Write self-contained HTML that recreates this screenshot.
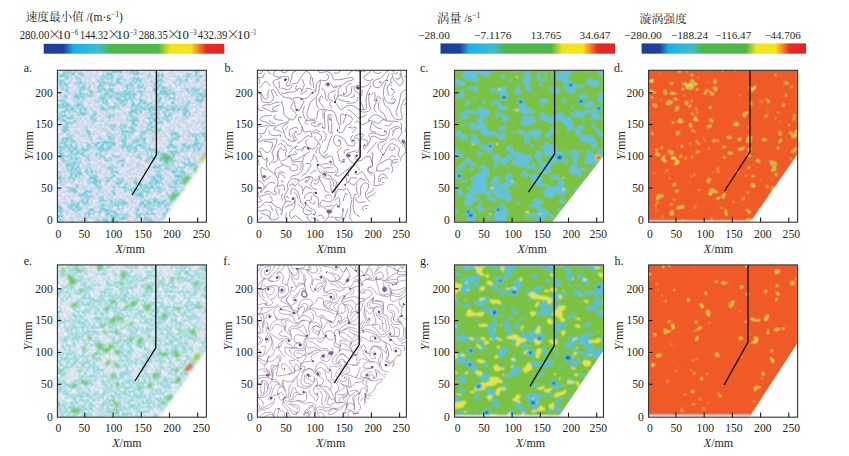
<!DOCTYPE html><html><head><meta charset="utf-8"><style>html,body{margin:0;padding:0;background:#fff;width:849px;height:456px;overflow:hidden}svg{display:block}</style></head><body>
<svg width="849" height="456" viewBox="0 0 849 456" font-family="&apos;Liberation Serif&apos;,&apos;Noto Serif CJK SC&apos;,serif">
<defs>
<linearGradient id="cb" x1="0" x2="1" y1="0" y2="0"><stop offset="0" stop-color="#1e3c98"/><stop offset="0.11" stop-color="#22409f"/><stop offset="0.165" stop-color="#16b2e8"/><stop offset="0.30" stop-color="#3cbcd4"/><stop offset="0.375" stop-color="#4cb848"/><stop offset="0.635" stop-color="#4fb947"/><stop offset="0.70" stop-color="#f2e41c"/><stop offset="0.815" stop-color="#f6e21a"/><stop offset="0.90" stop-color="#ea2a26"/><stop offset="1" stop-color="#e42126"/></linearGradient>
<pattern id="mesh" width="6" height="6" patternUnits="userSpaceOnUse"><rect x="0" y="1" width="2.2" height="0.8" fill="#8a9cc8" fill-opacity="0.5"/><rect x="3" y="4" width="2.2" height="0.8" fill="#8a9cc8" fill-opacity="0.5"/><rect x="4" y="0" width="0.8" height="2.2" fill="#8a9cc8" fill-opacity="0.45"/><rect x="1" y="3" width="0.8" height="2.2" fill="#8a9cc8" fill-opacity="0.45"/></pattern>
<filter id="spk" x="0" y="0" width="1" height="1" color-interpolation-filters="sRGB"><feTurbulence type="fractalNoise" baseFrequency="0.45" numOctaves="1" seed="7" result="n"/><feColorMatrix in="n" type="matrix" values="0 0 0 0 1  0 0 0 0 1  0 0 0 0 1  3 0 0 0 -1.25"/></filter>
<filter id="soft" x="-0.5" y="-0.5" width="2" height="2"><feGaussianBlur stdDeviation="0.9"/></filter>
<filter id="mb" x="-0.2" y="-0.2" width="1.4" height="1.4"><feGaussianBlur stdDeviation="1.4"/></filter>
<filter id="bl" x="0" y="0" width="1" height="1"><feConvolveMatrix order="3" kernelMatrix="1 2 1 2 4 2 1 2 1" divisor="16" edgeMode="duplicate"/></filter>
</defs>
<g fill="#231f20">
<text x="25.7" y="21.3" font-size="11.6">速度最小值 <tspan font-size="11.5">/(m·s</tspan><tspan dy="-4.2" font-size="7.6">−1</tspan><tspan dy="4.2" font-size="11.5">)</tspan></text>
<text x="19.7" y="39.3" font-size="11.6" textLength="29.6" lengthAdjust="spacingAndGlyphs">280.00</text>
<text x="48.1" y="39" font-size="13.2" font-family="Noto Sans CJK SC,sans-serif" font-weight="300">×</text>
<text x="57.5" y="39.3" font-size="11.6" textLength="12.8" lengthAdjust="spacingAndGlyphs">10</text>
<text x="70.8" y="34.6" font-size="7.6" textLength="7.5" lengthAdjust="spacingAndGlyphs">−6</text>
<text x="80.1" y="39.3" font-size="11.6" textLength="28.0" lengthAdjust="spacingAndGlyphs">144.32</text>
<text x="107.3" y="39" font-size="13.2" font-family="Noto Sans CJK SC,sans-serif" font-weight="300">×</text>
<text x="116.5" y="39.3" font-size="11.6" textLength="12.8" lengthAdjust="spacingAndGlyphs">10</text>
<text x="129.8" y="34.6" font-size="7.6" textLength="6.9" lengthAdjust="spacingAndGlyphs">−3</text>
<text x="138.8" y="39.3" font-size="11.6" textLength="28.9" lengthAdjust="spacingAndGlyphs">288.35</text>
<text x="166.9" y="39" font-size="13.2" font-family="Noto Sans CJK SC,sans-serif" font-weight="300">×</text>
<text x="176.2" y="39.3" font-size="11.6" textLength="12.8" lengthAdjust="spacingAndGlyphs">10</text>
<text x="189.5" y="34.6" font-size="7.6" textLength="7.2" lengthAdjust="spacingAndGlyphs">−3</text>
<text x="197.8" y="39.3" font-size="11.6" textLength="29.6" lengthAdjust="spacingAndGlyphs">432.39</text>
<text x="226.6" y="39" font-size="13.2" font-family="Noto Sans CJK SC,sans-serif" font-weight="300">×</text>
<text x="237.0" y="39.3" font-size="11.6" textLength="12.8" lengthAdjust="spacingAndGlyphs">10</text>
<text x="250.3" y="34.6" font-size="7.6" textLength="5.4" lengthAdjust="spacingAndGlyphs">−3</text>
<text x="437.0" y="23.0" font-size="12.2">涡量 <tspan font-size="11.5" dy="-1">/s</tspan><tspan dy="-4.2" font-size="7.6">−1</tspan></text>
<text x="418.1" y="38.5" font-size="11" textLength="31.8" lengthAdjust="spacingAndGlyphs">−28.00</text>
<text x="474.1" y="38.5" font-size="11" textLength="37.4" lengthAdjust="spacingAndGlyphs">−7.1176</text>
<text x="530.8" y="38.5" font-size="11" textLength="30.4" lengthAdjust="spacingAndGlyphs">13.765</text>
<text x="579.5" y="38.5" font-size="11" textLength="31.0" lengthAdjust="spacingAndGlyphs">34.647</text>
<text x="624.1" y="38.5" font-size="11" textLength="37.7" lengthAdjust="spacingAndGlyphs">−280.00</text>
<text x="670.9" y="38.5" font-size="11" textLength="37.2" lengthAdjust="spacingAndGlyphs">−188.24</text>
<text x="714.9" y="38.5" font-size="11" textLength="36.3" lengthAdjust="spacingAndGlyphs">−116.47</text>
<text x="764.4" y="38.5" font-size="11" textLength="36.5" lengthAdjust="spacingAndGlyphs">−44.706</text>
<text x="639.6" y="23.0" font-size="11.8">漩涡强度</text>
</g>
<rect x="43.7" y="43.8" width="180.6" height="9.9" fill="url(#cb)"/>
<rect x="440.5" y="43.4" width="174.5" height="10.3" fill="url(#cb)"/>
<rect x="641.6" y="43.4" width="164.5" height="10.3" fill="url(#cb)"/>
<clipPath id="cpa"><polygon points="57.4,70.3 206.4,70.3 206.4,157 162,222.2 57.4,222.2"/></clipPath>
<clipPath id="cra"><rect x="57.4" y="70.3" width="149" height="151.9"/></clipPath>
<mask id="mka" maskUnits="userSpaceOnUse" x="47.4" y="60.3" width="169" height="171.9"><polygon points="51.4,64.3 212.4,64.3 212.4,150.4 210.9,150.4 157.5,228.8 51.4,228.2" fill="#fff" filter="url(#mb)"/></mask>
<g clip-path="url(#cra)"><g mask="url(#mka)">
<g filter="url(#bl)"><rect x="57.4" y="70.3" width="149" height="151.9" fill="#ccd6ec"/>
<path fill="#68c8d6" fill-rule="evenodd" d="M63.9 70.3l6.6 0 1.2 2.5 1.2 .2 1.8-2.7 1.5 0 0 .5 1.7 1.7 1 .2 2-1.1 1 .3 1 1.9 1.9 2-.9 .4-3-.1-1-.6-1.3 1.3 .3 1.1 2.6 1.9 .9 2 1.5 1.5 1 .4 2-.3 2-1.1 1 .6 1.4 1.9-2.1 2 1.7 2 .2 1 1.6 1 .4 2-.3 3-2.9 2.1-1-1.8-2.3-.3-.1 2-2.6 1-1 1-1.7 4 .7 1.5 4.8 2.5 2 4-4.8 4.1-2 .7-2 1.9-1-.2-2-2.5 0-1.5-2-2.5-2 .8-1-.8-2.4 1-.6 .7-2-1.4-1.3 .7-.3 2 .7 2 2.9 .3 .9-1.3-.1-1 1.2-.9 3.1 .9-.3 3 1.7 2 0 2-4.5 3-1.6 4 .2 2-1.8 1-.7 1 .9 1.1 2 .5 1-.3 .6 1.7 1 1 .1 1 1.3 2.6 3.9 1.4-1.2 2 .8 2-.2 2 .7 .9 2.2-.9 .8-1.2 1-.1 1 .9 1-.3-.4-1.3 .7-1 .7-.9 2-.7 2.9 .6 2.1 1.8 1-.3 1-2 2-.6 1-1.9 3 1.2 .2-1.2-1.5-1-.8-2 .4-1 .7-.4 2 1 1.1 2.4 1.9 1.4 2.5-1.4 .5-1 .3-3 1.7-3.5 1-.3 2 .2 1 1 .8 1.6 .2 3.1 2 3.9 .1 3-.8 2-2.3-.3-2.3 3.3-3.7 .7-2 1.4-3 .6 .1 1.3 1.8 2 .2 1 2.9 1.8 1.8-.8 1.2-2.2 1 .6 2-1.3 2.5-.1 .3 1-1.5 2-2.7 0-.5 1 .5 1-.6 1.2-1.6 .8-.4 .7-1-1-1 0-1 .9-.9-.6-.2-1 1.1-1-1-.9-5 .4-5.2-3.5 0-1 .9-1 .6-2-.2-2-1.5-2-1.6-.6-1 .3-2.6 2.3-.3 2-2.1-1-2.1 2 .4 2 .7 .8 1 .4 2.2-.2 1.5 5-.7 .6-1-.4-3-3-2-.2 .4-1-.6-1-1.7 0-.3 1-.8 .2-.3-1.2-2.7-1.2-1.1 1.2-.1 1 .2 .5 1 0 2.4 2.5 1 3-.4 1.2-1.1-.2-.3 1 .4 1 1.3 0-.9 1 1 3-.3 2 1.5 2 .1 3-.3 1-1.4 1.2-1 0-2-1.9-3 3.7-2 .9-2 0-2.7-2.9 1.5-3-1.6-4 .2-1-1.4-1.3-.2-1.7-.8-1-.6-3 .3-1-1.7-.1-1-.7-2-3-2-1.1-1.5 0 0-5.9 .5-.2-.5 0 0-2.9 .6-.1 1.4-4-.8-2 1.3-1 2.6-4 1.4-.6 1 .1 .8-1.5 0-3-.4-1-1.4 .2-1 .9-2-1.1 0-1.2 1 .3 .6-1.1-.1-1 1.1-4-.6-3.4-2-.4-2 .6-1 2.1-.5 0 0-8.3 1.4-.6 .4-2 4-4-.3-.6-3 .9-2.5-.5 0-7.4 1.6-.4 .9-1.7 1-.6 2-.5 3-5.2 .1-1-1.1-1.2-4-1.7-.7-1.1-.6-4-1.3-3 .1-3-.3-1-.7-.1 0-3.6 3.5 1.8 1.6-1.1 .4-1-.8-1 .8-.5 .3-1zM72.8 74.8l-2.9 3.8-2-.2-4.8 1.4 .9 2-.1 1.2 3-.2 2-1.1 1.9 1.1-.2 1-2.6 1 .1 4 1.2 1 .3 3-1.1 1-1 2 0 1-2.3 2 2 2 2.7 4 1-.3 .4 .3 .6 2.4 3-1.5 .6-.9-.8-3 .1-2-1.9-4-.1-1 2.1-2.9 2 .5 1.4-.6 2-3-.4-2-4.5-1-.5-.6-.2-.4 1.3-3-.4-5-1.7-2.4zM77.3 79.8l.5 1 1.1 .5 .6-.5-.6-1.9zM86.8 87.8l-2 2 2.1 3.2 1 .6 .7-.8-.4-1 .3-2zM73.7 109.8l1.2 1.9 1-.2 1.2-1.7-.2-.7-1 .5-2-.2zM67.7 128.8l.7 0-.5-.4zM64.3 147.8l1 4 1.2 1-.6 1.1-2.1-.1 .2 1 1.9 .6 4-.6-.2-2-1-2 .6-2-.4-.4-1 .8-3-1.9zM70.3 155.8l-1.1 1-1.3 0-2.1 1-.8 1 .8 1 .1 2.7 2.9-1.7 .5-2 1.6-1.1 .5-1.9-.5-.7zM73.8 160.8l.1 1 .4 0zM73.9 172.8l-1.5 1 .5 .8 1-.8zM108.9 70.3l14.5 0-.7 1.5-1.8 1.7-1-.1-2-1.9-1 .3-4.4 4 1 3-.2 1 .6 .4 3-1.3 1-1.5 1.1-.6-.1-1.8-1 0 0-1.3 1 .9 2-.2 .4 1.4 1.5 2-1.8 3 .3 1 1.4 1-1.2 1-2.6 1.2-5-.1-.6 .9 1 3-1.4 .3-.7 .7 2.2 2 .5 2.8 1-1.8 2-1.3 5-.8 .8-.9 .2-2 1.3-2-.3-1 4-2.1 1 .3 .2-2.2 3.8-4.9-.1-1.1-.9-1.3-3 .8-2.4-2.5-.4-1.5 15.2 0-.4 1.7-2-.9-.5 .7 .4 3-.5 3 .4 1 2.6 1 .3 1-.5 1 1.1 3-.1 1 1.5 2 .2 1-.4 3-1.8 2-.3 1-.2 1 .8 1-1 .5 0 1.1 1 .6 1-.3 2 2.1 5 2.7 5-2.3 1.2-2.4-.4-2-2.5-4-1.3-.4-1.9-3.6 2.6-2 .7-1 .1-1-1.5-1.7-2 .2-1.4-.5-.8-1 2.2-1.9 1 .4 1 2.2 2 .2 2-.5-.5-1.4 1-2-1.1-1-.2-2 1.4-1 .7-2 .7-.8 1-.1 3 2.1 1.5 1.8-1.8 2 .5 2 .9 1-1.9 1-.1 1 .9 1.7 2 1.3 .2 1 1.8 1.4 1 0 1 .7 2-.9 1.6 1.8 .8 2 2.9 1 .2 1-.8 1 .5 1-1.2 1.4-.7 3.6 .7 2.4 5 2.6 1-.1 0 1.3 2 .2 1-.8 .8-2.6-.3-1-2.5-.4 0-1.6 1-1.5 2.4 .5 .6 2.2 4-.4 1.1 1.2-1.7 2 0 2-1.5 1 2.1 4.9 1 .7 1-.9 1.7 .3-1.7 2.2-1-.9-2.8 2.7-1.2 1.9-1.2 .1 0 1-.8 1-1.5-1 .2-1 .9-1-.6-.7-1.1-.3 .6-2-1.6-3 0-1-.9-.4-2 .9-3-.7-2.6 3.2 .6 1.8 1.2 .2 .2 1-.4 .3-1-.3-3-1.4-1.7 1.4 1.3 3-.6 1.3-1 .1-1-.7-1 .5-1.4-.2-1.6 2.7-2-.9-3.2 1.2-.7 2 1.9 1.5 1.9 2.5 1.5 3-.4 .5-1 .6-1-1.7-4 .8-5-1.1-2 .3-2-.8-1.9 1.4-.6 3 1.7 2-.5 2-1.8 2 1.2 3 .9 .8 1 .4 1-.2 2 1.1 2-.4 0 1.3 1 1.3 4 1.8 5-.1 2 .7 1-.3 .5 .6-.9 1-.1 2 .6 1-1.5 1-.5 1 .9 3 1 0 3-3.6 2.5-1.4 .2-1-3.7-4 .5-1-.5-.8-1-.3-.5-1.9 .1-1 1-1-.2-1 1.2-2-.3-1 .5-1 3.5-1-.2-1-2.1-2.8-1.3-.2 .1-1 3.2-2.5 4 .1 3-.6 .6 1-.3 1 1.2 1 .3 1-.8 1-.3 2-.7 1.5-1 0-1 1.1-3-.5-1-.7-.4 .6 1.7 5 2.7 1.7 .4 2.3 2.6 1.9 1-.2 .6-.7 .5-2-.4-2 1.3-3.1 2 .3 2 1.8 7-1.6 .5-2.4-1.1-2 .3-1-2.5-2 .3-1 1.5-.9 3 .4 2-.5 2 1-.7 2 .7 1-1.6 4 .6 1.4 1 .2 2-1 1.4 .4-.2 2-1.6 1 .1 1 1.4 1-2.1 2.4-2 .7-2-.1-1 .9-1 0-2-1.3-5 .4-2 1-3-.7-1.4 .7-.6 1-1-.6-1 .1-.3 1.5-2.9 1-.2 1 1.3 1 .4 2-1.6 3-3.6 3 .9 1.8 2 0 1 1.4 1.1-.2 .2-1-.5-1 1.2-.5 .5 .5 0 1 1.5 .9 1.6-.9 .4-.7-1.2-2.3 .9-2-.1-1 1.4-.5 1 2.2 .7 .3 3.3-.3 .5-1.7-1.2-1 .1-1 1.6-1.2 1 1.9 2 0 .4 2.3 .6 .7 3 .4 1.4 .9 .5 2-.7 1 .8 1 1 4.4 1.7 .6 .2 2 1.1 .2 2.3 1.8 .7 3-3 1 3 .7 .5-.7-.5-1 1-.5 1-2.3 .5 0 0 9-1.2 .8 .1 1-1.4 .9-1 .1-1.1 2-1.9 .9-4-.9-1-.5-1-2.5-2.2-1 0-1-1.2-1 .8-1 .4-3-2.8-1.5-2.1-.5 .8-1 2.3-1.4 3-1 2.7-2.6-1-3-.7-.8-2.2-.2-.8-1.2-2 .2-2-1.2-2-.5-1 .1-.5 .6 2 2-1.2 2 .4 1-.1 3-1.3 2 .9 1-.2 .6-3.7 2.4-.6 1-.1 2-1.2 2-3.1 2-.1 1 1.8 2.1 2-.6 1 .5 1-.4 2-2.3 1.5-.3 .5-1 .4 0 .6 1-.4 1 .4 .6 1 .1 1-1.2 2-.3 1.2 1.8-2.2 1.3-1 1.3-2-1.1-5 1.3-.7 3.2-1.5 1 .2 1.1-2-.7-2-2-1 0-1.7 2.6 .7 2-.2 1-5.4 5-.2 1 1.4 2 1.4 4.2 2.3 .8 .4 1-.5 1 .8 1.3 2.6 .7-1.6 2.9-1 .9-1.5 .2 1.5 .4 .3 1.1-3.3 0 .8-1.5-1.2-2-1.6-.3-1 .4-1-.2-1 .8-.3 1.3-.7 .6-1 .3-2-.3-.9 .4 0 .5-6.5 0-.6-1.3-1 .2-.8 1.1-1.4 0 0-.5-.8-.2-1.8 .2 0 .5-1.8 0-.3-1.5-1-1-2.1 .8-.7-.8-.4-2-.9-.5-1 .6-2-.9-2 .8-.1-3 .7-4-.9-2 .3-1 2.7-1 .3-.5 .7 1.5-.6 2 .9 2.3 1.8 .7 .2 2.8 1-.1 .4-1.7 .6-.8 1.4-.2 2.6-2.9-.2-2.1-1.8-1.4-1 1.1-.4-.7-1.6-.8-3 .1-2.4-1.3 .4-1.1 2-.3 .6-2.6 1.4-.3 .5-.7-.4-1 2.9-.3 2-1.7 .4 1-.8 2 .4 .4 1-.7 2-.3 2-1.5 2 .5 1-.7 2-.2 3 1.7 2 0 2-1 4 3.8 .5-1-.5-2 .5-2-.5-1.1-2-.6-.1-1.3 1.1-1.6 1-.5 1 2.5 2-.2 .7-2.2 1.3-.3 .6-.7-.2-1 .7-1-1.6-2-2.5-.2-2 .9-.7-1.7 .2-1 .5-.7 2-.9 1-3.3 4.5-2.1 .2-1-1.1-1-.5-2-2.4-2 .1-3 1.6-2-.4-.6-2 .1-2 2.9-6-1.6-1.6 1.2-.1 2-1.3 .9-2-1.5-1 .5-2-.4-2.5-4.5 1-2 .5-.5 1 .1 2 1.2 1-1.1 2 0 2-1.1 1 .5 1-.4 .6-1.7-1.6-.7-1 1.1-1 .1-1.4-2.5-1.6-.8-2 .2-.1 .6-.9 .4-2-.3-2.8-3.1-.2-1-.2 6-.8 1.2-2-.7-1.5-1.5 0-1-.9-1 1.4-.1 1-.7 0-2.2 .6-1-2.6-6-3-.8-1 .5-1-.2-3.7 3.5-.2 1 3.9 1.9 .9 1.1 .9 4-.8 .9-1.9-.9-1.1-1.4-2.6-.6-.3-1 1.1-1-1.2-2.4-4 .4-1-.9-2-.3-.4-.8-2.6-1.5-3-.8-.4-.7-.1-3 .7-2-1.2-1.2-.9-2.8-.9-1 .2-1 1.6-1.1 1.4-1.9 .1-1-2.2-2-.1-1 .8-2-.7-1 .4-2-.7-.6-2-.3-3 3.1-1 2.2-1 1-1.8-1.4-1.4-3-2.3-2 .5-.6 4-.3 2 1.2 1-.1 1-.8 3 .5 1-.9 2 .4 2-.6 2 .8 1 1.8 2 1.2 1 .1 1.2-.7 .3-1-.5-2.3-2-3.7-3 .8-.3-.8 .3-1.3 1.8-.7-.2-2 1.2-1 .6-3-1.4-2 2-1.5 .8-1.5 .7-3-.3-3-1.2-.8-1 0-4 6.4-4 1.2-2-.2-4 2.5-2-1.1-3-.3-1 .8-1 1.9-1 .3-1-.8-1-.2-1 .7-2-1.2-2-.2-.5-3 .5-.5 1 .3 .6-.8 .2-1-.6-1-2.2-1.5-2 .5-1-.9-1 .3-.7-1.4 .7-.7 1 .6 1-.4 4-5.5-.2-1-2.3-2-.5-3-.9-2 .9-1 .1-3-.6-1 .2-1-1.4-1 .7-.9 2 1.2 2 .3 .3-1.6-.5-2 1.5-3 .7-.7 1 0 2 1.1 .8-.4 1.8-3.5zM105.9 76.8l-.1 2 1.1 .6 .6-2.6-.6-.7zM108 79.8l-.1 2 .4 1 .6 .7 1 .2 1.5-1.9-1.5-2.1-1-.4zM135.5 82.8l-1.6 2.6-1.2 .4-.7 1 .4 1 2.4 2 0 1-.9 .8 0 .5 3.5 2.7-.9 2-.2 2-2.8 2 .1 1 2.3 1.6 2-.5 1.5-1.1 .3-1-1.4-2 .7-1 2.4-1-1-1-.3-2-1.2-.1-1.3-2.9-1.8-2 2.7-2-1.6-4-1-.4zM105.5 83.8l-1.2 1-.4 1.7-1.4 1.3 .4 .4 2-.1 2 1 2.1-1.3 .8-2-.9-.9-1.5-.1-.5-1.1zM127.6 85.8l.3 1 1 .8 1 0 1.4-1.8-2.4-.7-1 .1zM160 86.8l.9 1.1 1-.1-1-1.3zM113.7 94.8l-1.8 2.8-3 1.2-1.6 2 .6 2 .9 1-.4 2 1.5 .1 3-1.2 2-2 1 .9 2-.5 2.2-1.3-.2-.4-2 0-2-1.9-1.5-3.7 .3-1zM124.6 95.8l.5 0zM164.3 97.8l-2.5 2-.3 1 .9 3 1.5 .9 4-.5 .8 .6-.4 2 .6 1.3 1 .6 1-.3 1-1.6 .3-2-1.8-1 .9-2-.4-.8-1-.1-2-2.5-1 .4-.7-1-1.3-.3zM171.5 99.8l-.1 1 .5 .1 .8-1.1-.8-.5zM120.8 102.8l-1.6 2 .7 .2 1-.6 .4-.6zM185.7 106.8l.2 .4 1.1-.4zM144.5 109.8l-3.6 3.8-2-.1-2 1.1-1-.7-1 0-1.3 1.9-.3 1 .6 .6 1 .2 1-.7 2.7 .9 .7 2-1.8 4 .2 2-1.5 1-.6 1 1.2 5-.9 .5-1-1.3-1 .5-7.2 6.3-.5 4 2.7 1.9 1-.1 2-1.8 1-2.3 1 0 2-1.6 3-.4 .7-.7 1-2-.2-1-1.2-1 .1-1 1.6-2.1 1 1.1 1 0 2-1.3 1 .2 .9-.9-1.1-2 .2-.8 1.1-1.2-.1-1 .9-1 1.1-.3 .4-.7 .2-3-1.6-.7-.7-1.3 .5-1-.3-2 .6-5-2.1-.3zM159.4 110.8l-1 5 1 2 .5 2.8 .3-1.8 .7-.3 .6 .3-.4 2 1.8 .7 1-.1 .7-.6-.1-1-1.4-2-.1-1 1.8-1-1.8-2 1.9-1 .2-1-1.2-.5-.9 .5-.1 1.7-.3-2.7-1.7-.6zM170.6 110.8l1.3 .3 .1-.3-1.1-.5zM131.6 114.8l.3 .3 .4-.3zM129.8 146.8l.1 .6zM128.8 147.8l.1 1.3 .9-1.3-.9-.5zM154.8 157.8l1.1 .9 1.2-.9-1.2-.4zM177.7 194.8l1.2 .3 .1-.3zM153.2 206.8l-.4 1 1 2-.5 2 .6 .6 2-.3 .8 .7-1.8 1.6-2-.8-2 1.5-1-.2-.5 1.9 .5 1 1-.5 .7 .5 .7 1-.5 1 1.1 1.5 2-.1 2 1.1 2-.2 1.5-1.3 1.8-5-.1-1 .9-2 1.2-1 .3-4-.3-1-.3-.6-2 .3-3 1.2-.6-.9-1.4-.5-3 0zM148.8 211.8l.1 2 1 .7 1.1-1.7-.2-1-.9-.4zM185.9 70.3l1.9 0-.9 1.8-1.7-1.3 0-.5zM198.9 70.3l.9 0 0 .5-1.5 1 .4 1 1.2 1.6 1.3 .4 1.4 3-.1 1-1.5 1-1.7 0-.5 1 .2 1-1.1 1-1 .2-1-1.2-.4-3 1.7-2-1.3-1.3-1 1.6-.8-.3 .1-3 .7-2.2 2 0 1-.4 .2-.9zM204.9 70.3l0 .6-.4-.1 0-.5zM146.9 72.3l3.2 .5 .7 1-.1 2-1.8 .9-3.9-2.9zM141.9 73.2l1.1 .6-1.1 .6zM188.9 73.3l1 .3 .6 1.2 .4 5.1-5 1.9-1 .9-2-1.5-1.9 1.6-.3 1-1.8 1.1-.7-1.1 .6-1-.9-.7-1 .3-1 1.5-1 .3-2.2-.4-.4-1 .6-.4 3-.6 1-4 1.3-1 1.7-.6 .8 .6 .2 2.2 2 .4 1.6-1.6 1.4-2.7zM85.9 74.4l.6 .4-.6 .6-.7-.6zM192.9 77.6l.4 .2-.4 .2zM123.9 78.5l3-.1 1 .4-1 1.2-2 1.1-1.3-1.3zM168.9 86.7l0 .6zM184.9 86.8l2-.1 .4 2.1 2.6 2.4 1.6-.4 .4-.9-1.4-1.1 .4-1.2 2-.1 2 .8 1-.5 4 .5 .5 .5-1.1 3 .1 1 .5 .3 2-1 2 .4 .6-.7-.1-2 3-1.9 0 11.3-2.5-1.2-.9 .8 .4 1-2.8 3 0 2-.7 .6-2-.5-.2-2.1-.9-1-1.9-.6-.7-1.4 1.5-2-.7-1-1.1-.8-2 0-2-1-4-3-1-1.8-1-.6-1 .4-1-.8-.1-1.4zM197.3 93.8l.6 .9 .8-.9-.8-1zM197.8 95.8l.6 1 2.3 0-.2-1-2.6-.6zM152.9 99.8l0 1.2zM92.9 108.4l2-.1 .5 .5 .7 2-.6 2 1.4 .6 1 2.4-.7 3-1.7 2 .4 2.3-1 .3-5.1-2.6-.2-3 2.2-2 .8-2 1-1-1.7-4zM195.9 112.6l0 .4zM88.9 113.4l1.1 .4-1.1 1.1-.6-1.1zM106.9 113.4l1 1.2 2-1.3 2 .8 3 0 1.4 .7-.4 1.2-2 .3-4 3.2-1 0-1.1-.7-1.9 .2-1-1.2 .1-2 .9-1.6zM202.9 114.6l.6 1.2-.6 .3-.5-.3zM160.9 116.7l.3 .1zM203.9 116.5l1.7 .3 .2 1-1.1 3 .6 1-.3 1-1.1 .6-1.4-.6 .7-2-.5-1zM101.9 120.3l1.6 .5-1.6 1.6-.6-1.6zM104.9 121.2l.6 1.6-.6 2.5-1.6-1.5zM125.9 121.5l0 .4zM199.9 122.4l2 .9 .3 .5-.3 .6-1 0-.8-.6-.7-1zM100.9 124.7l1-.6 .7 .7-.7 1.7-1-.7zM83.9 125.7l2 .7 .8 1.4 2.2 1.3 1.4 1.7 .8 7 .8 .7 2-1.1 .1 .4-.1 1.7-1.3 1.3-1.7 .5-1-3-2-.9-1-2.1-2-1.8-.7-2.7 .4-1-1.3-2zM97.9 125.5l.9 .3 .4 1-.3 .4-1 .2-.5-.6 .1-1zM101.9 127.7l1.6 1.1-.6 .6-1-.5zM203.9 128.5l2 0 .9 1.3-1.3 1-.1 1 1.5 1.7 .5 0 0 9-1.5-.6-2 .6-.5-.7 .9-3-.3-2-3.1-1.9-1-.1 .9-3 1.1-.7 1-2.3zM106.9 129.1l1.2 .7-1.2 1.6-.6-.6zM70.9 130.8l.8 1-.8 .4-.8-.4zM76.9 130.4l2 .4 .5 1-.5 .6-2-.1-.8-.5 .2-1zM99.9 130.6l1-.3 .9 .5-.9 .4-1.3-.4zM187.9 131.5l1 .8 2.9-.5-1.2 1-.3 2 .6 2-1 .5-2.1-1.5-.1-3-.7-1zM152.9 136.9l1 .4 .9 1.5-.6 2-1.1 1-.2 1.1-1-2.1zM206.9 148l.5 0 0 10.1-1.5 .7-1 1.1-1-.1-.9-2-.3-3 2.2-.7 1 .3 .3-.6-1.2-1-.3-1 1.2-1zM201.9 152.8l2.6 0-1.6 .6zM118.9 153.4l0 .8-.4-.4zM116.9 155.6l2-.3 .8 .5 .2 1-.5 1 .5 .8 3-.6 1.1 .8 .5 1-1.1 2 1.3 2-.7 1 .3 1-1.4 1.5-1 .1-3-4.9-.6 .3 .1 1-.9 1-.6 .4-1-.4 .3-1 1.7-1.4 1-2.6-3.1-2 .8-1-.2-1zM181.9 155.7l1.7 1.1-1.7 1-.8-1zM133.9 156.8l.5 0zM191.9 157.6l0 .5zM183.9 158l1 .2 1.1 1.6-2.3 0-.3-1zM137.9 160.8l0 1.3zM87.9 162.8l1 .1 .9 .9-1.7 2-.1 1 1.9 .8 1.1-.8 1.9 2 1 .5 1-.5 1 .7 1 6.1 1.8 .2-.5 1 .3 1 3.3 3-1.9 2 .8 2 2.7 2-1.5 1.6-.1 1.4-1.2 1-.7 2.1-1.5-1.1 0-2-1.5-1.4-1-.2-1 1.5-.5-.9 .9-2 0-1-2.4-.6-2 0-1.3-1.4-.1-1-1.5-1-.2-1 1.1-1.7 .3 .7 1.2 0-3.3-4-.9-3-1.1-1 1.1-3-.7-2 1.5-2-.1-1.1zM96.9 183.8l1.8 0-.8-1zM136.9 162.8l1.6 3-.6 1.2-2 .2zM110.9 164.1l1-.1 3.6 2.8 1.3 4 1.8 2-.7 2-1.8 2 .8 .9 1.2 .1 1.8 1.3 1.9-.3-.2-1 1.3-.2 1.5 2.2-.9 1 .4 2.1 1 .8 2-.3 1-1.1 .7 .5-.7 1.8-1-.5-1.4 1.7 .4 .7 4 .1 2 1.2 1 1.4 1-1 1-2.3 1 .8 .6-1.9-.6-.5-1 1.3-1-.9-1.1-2.9 .7-2-.8-1 .2-1 1-.7 1.8 .7 .3 2 4.9 3 3 .4 2 1.7 2-.7 1.3-1.4-.1-5 .8-.9 3-1 2-1.4 2-2.6 1 1.2 2 0 .1 .7 .9 .4 2-.1 1.6 .7 .4 1-.4 2-1.6 2 .4 1-.6 2 .1 2-1.9 .8-.5 1.2 .5 2.4 1 .2 1-.9 1 0 1.8 1.3-.8 .7-2-.2 .2 2.5-2.2 .7-3-2.2-1-1.3-3-.3-1.6 1.1-1.8 3-2.6 1.4-3 .5-3 3.5-2-1.6-3 0-1-1.6-4-.5-.8-.7 .2-2-1.4-2.6-1-.2-2 1.8-1-.1-1.3 1.1-1.7-2.9-2-.3-.6-.8 .6-1.8 2 .5 .6-.7-.6-1-2 0-2 .9-1-.4-1.3-1.5-.7-2 1.1-3-2.1-1.6-5.1 .6-.4 1 .9 2-.4 1-1-.5-2 .7-1.4-1.2 0-1-.9-2 .9-2 1.4-1 1 0 1 .9 2.4-1.9 .4-1-1.8-1.8 .4-1.2-.4-1.4-1 .1-1.2-1.7 .2-1 2 .2zM134.8 179.8l.4 0zM141.9 167.6l.3 .2-.3 .3-.3-.3zM57.9 169.6l1.7 3.2-.1 1-.8 1 .2 .4 2 .1 4 2.5 .7 1 .5 2-1.2 1-1 2.4-2-1.6-3 .8-1-1.7-.5 0 0-9.9 .5 0-.5 0 0-2.2zM147.9 173.7l.8 1.1-.8 .5-.4-.5zM78.9 179.6l0 .3-.6-.1zM76.9 183.4l2 1.6 .1 .8-.2 1-1.9 1.9-.8 .1 1.7 2-.2 2-2.7 2.4-.8-.4-.3-1-1.3-1-.6-1.9-2 1.2-3-1.3 0-3 1-.8 2 1.5 3-1.7 1 .7 1-.1 1.3-1.6-.1-2zM110.9 183.6l.4 .2 0 1-.4 .7-.5-.7zM113.9 185.7l1-.3 .8 .4-.6 2 .2 4 .1 1 .8 1-.1 1-2.1 1-1.1 2-1.5 1 1.5 1.1 3-.9 .7 .8-.7 2 1 .1 5-2.7 1 .3 1 1 3.3 1.3 1 1-4.7 4-.6 2.5-1 0-1-.6-1 .3-.7 .8 .3 1-.6 .8-1.9 .2 1.9 3.1 1-.7 2 .1 4-.9 2 .7 .8 .7-.6 2-4.4 5-1.7 1 0 .5-.8-1.5 .6-1-.9-.8-2 1.4-.4 1.9-12.5 0 0-.5-1.1-.4-2.1 .9 0-.5-.9-.5-1.6 .5 0 .5-4.7 0 0-.5-1.1-1-.2-1 .4-1 2.2-1 2 1.3 4-1.2 1 .5 1-.6-.5-1 2.5-3-.9-1 .4-1-1.5-.7-2 1-2-.1-3 2.9-.9-1.1 .8-2 1.8-1-.8-1 .6-3-.2-3 .5-1-.9-1-.1-1 .7-2-.5-.8-1.4-.2 2.6-2 .8-1.4 .7 1.4 2.3 .7 2 2.1 1.5 .2 .2 1-1.9 2-.2 1 1.4 2.2 2.4-.2 .4-1-.4-1-.1-4 2.1-2-1.5-2 .1-2 2.3-1 .8-1-1.1-1 .9-2-.6-1 1.6-1zM121.4 204.8l.5 .3 .6-.3-.6-.8zM112.3 206.8l-2.4 .5-1 1.5 3 1.2 2 0 3 1.7 .2-.9 1.1-1-1.3-1-.9 0 .9-.4 0-.7-3-1.5zM98.2 221.8l.7 .7 .3-.7-.3-.4zM90.9 186.2l1.5 1.6-.7 2 .6 3-.6 1 2.1 4-.9 .8-1 .1-2-1.3-1.3 1.4-.3 2 1.5 2-.3 2-.6 .5-6-.8-.9 .3 .5 2-1.1 3-2.5 3-2 .4-6-2.7-3.1-2.7-.5-1 .4-1 3.2-3.4 1-3.9 2 2.8 2 1.2 3-.7 3 2.9 .5-1.9-1.5-2 .5-4-.5-1.1-2-.3-.5-.6-.7-1 .4-1 1.8-.7 2 .4 3-1.9 5-1.1 .5-.7 0-2zM206.9 188.6l.5 .4zM163.9 193.4l0 .7-.3-.3zM195.9 195.8l1-.5 1 .3 1.4 2.2 .3 3-1.5 2-2.4 1-1.7 2-1.1 .6-1-1.4-1-.3 0 2.1-2 1.1-.7 .9 .3 1 1.4 2 1-.4 2 1.4 3.7 1 .8 1 1.5-.5 2 .8 .9 1.7 2.1 .1 1 .9-.3 1-1.4 1 1.8 2 .3 1.5-7.2 0-.3-2.5-1.9-2.6-1-.7-3-.8-1.2 1.1-.4 1 .2 1-.8 1-.8 .4-1-.9-2 .2-2-2.7-.1-2-1.2-1-.1-1 .9-1-2.5-3 .5-1-1.4-4 2.3-2-2-1-.4-1 1-2.3 2 .3 1.7 2 .1 1 3.2 2.2 1-.2 2-2.2 .8-1.8 .2-2.4zM191.6 203.8l.3 .4zM133.9 198.5l1 0 0 .9-1 .1-.6-.7zM131.9 199.6l.9 .2-.9 2.2-1.8-.2-.5-1 .3-.6 1 .2zM139.9 199.3l1.8 .5-1.8 .4zM61.9 204.6l.7 .2 .8 2 1 1-2.1 2-.2 1 .6 1-.6 2 .6 1 1.1 6-.8 1-2.2 1 0 .5-3.4 0 0-18zM91.9 204.1l1 1.7-1 .9-.6-.9zM87.9 208.7l4-.8 2 .5 .4 .4-.2 2 1.8 2-1 .9-2-.4-2.3 1.5-.2 1 .8 2-.3 .8-2 .9-1-.8-1 .8-1-.7-.3-2-1.1-2-.2-2 .6-.9 2-.2 .6-.9-.2-1zM205.9 208.2l1 1.6 .5 0-.5 0-.2 1-.8 .7-2 .5-.7-.2 0-1zM78.9 214.6l1 .6 1-.3 .8 .9 .3 2-3.1-.2-.6-2.8zM205.9 216.8l1.5 .2 0 4-1.5-.1-.6-1.1-.4-2zM77.9 218.4l.8 2.4-.4 1-1.8 1 0 .5-8.3 0 .7-1.4 2-.2 2-1.2 1 0 1 .8 1-.4 1-1.8zM167.9 222.7l1-.1 .2 .7-1.3 0z"/><rect x="57.4" y="70.3" width="149" height="151.9" fill="url(#mesh)"/><rect x="57.4" y="70.3" width="149" height="151.9" fill="#fff" filter="url(#spk)"/><g filter="url(#soft)"><ellipse cx="166.5" cy="158" rx="4.5" ry="4" fill="#5cc47a"/><ellipse cx="186" cy="180" rx="6" ry="3" fill="#6cc66c" transform="rotate(-50 186 180)"/><ellipse cx="174" cy="196.5" rx="4.5" ry="3" fill="#6cc870" transform="rotate(-40 174 196.5)"/><ellipse cx="203" cy="159" rx="3.5" ry="2.5" fill="#b8d040" transform="rotate(-55 203 159)"/><ellipse cx="196" cy="170" rx="3" ry="2" fill="#8ccc5c" transform="rotate(-55 196 170)"/></g></g>
</g></g>
<polyline points="156.4,70.3 156.4,154.9 132.1,195" fill="none" stroke="#111" stroke-width="1.35"/>
<rect x="57.4" y="70.3" width="149" height="151.9" fill="none" stroke="#333" stroke-width="1.1"/>
<g fill="#231f20" font-size="11.6" text-anchor="end">
<text x="52.7" y="96.6">200</text>
<text x="52.7" y="128.3">150</text>
<text x="52.7" y="160">100</text>
<text x="52.7" y="191.8">50</text>
<text x="52.7" y="223.7">0</text>
</g>
<g stroke="#1a1a1a" stroke-width="1.1">
<line x1="57.4" y1="92.8" x2="61.4" y2="92.8"/>
<line x1="57.4" y1="124.5" x2="61.4" y2="124.5"/>
<line x1="57.4" y1="156.2" x2="61.4" y2="156.2"/>
<line x1="57.4" y1="188" x2="61.4" y2="188"/>
<line x1="84.8" y1="222.2" x2="84.8" y2="217.6"/>
<line x1="113.1" y1="222.2" x2="113.1" y2="217.6"/>
<line x1="141.3" y1="222.2" x2="141.3" y2="217.6"/>
<line x1="169.5" y1="222.2" x2="169.5" y2="217.6"/>
<line x1="197.7" y1="222.2" x2="197.7" y2="217.6"/>
</g>
<g fill="#231f20" font-size="11.6" text-anchor="middle">
<text x="58.3" y="237.9">0</text>
<text x="84.3" y="237.9">50</text>
<text x="113.6" y="237.9">100</text>
<text x="143" y="237.9">150</text>
<text x="172" y="237.9">200</text>
<text x="201.4" y="237.9">250</text>
</g>
<text x="130.1" y="252.8" font-size="12" text-anchor="middle" fill="#231f20"><tspan font-style="italic">X</tspan>/mm</text>
<text transform="translate(33.3,145.6) rotate(-90)" font-size="12" text-anchor="middle" fill="#231f20"><tspan font-style="italic">Y</tspan>/mm</text>
<text x="23.7" y="71.9" font-size="12" fill="#231f20">a.</text>
<clipPath id="cpb"><polygon points="257.4,70.3 406.4,70.3 406.4,153 356,222.2 257.4,222.2"/></clipPath>
<g clip-path="url(#cpb)">
<path fill="none" stroke="#6a4c7c" stroke-opacity="0.88" stroke-width="0.68" stroke-linejoin="round" d="M387.2 81l.3-.5-.3 .5 .3-.5-.3 .5 .3-.5-.3 .5 .3-.5-.3 .5 .3-.5-.3 .5 .3-.5-.3 .5 .3-.5-.3 .5 .3-.5-.3 .5 .3-.5-.3 .5 .3-.5-.3 .5 .3-.5-.3 .5 .3-.5-.3 .5 .3-.5-.3 .5 .3-.5-.3 .5 .2-.5-.2 .5 .2-.6-.3 .6 0-.6-.5-.3-1.7 .6-1.6 1.8-2.5 4-1.5 1.1-1.8 .1-2.2-.7-1.5-1.1-.6-1 .1-2.4 .8-1.5 1.5-1 4.6-1.6 5.8-6 3-2M345 114.7l.4-.4-.4 .5 1.2-.3 1.1 .3 3.7 2 1.4 1.9-.3 1.7-2.2 2.9-4.4 3.1-2 4.9-1.3 1.3-1.7 .3-2.3-.7-1.2-1.3 .2-1 .5 .4-.1-.6-.2 .5 .5-.3-.6 .1 .5 .4-.4-.5 0 .6 0-.6M382.4 182.8l.3-.6 1.2 .3 1.2 1.2 .4 1.1-.8 5.4 .8 5.9-.4 1.7-1.3 2.7-.1 1.2 .5 1.1 1.3 1.2 1.2 .3 .6-.1 .2-.6-.1 .6 0-.6 .3 .5-.4-.4 .6 .1-.6-.1M275.7 70.6l-1.9 2.3-.4 1.1 .3 1.1 1.9 1.5 3.5 .7 7.1-1.1 1.2 .2 .9 .7 .4 1.7-.3 1.8-2.5 4.1 .6 1 1.7 .5 1.7-.6 2.3-1.8 4.2-.4 1.1-.5 3-5.1 3.6-4.8 1.8-1.5 1.2 0 2.7 2.3 2.3 3.5 1.8 10.6M301.1 92.9l-.3 .5 .6-1 .4-1.8-.3-1.2-.7-.9-1.2-.2-2.8 1-1.2-.2 .3-1.8 1-2.1M347.2 174.8l-.2 .6 .2-.6 0 .6 1 .6 .5-1.1 0-2.4-.3-1.7-.7-1-2.2 1-5.9 5.1-2.3 .2-2.2-.8 2.5-3.3 .4-1.7-1-2.2-2.7-3.1-2.2-8.1-.8-.9-1.2-.1-5.4 2.4-1.1-.6-3.2-3.6-1.3-2.6 1.1-4.6-.1-1.8-1.1-2.1-4-4.4-.4-1.2 .4-1.1M352.8 141l0-.6 .3 .5-.6-.1 .6-.2-.5 .4 .4-.5-.3 .5 .3-.5-.3 .5 .3-.5-.3 .5-.1-1.1 1-.5 1.3 1.1 .1 3-1 2.2-1.6 .5-3.6-.7-1.5-.9-2.4-4.2-1.5-1.8-2-1.4-3.8-1.8M368.9 121l1.2-.2-.5-.2-.5 .9-5.9 3.1-1.2-.1-1-.5-2.5-2.6-1.1-.6-2.8 2.2M392.2 162.2l-1.5 1.6 1.6 3.2 .3 1.7-1.1 7.1 1.1 2.1 2.6 1.4 1.9-2.2 1.9-3.7 .4-2.4-.7-1.6-1.6-.9-1.6 .6-2 3.7-.2 1.2 .4 1.1 .5 .3 1.2-.1 .8-.8 .8-1.6 0-1.7-.9-.8-1.1 .6-.6 .9-.4 2.3 1 .5 1.2-1.3 .2-1.2-.5-1-1.1 .6-.6 1.6 .7 .9 .9-.8 .3-1.1-.2-.6-.6-.1-.8 .9 0 1.2 .5 .2 .8-.9-.1-1.2-.6 .1-.5 1.6M387.7 190.3l2.2 2 2.9 .7 1 .6 4 5.3 .3 1.1-.4 1.1-1.4 1.1-8.9 1M324.6 221.2l2.6-2.6 1-1.5 .5-1.7-.2-1.8-1.5-3.3-2.6-3.2-2.9-.5-1.1-.5-.5-1.1 .2-1.8 .7-1.6 1.3-1.2 1.2-.1 3.4 1.2 2.4 .3 2.3-.6 1.8-1.5 1-1.5 .7-2.3 .2-7.2 1.6-5.7-1-2.1-2.5-1.6-1.8-.4-4.1 0-2.8-1-1.5-1.8-.5-2.4 .4-.5 .6 .1 1.6 .9 .2 .6-.6-.2-.5-1.1 .9 .8 .2 .5-.6-.2-.6-1 1 .7 .2 .6-1.1-1.4 .9 .8 .2 .5-.6-.1-.6-1.1 1 .7 .1 .6-1-1.4 .9 .8 .2 .5-.6-.1-.6-1 .6 .1 .8 .9 0 .6-1-.7-.6-1 1.2 .2 1 1.5-.1 1.1-1.6-.7-1.1-2.1 .6-.2 1 .6 .4 .5-.4 .5-.9-1.4 1.1 .4M380.9 201.5l-.1 .6-.6-.1 .2 .6-.4-.4 .2 .5-.9-.8-.1 .6-.4-.4 .2 1.1-.5 0-2.2 1-1.8 1.7 .1 .6-.6 0-3.3-4.3-4-3.6-1.2-2.8 0-2.9 2.7-4.6 .6-2.3-.4-1.8-1.9-1.3-1.8 0-1.1 .5-2.4 2.6-.8 2.8 .2 6-1.6 1.8-1.1 .2 .6 .1M381.9 184.5l-5.3 1.2-2.3-.2-.3-1.1 .7-7.2-.3-3-1.2-1.2-3.5-.9-1.4-1.9-.1-1.2 .6-1.6 1.4-1 .6 .2-.1 .6-.4-.5 .5 .3-.5 .2 .5-.2-.5 .2M260.2 191.8l.5-.3-.4 .4 .5-.1-.6-.1 .1 .6 .6 .1 1.8-1.6 1.4-2.7 .2-1.7-.6-1.7-1.6-1.9-4.6-2.8M366.8 209.4l.5-.3-.4-.4-.3 .6 .6 .1-.2-.6-.6 .1 .4 .5 .5-.3-.4-.4-.3 .6 .6 .1-.2-.6-.6 .2 .4 .4 .5-.3-.4-.4-.3 .6 .6 .1-.2-.6-.6 .1 .4 .5 .5-.3-.4-.4-.3 .6 .6 .1-.2-.6-.6 .2 .4 .4 .5-.3-.4-.4-.3 .6 .6 .1-.2-.6-.6 .1 .4 .5 .5-.3-.4-.4-.3 .6 .6 .1-.2-.6-.6 .2 .4 .4 .5-.3-.4-.4-.3 .6 .6 .1-.2-.6-.6 .1 .4 .5 .5-.3-.4-.4-.3 .6 .6 .1-.2-.6-.6 .2 .4 .4 .5-.3-.4-.4-.3 .6 .6 .1-.2-.6-.6 .1 .4 .5 .5-.3-.4-.4-.3 .6 .6 .1-.2-.6-.6 .2 .4 .4 .5-.3-.4-.4-.3 .6 .6 .1-.2-.6-.6 .1 .4 .5 .5-.3-.4-.4-.3 .6 .6 .1-.2-.6-.6 .3 .5 .4 .4-.5-.5-.3-.1 .6 .6 0-.4-.5-.4 .4 .6 .3 .3-.5-1.1-.3-.2 .5 .4 .5 2 1.1 .2 2.4-1.4 1.8-2.2 1-3.5 .6-2.4-.3-2.7-1.3-1.6-1.8-1.1-2.7-.7-3.6 .6-8.9 1-3.5 .5-.2 1.8 .4M300.6 99.2l.6-.1-.6 0 1 .6-.3-.5 .6 .2-.6-.3 .6 .2-.6-.2 1.7 .6 .8 .9 0 1.2-3.9 8.1-.9 .7-.6 0-1.5-.9-1.5-1.9-.9-5.9-1.3-2-3.2-1.6-5.9-1.2-2-1.2-2.3-2-2.8-5.2-3.3-4.2-.7-2.3 .5-1.1 1-.7 6.7-2.7M330 217.4l1.7-.5 1.2 .2 6 4M367.4 209.8l1.2-.1 1-.6 .3-1.7-.6-1.1-.9-.7-2.4-.2-2.2 1-1.6 1.7 .2 1.1 2 1.4M364.9 145.1l-.2 .6 .2-.6-.5 .3 .4 .5 .3-.5-.6 0-.1 .6 .6-.2-.4-.5-.2 .6 .8-.8-.3-.6-.6 .2-.8 1.6 .1 1.8 .7 .8 1.8-1.5 2.8-3.9 1.2-2.7 .5-3.6 1.4-1 3 .1 4.6 2.7 1.8 .5 2.3-.1 2.3-.9 1.4-1.1 1.3-2 .9-4.7 .6-1.1 2.9-2 2.8-1 1.8 0 1.8 .5 1.5 1.8 .8 2.9-.1 1.8-2.9 3.7-.4 1.1 .1 1.2 1.2 2 2.8 3.2 1.4 1.2 1.1 .2 .3-2.4-.6-2.9-1.2-1.3-1.7 .4 .1 1.7 1.1 1.4 1.1 .6 .3-1.2-.6-1.6-1.1-.4-.4 .4 .7 1.6 1 .4-.2-1.8-1.1-.3-.2 .6 1.2 1.3 .2-.6-.4-1-.6-.2-.2 .6 .7 .9 .6-.2-.5-1.1M280.5 213.2l.9 1.5 .5-.3 .9-7.7 2.8-5.3 .1-1.2-1.2-2.1-.1-1.7 .6-1.7 2.9-4.5 .2-1.2-1-4.1 2-3.6 1.6-1.7 1.6-.8 3.6 0 5.1 1.7 5.1-3.1 3-.3 .5 1-.4 1.1-1.8 2.4-1.4 1-.5-.3-.1-1.2 1.4-1-.6 1 .4-.5M321 80.1l-1.2 0 .7 2.2-1 3.5-.7 7.1-3.3 5-1.6 1.7-2.5 1.7-1 1.5-3.4 9.6-.1 2.4 .5 1.7 1 1.5 1.5 1 2.4 .3 2.9-.3 1.5-.9 1.1-6.5 1.5-1.8 3.5-.6 9.4 1.6 2 1.3 1.3 2 1.6 6.4 2.2 4.9 .2 3.6M368.9 182.5l-1.1-2.7-5.3-8-.6-.3-3.4 2.5-1.7 .5-1.1-.3-.7-1-.1-1.2 .9-.6 .4 .4-.1 .6-.3-.5 .4 .3-.5-.1 .5-.2-.3 .5-.1-.6 .4 .5-.5-.3 .6 0-.5 .4 .2-.6 .2 .5-.5-.3 .6 .1-.6 .1 .4-.4-.1 .6-.2-.5 .4 .4-.5-.1 .4-.4-.1 .6-.3-.5 .5 .3-.5-.1 .5-.2-.3 .5 0-.6 .3 .5-.5-.3 .6 0-.5 .3 .2-.5 0 .6-.2-.6 .5 .3-.6 .1 .4-.4-.1 .6-.2-.6 .5 .4-.6 0 .5-.4-.2 .6-.1-.6 .3 .4-.5-.1 .5-.2-.3 .5 0-.6 .3 .5-.5-.3 .6 0-.6 .3 .3-.5 0 .6-.2-.6M385.6 82.4l-1.5 4.6-.8 5.3 .4 3.6 1.3 4 1 1.5 1.3 1.2 2.9 .7 2.3-.4 2-1.4 .7-.9 .2-1.2-1.1-.4-.7 .8 .5-.3M383.1 155l-.1-.5 .1 .5-.1-.5 .1 .5-.1-.5 .1 .5-.1-.5 .1 .5-.1-.5 .1 .5-.1-.5 .1 .5-.1-.5 .1 .5-.1-.5 .1 .5-.1-.5 .1 .5-.1-.5 .1 .5-.1-.5 .1 .5-.1-.5 .1 .5-.1-.5 .1 .5-.1-.5 .1 .5-.1-.5 .1 .5-.1-.5 .1 .5-.1-.5 .1 .5-.1-.5 .1 .5-.1-.5 .1 .5-.1-.5 .1 .5-.1-.5 .1 .5-.1-.5 .1 .5-.1-.5 .1 .5-.1-.5 .1 .5-.1-.5 .1 .5-.1-.5 .1 .5-.1-.5 .1 .5-.1-.5 .1 .5-.1-.5 .1 .5-.1-.5 .1 .5-.1-.5 .1 .5 0-.6 0 .6 0-.6 .1 .6 .9-.6 2.1-5 3.5-4.8 1.5-.9 1.2-.1 3.3 1.4 2.3 1.9 1.4 2 .1 1.7-1.4 3.3 0 1.2 2.5 3.4 .4 1.1-.7 2.9-1 1.5-1.6 .8 .6-.2M289.9 178.1l1-1.5 1-.6 5.8-1.4 3-2.1 2-2.9 .6-4.1-.8-2.9-1.5-.9-2.4-.1-5.9 .6-.5-.3-.5-3-1.1-2.1-1.5-.9-.4 .5 .2-.6 .5 .3-1 .3M376.2 169.5l.1 1.2 .5 .3 4.8-.1 2.3-.7 3.5-2.3 1.2 .3 .9 1.5M334.8 101.9l.1-.5-.2 .6 .6-.3-.6 .3 .6-.1-.6 .1 .6-.1-.6 .1 .6 0-.6 0 .6 0-.6 0 .6 0-.6 0 .6 0-.6 0 .6 0-.6 0 .6 0-.6 0 .6 0-.6 0 .6 0-.6 0 .6 0-.6 0 .6 0-.6 0 .6 0-.6 0 .6 0-.6 0 .6 0-.6 0 .6 .1-.6-.1 .6 .1-.6-.1 .6 .1-.6-.1 .6 .1-.6-.1 .6 .1-.6-.1 .6 .1-.6-.1 .6 .1-.6-.1 .6 .1-.6-.1 .6 .1-.6-.1 .6 .1-.6-.1 .6 .1-.6-.1 .6 .1-.6-.1 .6 .2-.6 .1-.3-.6 .6 .1 .4-.5 2.8-6.6-.1-4.8 1.3-2.6 7.8-5.6 5.7-1.8 .6-.9-.3-.6-1-.6-1.8-.3-9.3 2.1-6.6 .2-1.4-1-1.5-4.6-1.5-1.8-3.5-.8-6.4 1.2-1.1-.5-1.5-1.9M382.6 97.8l2 7 .6 1 3 1.9 1.2 1.3 2.6 6.1 1.5 2.6 1.9 1.4 4.2 .7 1.7-.2 .8-.8-.1-3-1.2-5.9 .4-3.6 2.3-5.5 1-1.4 1.5-1.1M317 97.5l-.8 2.3 .1 3 .7 2.9 1.4 2.7M365.4 201.9l-6 .5-1.8-.4-.9-.7-.8-1.6 .2-2.4M370.5 70.8l-1.1 2-5.1 3.2-.5 1 .2 1.2 1.7 1.7 2.2 .8 1.8-.2 3.9-1.3M282.2 102.1l-.6 .2 .5-.2-.5 .2 .5-.2-.5 .2 .1 .6 1.7 4.5 .5 7.1 1.1 1.4 3.8 2.9 .4 1.1-.6 1-2.4 1.6-4.7 1.2-4.9 2.2-6.6-.2-1.8 .3-1.2 1.3-1.9 4.4-1.1 1.4-2.2 .8-4.2-.6M314.2 89.2l-.4 3.5-.8 .9-.6-.2 .1-.6-.6 .1 .6 .1-.1-.5-.1 .6 .5-.5-.4 .5 .4-.4-.4 .5 .4-.5-.4 .5 .4-.4-.5 .4 .6-.2-.6 .2 .6 0-.6 0 .5-.2M297.1 70.4l-3.3 1.6-1.3 1.2-.9 5.3-1.9 5M336.6 135.3l-1.6 .5-.9 1.5-.5 3 .4 2.3 2.2 2.8 1.7 .7 1.2-.1 1.3-1.2 .5-1.7-.7-2.3-1.4-1-.3 1.1 .3 .5 .5-.2-.4-.5 .1 .6M288.9 118.4l2.6 1.4 1.7 .1 1.7-1.6 1.3-2.7 0-1.2-.8-1.6-4.6-4.7 .1-1.1 1.9-3.8 .3-1.7M320.1 207.1l-1.1-.3-.7-.9 0-6-.4-1.8-1.1-1.4-2.9-2-.6-1 .5-1.1 1.1-.4 1.2 .2 .4 .5-.4 .4-.5-.3 .4-.4 .3 .4-.6 0 .6-.3-.1 .6-.6-.2 .3-.6 .4 .5-.6 .1 .2-.6 .5 .4-.6 .2-.1-.5 .5 .2-.4 .4-.3-.5 .5 .1-.3 .5-.3-.5 .6 0 0 .6-.5-.4 .5-.4 .3 .5-.6-.1 .6-.2-.4 .5-.4-.4 .6-.1-.5 .4-.2-.5 .6 .1 0 .6-.5-.4 .5-.4 .3 .6-.6-.2 .6-.2-.3 .5-.5-.3 .6-.2-.1 .6-.5-.4 .5-.3 .2 .5-.5-.2 .5-.3 0 .6-.6-.2 .4-.5 .4 .4-.6 0 .4-.4 .2 .6-.6-.1 .1-.6 .4 .4-.5 .3-.2-.6 .5 .2-.5 .4-.1-.6 .6 .2-.1 .6-.5-.4 .5-.3 .2 .6-.5-.3 .5-.3 0 .6-.5-.2 .3-.5 .4 .5-.6-.1 .4-.4 .2 .6-.6-.1 .1-.6 .5 .4-.6 .3-.3-.5 .6 .2-.5 .2 .1-.6 .5 .3-.4 .4-.3-.5M356.9 155.8l-.3-.5-.3 .5 .6 0-.2-.5-.4 .4 .6 .2-.2-.6-.4 .4 .6 .2-.1-.6-.5 .3 .6 .3-.1-.6-.4 .4 .5 .3 0-.6-.5 .2 .5 .4 0-.6-.5 .3 .5 .4 .1-.6-.5 .2 .4 .4 .1-.6-.6 0 .4 .4 0-.6-.4 .5 .5 .3 .2-.5-.6 .1 .2 .6 .4-.5-.6-.2 .1 .6 .4-.4-.5-.4-.2 .6 .6-.2-.3-.5-.3 .5 .6 0-.2-.5-.4 .4 .6 .2-.2-.6-.4 .4 .6 .2-.1-.6-.5 .3 .6 .3-.1-.6-.5 .4 .6 .3 0-.6-.5 .2 .5 .4 0-.6-.5 .3 .5 .3 .1-.5-.5 .2 .4 .5 .2-.5-.6-.1 .3 .5 .2-.5-.6-.1 .4 .4-.1-.6-.3 .5 .1 .6 .6-.1 .2-1.2-.8-.8-1.3 1.1-.2 1.2 .5 1.7 1.6 1.8 2.2 .8 2.3-.5 2.6-2.5 1.5-1 2.3-.5 1.8 .3 1 1.5 1.5 6.4-.1 1.8-.7 1M280.8 88.4l1.8-.2 4.5 1.5 1.2 0 2-1.3 2.4-2.7M369.4 137.4l-.5-1.7 .1-1.2 .8-.9 1.7-.5 4.2 .3 5.6 2.1 3-.1 1.5-.9 .8-1.6-.7-1.6-1.1-.3-.2 .6-.1-.6 .6 .3-.6-.1 .3-.5-.5 .4 .6 .2-.5 .3 .5-.3-.5 .3M365.3 181l-4.1-2.4-1.2-.1-1.4 1.2-4.4 5.6-1.2-.1-4.3-3.2-1.1 .3-1.9 1.5-.7 1 .2 .6-.4-.5 .2-.5-.1 .6 .3-.6-.2 .6 .3 .5-.4-.6 .6 0-.6-.1 .5 .4-.5-.3 .6-.3-.4 1-.1-.5M281.5 211.1l-1.1-2.7-1.6-.9-2.9-.5-3.6-3.9-5.9-1.1-1.7 .4-4.1 4.3-2.7 1.2M321.3 80.3l4.1 .3 1.7-.6 .9-.8 .6-1.7-.3-1.8-1-1.4-1.2-.4M296.2 132.3l-.1-.6 .1 .6-.2-.6 .2 .6-.2-.6-1.2 .3-.8 1.6 .5 1.7 1.9 3.7-.4 1.7-1.7 .6-3 0-2.2-.8-1.3-1.2 1.1 .5-1-.6M306.6 177l3.6-.5 2.2 .8 .5 1.1-.1 1.2-2 4.3 0 1.7 2 2.3 4.3 1.9M392.2 161.9l.8-1.6 1.1-.6 4.2-.1M301.4 176.7l5.1-4.1 4.3-6.5-.1-1.8-.9-.7-4.2 0M266.9 158.7l-.4-.4 .4 .4-.4-.4 .4-.5 0 .6-.4-.5 .8 2.9-.9 2.2-.2 1.8 .8 2.8 1.8 2.3 6.3 4.6 1.7 2.5 1.1 2.8 .2 4.2-.5 1-2.8 3.1-.4 2.4 .5 1.1 .2-.6 0 .6-.1-.6M328 84l.5 .3-.3 .5-.6 0-.1-.6 .6-.2 .5 .4-.5 .5-.6-.2 .1-.6 .6 0 .2 .5-.6 .2-.4-.5 .5-.3 .6 .3-.3 .5-.5 0-.2-.6 .6-.2 .5 .4-.5 .5-.6-.2 .1-.6 .6 0 .2 .5-.6 .2-.4-.5 .5-.3 .6 .3-.2 .5-.6 0-.2-.6 .6-.2 .5 .4-.5 .5-.6-.2 .1-.6 .6 0 .3 .5-.6 .2-.5-.3 .4-.4 .6 .1-.1 .6-.6 0-.2-.6 .6-.2 .5 .4-.4 .4-.6 0 0-.6 .6-.2 .4 .5-.5 .4-.6-.2 .1-.6 .6 0 .3 .5-.5 .3-.6-.3 .3-.5 .6 0 .2 .6-1.1-.2 .3-.4 .6 0 .3 .5-1.1 .2-.2-.6 .5-.3 1 .5-.1 .6-.5 .3-1.5-.8 .2-.6 1.1-.4 1.1 .3 .4 .5 0 1.2-.8 .8-2.3-.5-1.2-1.2 .6-1.1 1-.5 3-.2 .9 .8 2.3 3.4 1.6 .7 2.4 0M400.6 70.4l1.1 5.9 1.5 4.5-.9 2.8-2.1 2.2-.6-.1-1.4-1.1-4.4-4.9-1.1-2.8-.8-4.1M302.7 221.3l-2.1-2.1-4.9-3.5-1.7 .3-2.5 2.5-1.3-1.2-.6-2.9 .5-2.3 3.8-3.8 1-2.8 .2-5.4-.3-1.8-.7-.9-1.1-.2-.5 .4-.2 1.1 .2 .6 .6 0 0-.6-.4 .4 .6-.1-.4-.5-.2 .5 .6-.2-.6-.2 .2 .5 .2-.5-.3 .5 .4-.5-.5 .3 .5 .2-.2-.6-.1 .6 .3-.5-.5 .4 .6 0-.4-.5 0 .6 .3-.5-.5 .3 .5 .2-.2-.5-.1 .6 .2-.6-.3 .5 .4-.4-.6 .2 .6 .3-.2-.6-.2 .6 .3-.6-.3 .5 .4-.4-.6 0 .4 .5 0-.6-.3 .5 .6-.3-.6-.2 .2 .6 .1-.6-.3 .5M278.2 96.5l-2.2-2.8-1.2-2.7-1.5-1.1-1.1-.2-.6 .3-.1 1.1 2.2 6.2-.9 2.8-1.7 1.7-1.7 .7-2.3 .2-3-.5-1.6-.7-.9-.9-1-7-1.3-2.1-1.4-1M279.6 104.9l-5 1.9-1.5 1.1-.6 1.1 .1 1.1 1 .7 3 .2-.1 .6 1-.7M297.1 146.4l-.6-.3 .6 .3-1.2 0-1.5 1-5.7 6.1M305.4 203l.6 .2-.6-.2 .6-.2-.6 .2-.1 .6 .4-.4-.6 .1 .6 0-.5-.3 .4 .4-.6 .1 .6-.2-.2-.5-.1 .6 .5-.3-.5-.1 .2 .5 .3-.5-.6 .1 .5 .3-.2-.6-.2 .6 .5-.3-.5-.1 .2 .5-.6-.3 .6 .1-.3-.5 .2 .6-.4-.5 .5 .4 .3-.5-.5 .3 .6 0-.6-.1 .5 .4-.3-.6 .6 .3 1.7 3.1 1.3 1.3 4.8 2.4 .9 .8 .5 1.1 .1 1.8-1 1.4-1-.4 .3-.5-.1 .6 0-.6 .1 .6-.2-.6 .5 .4-.6-.2 .6-.1-.6 .2 .4-.4 .1 .6-.5-.4 .5-.1-.3 .5M311.5 137.7l-1.7-1.6-1.1-.3-1.2 .2-4 2.6-3.6 4.1-2.9 .1M264.1 192.7l2.1-1.1 2.4-.3 1.7 .7 3.2 2.6 1.1 .5 1.5-.9 .4-2.3M397.5 72l-.8 1.5-1.2 .4-1.1-.5-.7-.9-.5-1.7 .5-.3 .1 .6 0-.6 0 .6M333 133.3l-3-.5-1.1-1.3-1.1-11.9 .5-2.4 .9-.7 1.1 .2 .8 1 .3 1.7-.1 1.8-1.8-2.4 .4 .5-.6 0 .2-.6 .4 1-.2-.6M403.6 208.9l-.3 .5 .6 0 .2-.6-.7 .9 .9-.6-.6 0-.2 .5 .7-.9-.6 .2-.3 .5 .6 0 .2-.6-.7 .9 .9-.6-.6 0-.2 .5 .7-.9-.6 .2-.3 .5 .6 0 .2-.6-.7 .9 .9-.6-.6 0-.2 .5 .7-.9-.6 .2-.3 .5 .6 0 .2-.6-.7 .9 .9-.6-.6 0-.2 .5 .7-.9-.6 .2-.3 .5 .6 0 .2-.6-.7 .9 .9-.6-.6 0-.2 .5 .7-.9-.6 .2-.3 .5 .6 0 .2-.6-.7 .9 .9-.6-.6 0-.2 .5 .7-.8-.5 .1-.4 .5 .6 0 .2-.6-.7 .9 .6-.1 .3-.5-.6 0-.2 .5 .7-.9-.6 .2-.3 .5 .6 0 .1-.6-.5 1 .9-.8-.6-.3-.4 .4-.2 .6 .6 .2 .9-1.5-.5-.3-1.3 1.2-.2 1.1 1 .6 2-1.3 .5-1.1-.1-1.1-1-.7-2 1.2-1.4 1.9 .2 1.8 1.8 1.5 2.4 .2M369 120.7l-.6-.2-.1-.6 1.8-2.3 3.4-2.4 2.3-.5 3.4 1.2 3.8 2.8 4.2 2.4 1.7-.4 .5 .4 8.9 .3M406.4 128.4l-.7 1.6 .7 2.3M279.3 88.4l-.2-5.4 .3-1.8M295.8 146.8l-.5 1.1 .4 1.1 2.1 1.1 2.9-.5 3.7-3.1 1.7 .1 2.3 .9 1.4 1 .1 .6-1.8 .2-1.2-1.2 1-.2 .9 .8-1.1-.3 .4-.4 .5 .3-.2 .6-1-.6 .6-.2 .5 .3-.5 .2-.4-.4 .6 .1 .2 .5-.9-.7 1 .5-.6-.1 .1-.6 .9 .7-1.1-.1 0-.6 1 .6-1.1-.2 .6-.1 .3 .5-.6-.1-.4-.4 .6 .1 .1 .6-.9-.8 1.1 .4-.6-.1 .3-.5 .7 .9-1.2-.2-.3-.5 1.1 .4-.6-.1 .2-.5 .8 .8-1.1-.2-.2-.5 1 .5-.6 0-.3-.5 .6 .2 .3 .5-1-.5 .6 .1 .1 .6-.9-.8 1.1 .4-.6-.1 .3-.5 .7 .9-1.2-.2-.2-.6 1 .5-.6 0 .1-.6 .9 .7-1.1-.1-.1-.6 1 .6-.6 .1-.4-.3 .6 0M257.4 142.7l2.5-1.6 4.1-1.2 10.7-1 2.3 .5-.1 1.7-1.3 4-3.5 7.6 .1 1.2 1.4 3.3-.1 1.8-.8 1.6-2.9 3-.3 1.8M287.3 150.2l-4.1 .1-2.1-2.2-1.1 .1-1 1.5-.9 2.9-.1 2.4 .6 2.3 1.3 3.3 2.2 2.9 2.8 2.2 4.6 1.2 .4 .4 .4 2.4 .7 1 2.9 .4 2.7-1.1 1.2-2.1-.1-1.2-.7-1-1.5-.8-3-.4-.9-.7M334.6 102l2.8 3.1 2.5 4.1 1 .7 6-3.9 3.5-.8 4 1 4.9 3.4 1.8 .2 1.7-.5 .5-.4 0-1.1-3-6.6-.8-7.1-.7-.9-3.6-2.1-1.2-2.1 0-1.8 1.2-1.2 1.7-.5 2.4 .3 2.7 1.3 2.4-.3 4.2-2.1 2.8-3.2M307 123.7l.6 0-1.1 .4-1.2-1.2-.2-1.2 .3-1.1 4.7 .3 4.2-.4 1.2 .4 .1 .5-.5 1.1-1.1 .5 .1-.6 .1 .5-.5-.3 .6-.1M332.8 101.1l-2.3-.9-1.5-1-.8-1.5 0-2.4 .8-1.7 1.2-1.2 5.7-2M279.5 102.3l-3.5 0-6.7 2.6-4.8-.1-1.1 .5-.8 .9 .1 1.2 .9 .8 4 1.3 3.6 2.1 1.8 .2 1.7-.3M300.5 98.9l.6 .2-1.4-1.9-7.1 1M312.1 137.3l-.9-4.7-.6-1-1.7-.4-4.1 1-1.1-.4-1.3-4.6-4-7.3 .2-1.8 .9-1.5 1.1 .4 .7 .9-.3-.5-.5 .3 .1-.6 .8 .9M352 220.9l-1.8-2.3-.5-1.8 1-5.9 0-5.4 1.2-5.8M284.5 190.5l0-3-1.3-2.6-.6-.1-6.3 1.9M354.2 136.5l4.3-2 2.4-.6 2.3 .4 .7 1-2 2.2-1.4 3.3-1.6 10-1.2 1.4-1.7 .5M328.2 101l-1.5-.9-.8-1.6-1.2-7.6-1.6-1.8-1.1-.5-.5 .4M270.3 124.4l-4.2-2.3-5.2-1.3-1-.7-.1-.6 1.4-1.9 2-1.2 2.4-.6 4.2-.1 2.2-.8M318.2 164.6l.1 .6-.1-.6 .1 .6-.1-.6 .1 .6-.1-.6 .1 .6-.1-.6 .1 .6-.1-.6 .1 .6-.1-.6 .1 .6-.1-.6 .1 .6-.1-.6 .1 .6-.1-.6 .1 .6-.1-.6 .1 .6-.1-.6 .1 .6-.1-.6 .1 .6-.1-.6 .1 .6-.1-.6 .1 .6-.1-.6 .1 .6-.1-.6 .1 .6-.1-.6 .1 .6-.1-.6 .1 .6-.1-.6 .1 .6-.1-.6 .1 .6-.1-.6 .1 .6-.1-.6 .1 .6-.1-.6 .1 .6-.1-.6 .1 .6-.1-.6 .1 .6-.1-.6 .1 .6-.1-.6 .1 .6-.1-.6 .1 .6-.1-.6 .1 .6-.1-.6 .1 .6-.1-.6 .1 .6-.1-.6 .1 .6-.1-.6 .1 .6-.1-.6 .1 .6-.1-.6 .1 .6-.1-.6 .1 .6-.1-.6 .1 .6-.2-.6 .1 .6-.1-.6 .1 .6-.1-.6 .1 .6-.1-.6 .1 .6-.1-.6 .1 .6-.1-.6 0 .6-.1-.5 .1 .5-.1-.5 0 .6-.1-.6 0 .6-.2-.6 0 .6-.5-.3 0 .6-.4-.4 1.6 4.5 1.5 2.6 1 .7 1.2 .2M280.5 70.4l1.5 1.8 2.3 .6 2.3-.7 .9-1.6M334.9 197.5l1.5-5.2 1.2-2.1 2.2-.9 4.7 1 .6-1 .2-1.8M359.3 110.5l3.3 1.5 3 .1 2.8-1 2.2-2 .3-1.2-1.4-2.6-.6-2.9 0-7.2 .2-1.2 .6 .3-.5 .3 .1-.5-.4 .4 .2-.6 .6 0-.2 .5-.1-.6-.1 .6M330.8 102l-.7 1 0 1.7 1.9 3.8M314 182.9l.4 1.1 1.1 .3 1.1-.5 1.3-1.2 1.4-2.7 1-4.7M286.5 79.3l-.3 1.1-1 .6-.5-.2-.4-1.1 .7-.9 .6 0 .5 .4-.3 1.1-.6 .2-.6-.9 .9-.6 .4 .4-.1 .6-.5 .3-.5-.3 0-.6 .5-.3 .5 .3-.1 .6-.5 .2-.4-.4 .2-.5 .6-.1 .2 .5-.4 .5-.6-.2 .1-.6 .6-.3 .3 .5-.3 .5-.6 0 0-.6 .5-.4 .4 .4-.2 .6-.6 0-.2-.5 .4-.5 .6 .3-.1 .6-.6 .2-.3-.5 .3-.5 .6 .1 0 .5-.4 .4-.5-.4 .2-.5 .6-.1 .2 .6-.4 .4-.6-.3 .2-.6 .5-.1 .3 .5-.4 .5-.6-.2 .1-.6 .6-.3 .3 .6-.4 .5-.5-.2 0-.6 .5-.3 .4 .5-.3 .5-.6 0 0-.6 .4-.4 .5 .4-.2 .6-.6 .1-.2-.6 .4-.5 .6 .3-.1 .6-.5 .2-.4-.5 .3-.5 .6 0 .1 .6-.5 .4-.5-.3 .2-.6 .6-.1 .2 .5-.4 .5-.6-.3 .1-.6 .6-.1 .3 .5-.4 .5-.6-.2 .1-.6 .6-.3 .3 .6-.3 .5-.6-.2 0-.6 .5-.3 .4 .5-.3 .5-.6 0-.1-.6 .5-.4 .5 .4-.2 .5-.6 .2-.2-.6 .4-.4 .6 .1-.1 .6M318.7 98.9l1.1 3.4 4.9 6M376.6 101.1l-.2-.7 .3 .6 .2-.5 .1 .5-.3-.4-.3 .5-.1-.6 .4 .5 .2-.6 .2 .6-.4-.4-.3 .5-1.1 .5-.7-.8 .6-6.6-.2-1.1-.5-.4-1.2 .2-2.1 2M322.6 126.9l.2 .5-.2-.5 .2 .5-.2-.5 .2 .5-.3-.5 .3 .5-.5-.4 .5 .3-.6 0 .2 .5 1 .7 1.2 .2 .4-.4 .2-1.8-.7-5.4-.2-7.2 .7-2.3 1.4-1M282.1 163.9l.1 1.2-.6 1-4.9 2.2-1.3 1.2-.6 2.3 .6 2.3M351 199.2l-.1-4.2-3.9-6.7M343.5 93.9l.6 .1-.6-.1 .6-.3-.6-.1 .5 .4-.6 .1 .6 .2 1.1-.3 1.2-1.3 .2-1.2-.4-3.6 1.1-2.1 1.8-1.6 2.8-.9M334.3 200.7l3.7-3 .6-.1 .8 .8 .4 4.8-.5 4.2-.4 .4-1-1.5 0 .6 .4-.4-.2 .6-.2-.6-.6 .1 .6-.1-.4 .4 .2-.6 .1 .6 .2-.5-.1 .6 0-.6M397.3 115.9l-1.2-3.4 0-1.2 3.3-8.9 1.4-8.3 .7-1.6 1.3-1.3 3.2-1.5M390.8 190.8l.6-3.5-.7-4.7 .1-.6 1.1-.1-.6-1.1 .5 .4M393.9 96l-2 2.2-.2 1.2 .8 .8M379.4 182.5l-.8-2.2 .6-3.6 1.3-2 2.2-.8 2.2 .9 4.9 6.8M403.9 105l2.3-1.9M332 191.8l-1.2-2.7 .2-5.9-.7-1.7-1.8-1.5M347.4 109.8l1.2 0 1.6 .8 7.5 6.9 1.1 .5 4.5-1.5 3.7-1.9M370.5 120.6l7.2 2.8 2.2-.8 2.8-3.1 2.9 .8M266.9 159.9l-1.7 .1-1.5-.9-1.7-2.5-2-5.7-.5-.2-.6 .3-.3 1.3 0-.6M371.4 122l.1 1.8-1.3 4.6 .1 1.8 1.5 1 4.1 1M348.4 195.2l-2.9-2.1-2.6 8M399.8 122.8l1 .6 .6 1.1 .3 4.8M394.1 147l.6 1.1-.2 1.1-.8 .9-1.7 .6-1.1-.3-.8-.9-.2-1.2 .8-1.5M257.4 140.5l3.9-3.6-.2-1.1-.9-.8M288.5 122.6l-4.6 2.8-.8 .9-.3 1.1 .3 2.4 1.9 5.7 1 2.2 1.2 1.3M338.1 96.4l2.6-1.5 2.8 1.2 1.7 .1 2.4-.4 2.1-1.1 1.6-1.8 .4-5.3 .8-1.6M270.7 86.3l-3.7-4-1.6-.7-1.5 .9-3 3.8-1.9 1.5M382.5 153.6l-4.1-5.1-.4-2.4 .4-2.3 1.2-1.3 5.2-1.4 2.9-2.1M281.9 160.6l1.2-.1 2.2-1 3.4-2.4 .4-.5 0-.6-.4 .4 .3-.5 .4 .4M401.2 209.3l-.6 1.7 .3 1.7 2.8 4.6 2.7 3.3M333 132.9l-1.2-1.3-.4-1.8 .5-7.7M310.5 221.2l-2.7-2.3-.7-2.3 1.6-1.7 3.2-1.8M402.6 180.3l-.6 .3 .6-.2-.6 .1 .4-.4-.3 .5 .6 .1-.5-.3 .6 0-.6 .2-.4-.4 .3 .5-1.1-1.4 .8-2.2 1.9-1.4 2.4-.1M303.9 205.5l-1.5-1-1.4-1.9-2.3-8.7-1.4-2.6-1.6-1.8-2.1-1-2.1 .9-.6 1.1 0 4.2M346.5 103.3l7.2-.4 1.7-.5 1.3-1.2 .9-1.6 .2-1.2-.6-1M297.3 180.1l1.4 1.2 .1 1.1-1.1 1.5-2.9 2M282.4 200.9l-.7-3.5 .5-4.1M304.6 106l-1.7 4.5 .1 3 1.6 4.5 .8 .9 2.1 1.1M376.6 101.8l-2.1 4.3-.6 2.3 .5 1.7 2 2.3M257.6 74l4-1.2 1.7-2.4M286.8 149l-1.4-1.1-2.1-3-1.4-1-1.8-.2-1.8 1.5M378.9 101.6l-.5 4.8 .6 2.9 1.4 1.9 3.4 2.4 3.3 7M313.8 133.4l1.6-.9 1.7 .1 2.2 1.1 1.7 1.6 .7 1.7-.2 1.2-.9 1.5-1.7 .7M318.4 165.2l-.1-.6 .2 .6 .2-.6 1.1 .1 4 3.5 5.3-.6 3.6 .4M309.8 151.6l-11.7 7.3-3.4 1.2-1.8 .1M404.4 200l-.4 .4 .6 .2 1.1-.4 .6-1.6-2.1-9.9-1.4-1.1-4.7-1.1-2.2-1-2.3-1.9-1.9-2.3M328.1 153.7l-3.3 2.6-1.1 .1-1.1-.5M352.2 132.8l3.5-4.2 .4-1.1-.4-.5-3.4 1-4.1-.6M337.8 99.2l6.8 2.1 4.8 .1M332.2 135.3l-2.2 4.3-3 9.7-1.7 2.5-1.9 1.4M361.7 96.3l.6-7.2M330.8 212.6l1.6-4.5 1.9-3 1-.7 1.1-.2 1 .7 .5 1.7-.3-.5M317.5 162.1l-1.3-4.6-2.1-2.9-.5 .1-.2 .6-.6 3.5-2.4 2.8M331.6 197.6l-.2-1.2-.7-1-1-.5-1.8-.2-1.7 .6-.7 .9 0 1.2 .8 1M376.8 204.5l1.9 3 2.7 2.3 2.3 .8 4.2 .3 2.3-.3 1.4-1.2 .3-2.9-1-2.2M264.8 188.3l2.5-4.1 1.4-1.1 2.3-.6 1.8 .1 1.1 .4 .9 .9M362.5 110l2.9-.7 1.1-1.3-.5-7.2 .4-4.1 1.4-5.2 2.3-4.2 .8-2.3M268.8 130.2l.8 3.5 1.9 1.5 4.1 .6 4.1-.8 1.1 .5-.4 .4-.1-.6 .3 .5-.5-.1 .5 .3-.6-.2 .6 .1M390 141l1.8-1.6 1.7-.7 1.1 .3 2.4 1.8M395.7 194.3l1.8 1.7 1.6 .7 1-.5 .6-1.7-.8-2.9-4-3.5M261.5 190.9l.1-1.2-.6-1.1-3.4-2.4M272.8 221.1l-1.8-1.5-.9-1.5-.2-1.8 .8-3.5-1.6-1.8-1.6-.8-1.8-.3-5.8 1.4-1.1-.4-1.4-1.2M344.7 114.8l-2.7-1.1-1.3 1.1-.5 2.9 .7 7.2M258.8 191.8l-.6 1.7 .1 2.4 3.1 4.3-.4 1.1-1 .7-2.3 .4M270.5 219.8l-2.3-4.1-7.4-2.5M367.2 194.1l5.5-3.6 .5-1-.1-1.8M391.9 89l-.5-.4 1 .7-1-.6 2.6 1.5 .6 1.6-3.2 4.4M307.9 138.9l-1.7 1.7-.6 1.7 .4 1.7 1.3 1.3M302 91.2l1.9-5 .3-1.8-2.1-5.5M270.8 150l-2.1 2.1-1.7 .6-2.1-1.1-2.7-3.2-1.1-.3-1.7 .7M367.2 153.1l3-3.8 3.8-3.8 2.5-3.4M402 206.2l-2.2 1.9-1.2 .4-1-.5-3-3.7M328.8 192.5l-2.3-.9-1.4-1-1.4-4.6-2.6-4-.5-2.3M345.9 175.2l-.1 1.2 1.1 4.1 0 1.8M257.8 220.1l5.1-3.2M344.1 161.5l-.5 .2 .5-.2-.5-.3 .6-.1-.5 .3 .6-.1-.6 0 .6-.1-.6 .2 .6-.1-.1 .6-1.7 .4-1.7-.4-1-.8-.8-1.6-.3-3.5-1.3-3.4 .3-1.7 3.8-3.8M402.7 173.9l1.9-3-.3-2.3-1.5-.9-3.6-.3M403.8 215.3l2.5 1.6M304.8 155.2l-1.1 2.1-1 4.1-.6 .2M282.9 182.5l-.1-1.2-.7-.9-.5 1.7M270.4 196l1.3 2.1 .7 2.3-.6 1-1.7 .5M365.8 71.2l-6.6 0-5.9-.7-1.7 .8-4.5 3.9M392 162.2l0-1.2-.6-1.1-1-.6-1.8-.2-1.7 .5-3.6 2.2-3.3 1.4-1.5 1-1.3 2-.6 2.3 .6 1.7M297 134.5l1.1 .4 1.2-.4 2-2.9 .9-2.8-.6-2.3M335.2 100.5l-.8-4.1 1.1-2.8M319 221.1l-1.9-1.4-4.5-1.5-1.3-1.3M287.5 126.6l-1.3 2-.3 1.7M302.3 194.6l.8-4.1 2.4-4.1 1.1 .2 5.3 3M335 217l4.7 1.1 1.1-.2 .9-.8 1-2.9 .3-3.5-.1-1.2-1.1-.4M323.1 170.3l1.5 1.9 6.5 4.3 .4 1.1-.4 .5M344.7 115.3l.4-.4 .5 .3 .3 1.7-1.7 3.2-1.2 3.4M271.2 73.7l-2.2-1-1.7-2.4M382.9 205.2l1.7 .7 1.8 .1 1.6-.8 .2-1.1M275.3 123.8l-3.9-1.4-2.4-2.5M305.8 204l-.7 2.8-1.7 1.6-2.2-.9-2.8-3.1M276.2 127.2l-2.2 .9-.2 .6 .6 1 5.2 1 1.5 1 1.1 1.4M257.9 77.1l4.8 .7 1-2.1 .8-2.9M356.7 150l-1.4 1-7 1.8-1.4 1.1-.4 1.1 .6 1.6 3.6 4.8 6.6 5.2 1.6 1.8 .7 1.6M357.1 177.8l-6.6 .1-1.2 2.7-1.3 1.2M323.2 118.5l-.4-5.9 .2-1.8 .7-1M357.2 183.5l-.8 2.9 0 3.6 .7 2.3 1.4 2M283.2 120.4l-6-.6-2.2-.7-.8-.9-.1-1.2 1.4-2.7M285.1 207.4l2-1.2 5.6-2 1.2-1.3 .7-2.3M383 155.2l-.8 .8-1.3 3.4-1.9 2.3M314.1 179l1.2 1.3 1.7-.4 1.2-1.3 1.1-2.8M386.1 125.6l.2-.5-.3 .6 .4-.5 1.5 .9 .6-.1 4.3-3.2M371.1 153.5l1.6-.8 .4 .5-.7 6.5 .1 6.6M264.3 182.2l-2.2-4.9-1.3-5.9 0-2.3 .8-1.6 .6-.1 4.5 2.9M390.7 157.9l-.3-1.2 1.3-1.1 4 1.3M383.9 220.9l-2-2.1-2.8-.9-2.2 .8-1.4 2.6M291.9 134.4l2.3 4.8-.2 1.1-1.1 .5M349.2 149.4l-3 .5-1.6 .7-.6 1.1 .3 2.3M372.6 70.5l2.2 1.9 2.2 1 2.4-.1 2-1.3M305.3 202.7l.3-1.2 1.4-1 4.2-.4 .2-.6-.6-3.5M325.4 171.5l6.5 1.3 2.3-.5 2.1-1.2M304 199l.9-2.8 1.4-2 2-1.2 4.1-1M286.4 220.9l-.8-3.5 .8-4.7M384.1 183.9l-.4 1.1-2.6 3.3-1 2.2 .2 1.8 2.9 4.4 0 1.2-.4 .5-.6-.1M359.7 155.5l.2-2.4-.4-.5-.6 0M259.9 195.8l1.1 .3 1.2-.1 3.8-1.9 1.7-.3 1.8 .3 1.4 1.1M309.7 147.6l2.5 1.7 1.7-.4 1.8-1.5 1.5-1.9 .6-1.7-.1-1.2M372.3 175.5l-3.3-2.6-1.1-1.4-.3-1.7 .2-1.2 1.3-2M289.2 186.1l1.1-1.5 2.2-.7 1.6 .7 .2 .5-.4 1.1M323.5 98.5l-1-2.2-1.1-.5-.5 .2-1.1 2.1 .3 2.3M353.2 141.6l-.4 .5-1.1-.2-.9-2.2 .3-2.3 1.8-2.4M278.1 150.9l-1 3.5 .4 4.2-.3 1.7-1.2 1.3-3.4 1.2M305.8 208.7l2.3 1.8 4.2 .6M264.8 180.7l.7-.9 5.4-3.8M310.4 174l3.1-2.9 1.7-.4 1.2 .3M367.7 198.3l.7-1.6 5-1.8 2.5-2.6M264.1 141.5l5.3 .3 2.8 1 .4 1.1-.1 1.8-1.8 3.8M334 85.6l2.9 .7 4.1-.8M392.1 86.4l-1.7-1.7-1.2-.3-.9 .7-.8 1.6-.3 3.6 1.7 5.1M348.9 170.3l0-1.8 .5-1.1 1.6-.8 2.4 0M327.2 116.9l.9-1.6 1-.6 1.8-.1 1.6 .8M339.9 70.9l-.2 1.1-1.5 1-1.8 .2-2.4-.5M320.5 124.5l-4.4 2-1.8-.1-1.6-.8-1.3-1.2 .4-1.1 .9-.8M285.3 202.7l1.6-1.7 4.1 .7M333.5 186.4l.1-3.6-.8-1.6-1.4-1.1M304.1 208.5l-1 2.1 .9 2.2 1.6 1.8 2.4 0M298.1 90l-3.8 1.8-4.7 .3-5.3 1.4-1.8-.1-1.5-.8M372.4 122.5l1.8 3.1 1.8 1.6 2.8 1.1 2.9 .4M310.6 76.9l0 1.8-.7 3.5 .3 1.2 1.3 1.9M300.9 98.9l4.8-.6 1.7-.6 1.8-1.6 2.5-3.4M291.6 145.8l-1.8 0-1.7-.7-4.3-4.1-2.1-1.2M298.1 198.6l-1.4-3.9-1.2-1.4-1.6-.8M257.5 165.9l1.6-2.5-1.7-5.7M382 82l-1 .7-1.2 0-.3-.5 0-1.2M392.1 132l1-1.5 1.4-1.2 2.2-.8 1.8 .1M272.1 211.2l.3-1.1-.6-1.7-1.1-2.1-1.7-1.7M343.4 211.2l.1-1.8-.5-1.1-.2 .6M269.3 89.3l-.7 1-.6 1.7 0 5.4-.5 1-1 .7-1.2-.1-1.5-1-3.1-5.8M312.5 133.4l1.2-2.2 1.8-1.5 1.7 .4 3 1.9M297.8 129.1l-1-1.5-1.7-.2-3.4 1.2-2.4 1.8M257.9 77.7l1 .6 .4 1.1 0 4.8M375.9 100.4l1-2.9 .7-.9 1-.6 1.3 1.2 .9 2.2M301.8 151.4l2.8-4.5M402.2 180l-.1 .6 2 1.2 1.6 2.5-.1 1.1-2.3 .5M391.4 104.2l2.2-1 1.3-1.1M295 151.2l1.8 2.4-.4 .5-7.6 1.7M322.5 130.9l3.2 2.8 .6 2.2-.4 1.8-1.1 2.1-1.6 1.7-1.6 .9M404.2 75.4l1.9 2.3M400.3 73l-.1 4.2-.7 1.6-1.7 .4-2.3-.7M399.4 212.2l.8 5.3-.4 1.7-1.3 2M309.4 201.5l3.4 2.4 1.1 .2 .9-1.5-.1-1.8M356.8 86.5l2.2 .5 .9 1.5-1 .7-1.2 .1-1-.6-.5-1 .8-.8 1.2 .2 .8 .8-.1 .6-1.1 .4-1-.6-.2-.5 .3-.6 1.1 .1 .6 1-.5 .3-1.1-.4-.2-.5 .4-.4 1.1 .4 0 .6-.6 .2-.8-.7 .4-.5 .6 .2 .4 .4-.3 .5-1-.4 .1-.6 1.1 .4-.1 .6-.6 0-.5-.3 0-.6 1.1 .2 .1 .6-.6 .1-.5-.3-.1-.6 1.1 .2 .1 .6-.6 .1-.5-.3-.1-.6 1.1 .2 .1 .6-.6 .1-.5-.3-.1-.6 1.1 .2 .1 .6-.6 .1-.5-.3-.1-.6 1.1 .2 .1 .6-.6 .1-.5-.3-.1-.6 1.2 .2 0 .6-.6 .1-.5-.3-.1-.6 1.1 .2 .1 .6-.6 .1-.5-.3-.1-.6 1.1 .2 .1 .6-.6 .1-.5-.3-.1-.6 1.1 .2 .1 .6-.6 .1-.5-.3-.1-.6 1.1 .2 .1 .6-.6 .1-.5-.3-.1-.6 1.1 .2 .1 .6-.6 .1-.5-.3-.1-.6 1.1 .2M278.9 216.8l-.9 1.5-2.1 1.3-1.8 .1-1.5-.8M397.9 219.1l-2.2 1-3.6 .3-1.1 .5M322.8 124.8l-1.2-1.3-1.2-.3-2.7 1.3M285.5 197.4l.5-1 1.1-.2 .8 .8 .5 1.8M323.4 219.3l-.2-2.4-1-1.4-1.7-.4-2.8 1M257.7 103.3l.4 4.8 .6 1.7 1.5 .8 3 .1M380.5 181.8l0-1.8 1.2-2 1.7-.6 2.1 1M381.9 149.9l.1-1.8 .6-1.7 3.2-3.4M379.6 202.4l-.8-.9-.9-2.2-.3-2.4 .3-1.8 .4-1.1 .9-.7 2.6 1.4M354.2 138.1l2.4-.1 1.6 .7 .7 1 .1 1.8M374.7 208.1l.3 2.9-2.3 6.2-.2 2.4M302.1 190.7l.3-2.4-.5-1.7-1.3-1.2-2.3-.4M389.4 192.1l1.2 1.4 0 1.8-1.2 2.7-2 2.2M388.8 213.4l3.4 1.1 1.2-.1 .4-.3 .7-2.3-.1-3.6M279.1 194.7l.1-4.2-.5-1.7-.8-.9M374.1 202.8l-.8-2.8 1.7-3.9M286.8 151.1l-1.2 1.3-.3 2.4 .5 1 1.7 .6M285.2 178.4l-2.3-3.5-1.5-1-1.2-.3-1 .5-.6 1 .1 3M290.3 130.7l-.7 1-.4 1.7 .3 1.8 1.1 2.1M350.4 97.7l4-1.2-.7-3M305.6 89.4l1.5-.9 1.8-.2 1.7 .4 1.4 1.2M325.4 206.3l4.2-.1 2.8-1M342.7 161.5l-.9-.8 .5-1 2.9-.6M391.6 162.7l1.7 .4 5.2-1.3M384.6 221l.2-3-.6-1-2.6-1.4-2.4-.4M320.4 80.6l-2.6 1.6-1 1.4-.6 2.4-.6 6.5M402.4 183.4l-3.6 .4-3.5-.6M386.9 80.1l.2-1.8 2-5M316.3 153.5l-.4-2.4 2.6-4M392 84.1l-1.3-2.7 .7-4.1M330.6 161.8l.6 .2-.6-.2 .5 .3-.2-.6-.3 .6 .6-.3-.5-.1 .2 .5 .4-.4-.6 .2 .6 .2 .1-.6-.9-.7-.6 0-.9 .7-.1 .6 1.2 1.3 2.7 1.3M276.1 208.6l-.4 .4 .1 1.2 2 4.3 .4 1.8M300.3 170l.9-3.5-.2-1.7-.8-1.6M366.9 145.2l1.1-2.8-.6-1.6-2.8-1.1-2.3 .3M266.9 125.3l-3.5 .9-4.1 .4-1.7 .7M370.9 216.3l-1.2 2.7 1.1 2.1M285.3 173.7l-2-1.4-2.3-.5-2.3 .7-.9 1.4M301.3 94.6l6.2-4.6M404.4 147.3l1.5 1 0 3-.8 1.6-2.8 3.1-.8 1.6M321.5 164.5l4.1-1 3 .5M392.3 135.8l1.2-3.4 1.5-1.9M342.2 219l1.8 0 .5-.4 3.6-10.2"/><ellipse cx="348.5" cy="155.5" rx="2.2" ry="1.7600000000000002" fill="#7a3c88" fill-opacity="0.85"/><ellipse cx="264.3" cy="176.5" rx="2.0" ry="1.6" fill="#7a3c88" fill-opacity="0.85"/><ellipse cx="329.2" cy="211.6" rx="2.6" ry="2.08" fill="#7a3c88" fill-opacity="0.85"/><ellipse cx="297" cy="110" rx="1.6" ry="1.2800000000000002" fill="#7a3c88" fill-opacity="0.85"/>
</g>
<polyline points="360.2,70.3 360.2,156.7 332.1,192.9" fill="none" stroke="#111" stroke-width="1.35"/>
<rect x="257.4" y="70.3" width="149" height="151.9" fill="none" stroke="#333" stroke-width="1.1"/>
<g fill="#231f20" font-size="11.6" text-anchor="end">
<text x="252.7" y="96.6">200</text>
<text x="252.7" y="128.3">150</text>
<text x="252.7" y="160">100</text>
<text x="252.7" y="191.8">50</text>
<text x="252.7" y="223.7">0</text>
</g>
<g stroke="#1a1a1a" stroke-width="1.1">
<line x1="257.4" y1="92.8" x2="261.4" y2="92.8"/>
<line x1="257.4" y1="124.5" x2="261.4" y2="124.5"/>
<line x1="257.4" y1="156.2" x2="261.4" y2="156.2"/>
<line x1="257.4" y1="188" x2="261.4" y2="188"/>
<line x1="286.7" y1="222.2" x2="286.7" y2="217.6"/>
<line x1="314.9" y1="222.2" x2="314.9" y2="217.6"/>
<line x1="343.2" y1="222.2" x2="343.2" y2="217.6"/>
<line x1="371.4" y1="222.2" x2="371.4" y2="217.6"/>
<line x1="399.6" y1="222.2" x2="399.6" y2="217.6"/>
</g>
<g fill="#231f20" font-size="11.6" text-anchor="middle">
<text x="259" y="237.9">0</text>
<text x="286" y="237.9">50</text>
<text x="315" y="237.9">100</text>
<text x="344.2" y="237.9">150</text>
<text x="373.2" y="237.9">200</text>
<text x="401.3" y="237.9">250</text>
</g>
<text x="331.1" y="252.8" font-size="12" text-anchor="middle" fill="#231f20"><tspan font-style="italic">X</tspan>/mm</text>
<text transform="translate(233.3,145.6) rotate(-90)" font-size="12" text-anchor="middle" fill="#231f20"><tspan font-style="italic">Y</tspan>/mm</text>
<text x="224.6" y="71.9" font-size="12" fill="#231f20">b.</text>
<clipPath id="cpc"><polygon points="454.5,70.3 603.5,70.3 603.5,156 552,222.2 454.5,222.2"/></clipPath>
<g clip-path="url(#cpc)">
<g filter="url(#bl)"><rect x="454.5" y="70.3" width="149" height="151.9" fill="#7cc242"/>
<path fill="#62c2e0" fill-rule="evenodd" d="M465 70.3l25.3 0 .3 3.5-1.4 2-2.2 1.3-6-2.3-4-2.3-.5 .3 .4 3 1.8 4-.7 1.6-2 .5-2-.7-1-1.3-1-.5-1 .9-2-.4-2 .3-2-1.3-2-2.7-.8-.4-.3-1 1.1-1.2 1.6-3.3zM512 70.3l6.4 0 0 .5-1.4 1.3-3 .6-1.6-.9-.7-1zM525 70.3l5.6 0-1.3 2.5 2.2 4 .3 2-2.6 3-.2 1 .9 4 2.8 2 0 1-1.7 .9-4 .7-1 0-.7-.6 .8-2-1.4-4 .3-1 1-1-2-.3-2.1-1.7-.2-1 3.6-4-.1-2-.9-1zM564 70.3l6.7 0 .6 3.5-.2 1-3.1 1-.9 1 .3 2 .6 .9 2 1.7 7 3.7 1 .3 3-1.1 2.7 .5 .4 1-.8 2-1.3 .5-4-1.2-2.9 1.7 .4 2-.5 1.9-4 1.4-3-1.3-1-3-4.5-2 .2-1 3.3-2 1.4 1 1.6 2.9 1 .4 2-.5 .6-.8-.6-1-5-2.4-1 .3-.3-.9-4.6-3-1.1-1.7-.1 .7-.9 .2-4.2-1.2 1.2-.9-.1-1.1-1.9-1-1 .5-1.2-.5 0-1 1.4-1 .8-2.1 1-.3 3 1.2 1 .8 4.2-1.6 .4-1.5zM564.3 72.8l.7 1.4 1 .6 0-1.3-1-.8zM556 74.8l1 1 1.4-1-.4-.8-1 0zM597 70.3l7.5 0 0 3.5-.6 0-.9 1.1-3 .9-1.4-1 .2-2-.5-1-1.8-1 0-.5zM539 72.3l1.4 1.5-.9 3 .3 1 2.2 1 5-.7 1 .9-1 .9-2 0-4 1.3-1-.1-3.3-2.3-.7-1 .1-1 1.9-3.6zM546 72.7l.9 2.1-.9 1.1-1-.2-.9-.9-.1-1zM503 74.8l1 .4 1 1.6 0 1.3-1 .9-1.7-.2-2-2 .6-1zM511 78.5l1 .2 .3 2.1-2.3 1-1.3-1 .4-1zM589 78.3l1 0 2 1.2 4 .6 4.2 1.7 .1 1-1 2-3.3 2.6-9.8-3.6 .1-2zM455 79.5l1 .6 5-.2 2 1.7 2 .6 .5 .6-.2 1-1.3 2.1-1 .4-8.5-2.6 0-4.2zM604 80.5l.5 0 0 2.6-.5 0-.8-1.3zM539 83.5l2-.4 1.8 1.7-1.2 1-1.6 .3-1.5-1.3zM519 84.8l1-.4 .2 .4-1.1 1-.4 1 .3 2 2.6 3-.4 1-1.2 .7-3 1.4-1-.1-1.2-2 .7-3-.1-3zM478 85.8l.2 1-.8 2 1.4 2-.8 .8-3.5 .2-.9-1-.6-2.1-1.8 1.1-2.2 .2-2.5-2.2 5.5-1.8 3 1.3 1-.2zM604 85.6l.5 0 0 3.2-.5 0zM505 86.1l.5 .7 1.8 7-.1 1-1.2 1.4-1 .2-4-1.2-2-1.4-2-2.6-4 1.1-1-.5-1.5-2 0-1 .5-.5 3-.6 4 1.8 1 0zM550 87.6l8-.3 1.7 1.5 .5 2-.2 1-2 1.4-6-2-2.8-.4-1.2-2zM462 88.5l1.1 .3 .4 4 1.1 2-.6 2.2-1 .9-1 0-5-.7-1.7 1.6-.8 .2 0-2.1 .8-.1 .6-1-1.4-.6 0-2.5 1.7 .1 .4 1-.4 1 .8 .9 3-1 .6-.9-1.2-2 1-2zM486 90.8l1-.7 1.3 .7-1.3 .8zM600 92.5l2 .9 2 3.6 .5 0 0 5.8-4.5-.4-2.6-2.6 .7-2 .1-3zM536 94.5l1-.1 .2 .4-.2 1.4-1 .4-.7-.8zM579 94.2l7-.1 1 .7 .5 1-.2 1-2.3 1.7-4 .1-2-1.8zM474 97.7l2 .1 .6 1-1.6 1.7-1.3-1.7zM573 97.2l1.8 .6-.5 1-1.3-.2-.5-.8zM541 98.4l6 .7 .5 .7 .3 2-1.1 1-3.4 1-1.3 1.7-1-.1-.7-.6 0-2-.9-2 0-1 .6-1zM562 98.3l2-.4 1.4 .9 0 6-.5 0 0-1-2.9-2-.6-3zM484 99.4l1 .5 .9 1.9-.4 1-1.5 .6-1.6-.6-.5-1 1.1-1.8zM522 99.6l2.2 1.2 .9 5 .9 .8 4 1.3 2 2 3 .6 .3 .3-.2 1-3.1 1.8-2-.5-1 .2-2.9 1.5-.1 .5-.1-.5-8.7-4-.5-1 3.7-5 .5-1-.3-3 .4-.8zM590 99.6l3.1 2.2 1.1 3-.2 1.3-2 1-2-.2-4 .6-2.7-.7-.5-1 .2-.6 3-.8 1-2.3zM495 100.7l1-.5 2 .3 1 .8 2 3.4 8 3.1-4.2 3-4.8-1-2-2.7-.4-2.3-.6-.6-1-.4-1.7 1-1.3 .1-1-.7 0-2zM466 101.6l3-.5 1.8 .7-.4 1-1.6 1-1.8 2.2-1 .3-1.1-.5zM571 106.6l2-.7 .6 1.9-.6 .5-2-.2-.7-.3zM478 107.1l5 1.2 4 1.7 2-.2 1 .4 .3 1.6-1.6 2-.1 2-.6 .8-3 1.5-3 2.7 2 3.9 1 0 1.9 2.1 1.2 4 1.9 .6 7 .8 .7 .6-.2 1 .5 .4 2-.3 2 .6 2-1 2 .5 .7 .8-.6 1-3.1 3.6-2 .5-3.3-2.1-.7-1.8-1-.4-3 .3-3-1.2-2 1.3-2 .6-1-.4-1-1.5-3-1.4-.6-1.5 .2-2-.6-.8-1-.3-4 1.2-1-.1-4.4-2-1.1-1 0-1 1.1-2 2.4-1.5 1 .1 4 2.6 1 0 1-.6 .2-.6-.5-1-3.1-3 .4-.7 2-.4 2.7-1.9 .1-1-.8-.5-3-1.3-2 .5-6-1.6-2 .9-.3 1 1.9 2 .2 1-.8 1-1 0-4 0-1-.4-2-2.6-.1-1 1.1-2.4 3-.7 3-2.1 3 .8 3-.3 1 .3 1 .9 2 .4 1.3-.9 .1-1-1.3-2zM543 107.7l1-.3 1.2 1.4-1.2 .8-1-.5zM554 107.4l2-.3 .8 .7-.1 1-.7 .7-1 0-1.2-.7-.3-1zM595 108.8l1 .8 0 2.2 .7 1 1.7 1 2.6 3 0 2.1-4 .8-3-.4-2 1-2.5-.5 0-1 2.1-2 .4-3-.2-1-.8-.8-2 .4-2 1.8-2 .9-2 2.5-1 .4-7-1.8-3 .2-1.1-1.6 .1-1.5 1-.8 1.8 .3 1.2 1.2-.2-3.2 1.2-1 3 .8 3 1.4 1 0 1-.3 3-2.5 5 .7zM512 109.2l1-.1 1.3 .7-.3 .8-1 .3-1.6-1.1zM604 110.2l.5 0 0 2.8-.7-.2-.3-1 0-1zM497 111.8l1.5 0 1.5 1.9 4 1.3 2 .1 2.8 1.7 .6 1-.4 1-3 4-1 .7-.9-1.7-1.2-1-.7-2 .3-2-.5-1.3-5 1.7-2-.6-.3-.8zM561 112.6l1.4 .2 1.3 1 0 2 1.3 1.8 2 0 2-1.1 .5 .3 .7 2 3.1 5-.5 2 .8 2-.8 1-3.8 2.8-1-.3-1.2-2.5-.2-1 1-1-.4-1-1.2-.3-2-1.4-3-3.4-2-.4-2 .3-4 2.9-2 .1-2.1-.8-1.9-2-1-.4-2 .5-3-.8-1.5-2.3 .5-3.8 1-.9 2-.1 5 1.8 1 3 4-1.5 3-2.3zM524 116.6l2-.8 4 1.5 2-.9 1.7 .4 2.3 2-.5 1-.4 3-5.1 1.9-6 .9-2-.2-.5-.6 .2-2-.3-4 .6-1.1zM455 118.7l.4 1.1-.9 .6 0-1.7zM459 119.8l1.8 0 .4 1-1.2 .4-.9-.4zM583 119.9l1 .7 .3 1.2-1.3 .9-1-.1-.6-.8zM487 121.7l.1 1.1-1.1 1.1-.3-1.1 .3-.7zM513 121.8l1 .5 0 .8-1 .3-.6-.6zM463 123.7l1.3 .1 1.3 1-1.6 1.4-1-.2-1.1-1.2 .5-1zM592 123.6l1-.3 1.3 .5 .8 1 .3 2 .9 1 3.6 2 1.1 3.9 3 2.1-3 .7-1.8-.7-.8-2-1.4-1.1-2.7-4.9-2.9-2-.2-1zM505 124.4l.8 2.4-.8 2.8-3 2.3-2-.2-.9-.9-.1-3 1.1-1 3.3-1zM580 125.6l1-.7 1 0 1 .7 1.3 2.2-2.3 1.1-1.4 1.9-.1 1 1.5 2 3 1.6 5-.1 2.8 .5 1 1 .3 2 2.1 2 1.3 2-1.5 2 .7 3-.7 .8-3-.1-1.4-.7-.1-1 1-2-.5-1.1-5-.7-3-1.2-2.8 0 0-3-1-2-1.2-.7-2.3-.3-.6-1-.5-5-1-2zM553 127.6l3.1 3.2 .4 1-.5 1.5-1 .5-4 .3-.6 .7-.4 2.3-1 .9-1 .2-2-.7-1.2-1.7 .1-1 2.1-2.2 1-.4 1 .4 1.4-2.8 1.6-1.8zM521 129.7l2 .5 2 2.5 1 .3 2-.3 2.3-1.9 1.7-.7 3-.5 4.5 .2 1.7 2 0 1-1.3 3 0 2-.5 1-2.4 .9-4-4.4-3 .5-.6 1 .1 6-.5 1-3-.5-2-2.5 .1-1 1.1-2-.2-1.1-1-1.4-6-3-3.7-.5 1.7-.9zM459 130.7l2.1 1.1 .9 2 1 1 4 .8 .9 3.2-.5 1-3.4 .5-2-.4-1.3-1.1-1.7-2.9-1-.6-3.5 1.7 0-3.6 2.5-.6 1-1.7zM473 132.4l1 2.8 1 1.3 2-.5 .8 .8-.5 1 .2 1 2.4 2-.2 2-.7 1.2-2 .4-3-.4-2-.7-1.2-1.5 0-2 1.4-2 0-1-.9-2 .2-1zM512 132.4l2-.3 .3 .7-1.3 1.5-2 0-.5-.5zM567 133.3l.7 .5-.7 .5-.8-.5zM504 140.9l.5 .9-.5 .6-.7-.6zM545 142l4 1.4 1 1.1 1 .3 2-.3 3.7 1.3-.8 3 .2 1 .9 1.4 1 .5 1 .3 4-.9 1 .5 .5 1.2-2.5 1.7-.4 3.3 .4 .6 3-.2 2.8 4.6-.7 1-1.1-.1-2-1.7-2-2.8-1 .1-6.6 3.5-2.4 1.8-.8 2.2-1.2 1 0 1 1.3 1 0 1-.8 1-3.5 1.6-4 .2-2-.8-2.6-3 1.6-1.3 .7-1.7-.2-1-2-3 .2-3-.7-.7-3.6-1.3-.3-1 1.8-2 .8-4 1.3-.6 1 .3 2.4 2.3 .4 2-1.9 4 2.1 3.4 1 .4 2-.1 3 .8 1-.4-.4-2.1 .4-.7 4-1.7 1.2-1.6-1.2-1.9-2 0-4 1.5-2-.3-1.2-1.3-.2-3 .6-3-2.2-1.5-2 .2-.3-.7 2.3-1.2 2-.4zM579 142.1l1-.1 .5 .8-1.5 1.1-.6-1.1zM481 144.7l4 .2 4 3 3 0 0 4.9-1 .5-1-.2-2-.9-2-1.7-4.8-1.7-.9-3zM531 144.7l2-.1 .9 1.2 .1 1.3-1 1.3-2.8-2.6zM509 145.7l2-.1 1.7 1.2 .4 1-.5 2 .4 1.1 4 .8 3 1.6 2-.2 4 2.1 3 .1 2.5 1.5 .2 2-.7 1.7-2.9 2.3 .4 2 2.5 1.4 .8-2.4-.6-1 .8-.8 2 1.1 1.3 3.7 2.3 2-1.6 1.2-1-.1-3-1.8-3 .8-5-1.9-4.9-.2-5.1-2.5-1.5-1.5-.6-1 .2-1 .9-1.2 3-.2 1.2-1.6-.2-1.4-3.6 .4-1.4 2-2 .7-5 5.5-2-.1-3-1.4-.6-.7 1.2-2-.4-1-3.2 1 .6 4-2.6 4.2-1.1 .8-.3-1 1.3-4-.8-4 1.1-1-1.2-.1-1.7-1.9-.7-1 .4-1.5 2 .1 1.8-1.6 2.2-.4 3 5.7 2-.8 2-.2 2-2.5 3.4-1.8 .5-1 0-1-.9-.8-3-.7-1.9-1.5 1.9-2.2zM458 147.5l1.1 .3-1.2 2 .1 2 1 1.3 3 .2 1 .7 .7 1.8-1 1-1.7 .5-6.5-.3 0-7.5 1.5-.1zM498 149.7l1.1 .1zM529 149.6l1.3 .2 .2 1-1.7 0zM573 149.7l2 .6 2 1.5 2.2 1-.6 5-1.8 4 .2 2-.7 3 .8 1 1.9 .8 6 0 .8 1.2-.6 1-4.2 .3-.4 .7 1.1 5-.7 .6-1.4-.6-1.9-2-6.7-.5-1.2-.5 .7-2-1.4-2 .4-2 2.5-2.8 2.2-.2 0-2-2.1-3-.1-1 .6-2 1.5-2-3.1-.6-2 .9-2 .2-1.1-1.5 3.1-2.1 2-.3zM589 149.3l1 .7 3 4 2 .6 2.8-1.8-.3-3 .5-.8 1-.1 4.4 1.9-1.8 1-.8 1 0 1 3.7 .5 0 13.6-2.5-.6-3 .9-2-2.4-3-1.8-5-.1-2 .4-1.7-.5-.6-1-.2-2 1.9-3 .9-6zM582 150.6l2.2 .2-.7 1-2.5 .3-.4-.3 .4-.8zM478 151.4l1-.3 1 .4 1.5 2.3 .1 2-1.6 1.6-1 0-2.7-4.6zM467 158l2 1 6 4.4 2.6 2.4-.2 1-1.4-.3-2-1.6-2.9 .9 0 1 1.9 1.3 .2 1.7-1.2 1.2-2-.2-.8-1-.1-1 .9-1.6 .8-.4 .1-1-1.9-3.3-2-.4-.7 .7-1 3-1.1 1-.2 2.2-2-.4-2 .3-1-.8-.1 1.7-.7 1-1.9-1-.9-1 .5-1 2.9 0 .2-2.3 2.5-.7 1-2 2.5-1.7zM482 164.8l2 0 1.9 2 3 2-.3 3 .7 4-.3 .6-2 .9-2.4 2.5 1.8 2 .3 1-.8 6 2.1 2.1 1.1-.1 .9-3.3 3.2-1.7-1.2-1.8-2.1-.2 1.1-.5 .8-1.5 .6-3 .6-.7 4-2.3 3 0-2.1 6 1.1 2.3 1 .3 6.6-2.6-.1-1-1.7-3 .1-1 4.1-3.7 2 .1 1.4 3.6-.7 4 .3 .6 3 .6 1 .8-.3 1-2.7 1.3-3-.2-.8 .9-.2 1.1-3 2.5-4.6 .4-.5 1 2.1 1.8 2-.6 2-2 3.8 .8-1.1 2 0 1 2.6 3 .1 1-2.4 3.1-4 .4-5.2-3.5-3.8-.4-1-.9-2-3.8-2-.8-1 1.4-.3 2.5 2.3 2.7 2-.3 1 .6 .1 2-1.1 .9-1.3 .1-6.7-3-.4-1 1.3-2-.1-1-.8-.7-7-.6-6 .6-.8 .7-.1 1 .9 1.1 4.5 .9 1 1-.8 1-4.7 1.3-2 2.9-3 1.7-3-.6-1.6-1.3-.1-1 1-3 1.3-2-2.1-3 4.5-1.6 .8-.4 .5-1-.4-1-3-2-.1-1 1.2-1 4 1.9 .8-.9-.4-3 .8-2 0-2-1.2-.9-1.2-.1-.6-1 .8-1.1 2-.7 4-3.1 5.6-3.1 .4-2.1-3.6-1.9 .2-1zM494.7 186.8l1.3 1.9 1 .4-.9-2.3zM508 165.8l1.3 1-1.3 .9-.8-.9zM589 170.7l2 .1 3 1.4 .7 .6 0 1-.6 1-2.1 .7-1.8-.7-1.5-2zM522 171.7l2-.8 1 0 1 .6 2 2.3 .4 1-.4 1-2 1.6-4-1.9-1.2-1.7 .1-1zM536 172.2l.7 .6-.3 1 .6 1.5 5 1.5 .7 1 .2 1-.7 1-2.3 2 .3 1 4.8 2 3-.5 2 2.6 6-.5 3.6-5.6-3.6-1.5-3 .1-1-.5-1.3-1.1-.4-2 .7-.5 2 .1 2-.5 4 1.6 1.4 1.3 .6 2.2 3.2 1.8-.4 2 .7 2-.9 2 .4 1 3 .4 .9 .6-.4 1-2.2 2-1.3 2.6-3-.3-2-1.3-2-.5-1 .3-2.3 3.2-1.7 .9-6-1.1-1-.8-1.8-4 .7-1 4.3-2-.1-1-3.1-1.2-5 .8-2-.6-3-2.1-1.8-1.9-1.6-4-1.3-2-.1-1 2.7-2 2.8-1zM558 187.8l0 1.2 .4-.2zM463 173.2l.6 .6-1.5 0zM464 179.7l3 .1 1.1 1-.5 1-.6 .3-6.4-.3 1.4-1.2zM583 179.4l3 .9 .5 2.5-1.2 2 0 2-2.3 1.3-1.2 1.7 .2 1.1 1 .6 1-.4 1 .1 3.1 1.6 .8 1 .5 3-.4 .8-1 .2-1.6-1-3.4-4.6-1-.1-2 2.6-2 .7-1-.5-.6-2.1-3.4-2 1-1.3 3-1.3 4.6-3.4 1.3-3zM600 180.8l1-.4 .9 .4 2.1 3.2 .5 0 0 6.9-.7-.1-.5-1 .4-5-2.8-1-.9-1.4zM459 182.3l1.1 .5-1.1 .9-.9-.9zM518 185.4l1-.1 .4 .5-.3 1-1.3 0zM455 187.8l2 0 3.4 1 2.3 3 1.1 3-2.8 1-3.3-1 .1-4-3.3-.4 0-2.6zM597 190.6l2-.3 3.9 1.5 .4 5-.3 .8-2.1 .2-.9-.6-1-1.9-2.1-1.5-.9-1-.1-1zM529 191.7l0 2.6-.4-1.5zM570 197.2l1-.1 1 .5 1 1.8 1 .4 2 0 1.7-1 1.3-.1 3.2 2.1 .2 1-.4 .2-3-.7-1.4 .5-.5 1 .5 2 1.4 1.5 1 .1 2-1 .4 2.4-3.4 .6-6-.3-2 .6 0 2.1-1 .7-1 0-1.4-.7 1.4-2.4 1.4-.6-2.3-2-.6-2 1.5-2.1 1.6-.9 .4-1-1.5-2zM455 197.9l1 .6 .6 1.3-.4 1-1.7 .2 0-3.1zM533 198.5l3-.1 4 2 1 .4 1-.8 .9 .8 .1 2.2-3 1.2-.9 1.6 2.3 2 3.6 1.1 5 4.9 3.4 2 .6 1-1 2.6-1 .1-1-.9-1.5-1.8-.5-1.5-2-.2-2.7 3.7-.9 2-.3 2.5-7.9 0 0-.5-1.7-1 .3-1 2.2-1 3 .2 1-1.2 0-1.3-2 .7-5-1.7-5 .9-2.8-.6-.4-1 .9-1 1.3-.5 7-1.1 3 .5 1-.4 .6-2.5-.6-2.1-2 0-1.9-1.9-1.1-.4-2 1-1 0-2.3-1.6 4.3-1.5 1.6-1.5 .3-2-1.3-2zM542 198.6l0 .8zM563 198.3l1 .3 .7 1.2 .1 2-.8 1-3 .7-1.3-.7-.6-1 .4-1zM482 200.6l1 .4 .4 .8-2.3 2-.7 2 .6 1.3 3.4 2.7-3.4 2.6-5.4-4.6 .2-1 .9-1 3.9-3 .4-1.6zM518 201.3l1-.1 1 .5 0 1.1-1 1.7-2 .5-.6-1.2 .3-1zM502 202.6l1 .3 .8 .9 .6 2 3.5 4 .7 2-.1 2-2.3 3-.4 4 1.2 1.5 3-.1 1 .4 .2 .7-14.6 0-.9-1.5-1.8-5 1-4-.9-3 1-1.1 1-.1 .5 1.2 1.5 1.4 3 .8 2-.6 .9-1.6-.1-1-1.7-2-1.8-1 .4-2zM592 205.7l2 .1 1.6 1 .6 1 0 1-1.2 .8-3.5-1.8-.4-1zM490 207.4l1 .4 .6 1-.6 .9-1 .1-1.5-1zM455 208.1l2.8 1.7 .2 2-1.5 2-2 .6 0-6.3zM557 208.8l4 .2 2.8 1.8 2.4 3-.3 1-2.6 2 0 1 2.7 3.3 .4 2.2-9.8 0 0-.5 2.4-.8 1-1.2 .9-3-2.4-4zM586 208.6l1-.4 1 .3 .3 1.3-1.3 .2zM469 209.7l3-.5 1 .3 2 4.7 .3 2.6-1 2 1.2 2-2.5 1.7-.2 .8-7 0 1.7-5.5-.8-3 .4-3 .9-1.7zM486 209.6l1.5 .2-1.5 1-.9-1zM596 212.1l2.7 .7 .4 1-.3 3-1.8 1.9-3-.7-.9-1.2 .2-1zM462 213.5l1.7 .3 .5 1-1.8 0-.8-1zM488 216.4l2-.5 1 .1 .9 .8-2.9 3-1 .3-1.5-2.3zM586 217.6l3.2 .2 .7 1-.9 1.2-2 1.2-4 .3-.8-.7 .5-1zM572 218.4l2 .4 1 3 1.1 1.5-5.9 0 .1-3.5zM602 220.7l2.5 .2 0 2.4-1.4 0 0-.5-2.9-1zM524 221.5l1.1 1.8-2.4 0 .3-1.2zM554 222.1l1.6 .7 0 .5-2.1 0z"/><ellipse cx="504" cy="97.4" rx="3.6" ry="3.0" fill="#5ec2dc"/><ellipse cx="520.8" cy="101.8" rx="3.6" ry="3.0" fill="#5ec2dc"/><ellipse cx="570.6" cy="85" rx="3.5" ry="2.9000000000000004" fill="#5ec2dc"/><ellipse cx="580.9" cy="101.3" rx="3.7" ry="2.9000000000000004" fill="#5ec2dc"/><ellipse cx="598.9" cy="108.5" rx="3.3" ry="2.9000000000000004" fill="#5ec2dc"/><ellipse cx="559.5" cy="157.5" rx="4.2" ry="3.5" fill="#5ec2dc"/><ellipse cx="459.3" cy="176" rx="3.4000000000000004" ry="2.9000000000000004" fill="#5ec2dc"/><ellipse cx="468.1" cy="211.7" rx="3.2" ry="2.8" fill="#5ec2dc"/><ellipse cx="470.8" cy="215.3" rx="3.8" ry="3.2" fill="#5ec2dc"/><ellipse cx="498.2" cy="209.6" rx="3.3" ry="2.8" fill="#5ec2dc"/><ellipse cx="490.2" cy="146" rx="3.2" ry="2.7" fill="#5ec2dc"/><ellipse cx="504" cy="97.4" rx="1.8" ry="1.4" fill="#1f5fae"/><ellipse cx="520.8" cy="101.8" rx="1.8" ry="1.4" fill="#1f5fae"/><ellipse cx="570.6" cy="85" rx="1.7" ry="1.3" fill="#1f5fae"/><ellipse cx="580.9" cy="101.3" rx="1.9" ry="1.3" fill="#1f5fae"/><ellipse cx="598.9" cy="108.5" rx="1.5" ry="1.3" fill="#1f5fae"/><ellipse cx="559.5" cy="157.5" rx="2.4" ry="1.9" fill="#1f5fae"/><ellipse cx="459.3" cy="176" rx="1.6" ry="1.3" fill="#1f5fae"/><ellipse cx="468.1" cy="211.7" rx="1.4" ry="1.2" fill="#1f5fae"/><ellipse cx="470.8" cy="215.3" rx="2.0" ry="1.6" fill="#1f5fae"/><ellipse cx="498.2" cy="209.6" rx="1.5" ry="1.2" fill="#1f5fae"/><ellipse cx="490.2" cy="146" rx="1.4" ry="1.1" fill="#1f5fae"/><ellipse cx="499.6" cy="89.1" rx="1.8" ry="1.1" fill="#d9e34c"/><ellipse cx="516.7" cy="110.3" rx="2.0" ry="1.4" fill="#d9e34c"/><ellipse cx="517.2" cy="77" rx="1.2" ry="1.0" fill="#d9e34c"/><ellipse cx="473" cy="144.6" rx="1.5" ry="1.1" fill="#d9e34c"/><ellipse cx="497.3" cy="144.2" rx="1.4" ry="1.1" fill="#d9e34c"/><ellipse cx="492" cy="188" rx="2.2" ry="1.1" fill="#d9e34c"/><ellipse cx="527.3" cy="212.3" rx="2.0" ry="1.2" fill="#d9e34c"/><ellipse cx="563.5" cy="189.3" rx="1.5" ry="1.2" fill="#d9e34c"/><ellipse cx="563.5" cy="177.8" rx="1.2" ry="1.0" fill="#d9e34c"/><ellipse cx="512.3" cy="181.3" rx="1.2" ry="1.0" fill="#d9e34c"/><ellipse cx="490.2" cy="214" rx="1.2" ry="1.0" fill="#d9e34c"/><ellipse cx="539.7" cy="214" rx="1.2" ry="1.0" fill="#d9e34c"/><ellipse cx="598.3" cy="157.5" rx="3.6" ry="3" fill="#f2c02a"/><ellipse cx="598.6" cy="157.6" rx="1.8" ry="1.5" fill="#e8502a"/></g>
</g>
<polyline points="554.6,70.3 554.6,154 528.4,192.1" fill="none" stroke="#111" stroke-width="1.35"/>
<rect x="454.5" y="70.3" width="149" height="151.9" fill="none" stroke="#333" stroke-width="1.1"/>
<g fill="#231f20" font-size="11.6" text-anchor="end">
<text x="449.8" y="96.6">200</text>
<text x="449.8" y="128.3">150</text>
<text x="449.8" y="160">100</text>
<text x="449.8" y="191.8">50</text>
<text x="449.8" y="223.7">0</text>
</g>
<g stroke="#1a1a1a" stroke-width="1.1">
<line x1="454.5" y1="92.8" x2="458.5" y2="92.8"/>
<line x1="454.5" y1="124.5" x2="458.5" y2="124.5"/>
<line x1="454.5" y1="156.2" x2="458.5" y2="156.2"/>
<line x1="454.5" y1="188" x2="458.5" y2="188"/>
<line x1="483.8" y1="222.2" x2="483.8" y2="217.6"/>
<line x1="512.1" y1="222.2" x2="512.1" y2="217.6"/>
<line x1="540.3" y1="222.2" x2="540.3" y2="217.6"/>
<line x1="568.5" y1="222.2" x2="568.5" y2="217.6"/>
<line x1="596.7" y1="222.2" x2="596.7" y2="217.6"/>
</g>
<g fill="#231f20" font-size="11.6" text-anchor="middle">
<text x="457.6" y="237.9">0</text>
<text x="484.1" y="237.9">50</text>
<text x="513.1" y="237.9">100</text>
<text x="542.2" y="237.9">150</text>
<text x="571.3" y="237.9">200</text>
<text x="598.3" y="237.9">250</text>
</g>
<text x="532.1" y="252.8" font-size="12" text-anchor="middle" fill="#231f20"><tspan font-style="italic">X</tspan>/mm</text>
<text transform="translate(430.4,145.6) rotate(-90)" font-size="12" text-anchor="middle" fill="#231f20"><tspan font-style="italic">Y</tspan>/mm</text>
<text x="419.9" y="71.9" font-size="12" fill="#231f20">c.</text>
<clipPath id="cpd"><polygon points="648.6,70.3 797.6,70.3 797.6,154 750.2,222.2 648.6,222.2"/></clipPath>
<g clip-path="url(#cpd)">
<g filter="url(#bl)"><rect x="648.6" y="70.3" width="149" height="151.9" fill="#f05a28"/>
<path fill="#f2de5c" fill-rule="evenodd" d="M678.1 70.3l3.3 0 0 .5-1.3 1.9-1-.3-1.7-1.6 0-.5zM685.1 70.3l3.7 0 0 .5-1.7 .9-1-.1-1.8-.8 0-.5zM722.1 70.3l.4 0 .6 1.5-1 .7zM735.1 70.3l1.8 0 0 .5-1.8 1.2zM650.1 71.1l0 1.1zM709.1 71.4l.4 .4-.4 .8-.5-.8zM659.1 73.8l1-.5 .9 .5-.9 .3zM692.1 73.8l1.3 1-.1 1-1.2 .5-1.7-.5 .3-1zM775.1 73.8l1 .4 .2 .6-.3 1-.9 .6-.3-.6zM697.1 77.7l1-.5 .4 .6-.4 1.1zM746.1 77.7l0 1.3-.6-.2zM683.1 78.7l.8 .1-.8 .5-.4-.5zM651.1 79.7l1-.7 1 .1 .6 .7-.6 2.3-1 .4-3.5-.6 0-1.3 1.5-.2zM692.1 78.9l1 .2 1.2 2.7 2.8 2 0 1-1 .7-2-.3-1.2 .6 .5 2-.5 1-1.8 1-4.4-1-1.3-3-1.3-1.4-1.7-.6-.6-1 3.3 .1 1-1.1 .3 2 1.7 .6 1-.6zM689.5 84.8l.5 1 1.1 0-.4-1zM715.1 79.2l1 .9 .3 1.7-.3 1.1-1 .7-1 0-.5-.8 .2-1 .5-2zM785.1 81.3l3 1.5 0 1.3-2 .7-1.6-1-.4-1.2zM670.1 82.7l2.8 .1 .4 1-2.2 1.1-1.2-1.1zM707.1 82.3l1-.1 .4 .6-1.4 .3zM755.1 85.4l1 1.1 .1 1.3-2.1 1.7-1.6 2.3-1.4 .5-.6-.5-.4-2.8-1.3-1.2 .3-.7 1-.4 2 1.4 1-.5 1-1.7zM714.1 86.7l3 1 .5 1.1-.5 1.5-2 1.5-2.3-4zM791.1 86l1-.1 .3 .9-.3 1.2-1 .2-.3-.4-.3-1zM682.1 88.1l1 0 1.2 .7-.1 1-1.1 .7-1-.3-.6-1.4zM697.1 88.5l1 .3-.1 1-.9 .6-1-.1 0-1.5zM650.1 89.7l1.8 .1 1.2 1.3 3 1.7-1 .7-3-.9-2 .2-.8-1zM665.1 89.6l1 .8 .8 2.4-.8 2.2-1.2-.2-1.3-2-.2-2 .7-.9zM706.1 89.7l1-.5 1 1.2 2 .7 1.9 1.7 1.4 0 .6 1-.9 1.7-1.4 .3-.7-2-1.7-2-.2-1-2.8 1-.2 2.1-1 .6-1-.3-.2-.4zM671.1 91.4l6.3 2.4-6.3 .9-.7-.9-.1-1zM786.1 93.6l1.1 1.2-1.1 1.7-1.3-.7 .2-1zM685.1 94.7l0 1.4-1.2-.3 .4-1zM739.1 94.7l1.8 1.1-2 0zM768.1 94.6l0 .4zM651.1 96.6l3.2 1.2-2.2 .5-1.1-.5zM674.1 98.1l3.2 .7 .7 1-2.9 .5-1.2-1.5zM747.1 98.6l0 .8-.4-.6zM766.1 98.6l2.2 1.2 1.6 2-.7 1-1.1 .2-.2-1.2-2.4-2zM661.1 99.6l.9 .2-.9 1-.5-1zM669.1 100.4l3 .3 .7 1.1-.3 1-1.4 1.3-4 1-1-.8 .1-1.5 .9-1.2zM691.1 100.5l1-.4 .6 .7-1.6 1.2-.5-.2zM750.1 100.8l1 0 1.1 3-.1 1.8-1 .7-1.6-1.5-.2-1zM758.1 100.4l3.3 .4 .7 1 0 2.7-.2-1.7-1.8-1.9-2.6-.1zM685.1 101.8l2-.6 1.2 .6 .1 1-1.3 1.9-1 .2-1-.8-.4-1.3zM681.1 101.8l0 1.4zM739.1 102.5l.5 .3-.5 .4-.6-.4zM653.1 103.7l1.9 .1 2.1 1 0 2.3-1 .7-1-.3-2.7-2.7zM783.1 103.8l1-.2 .5 1.2-.5 2-1 0-.7-1-.1-1zM689.1 105.5l1-.6 1.2 .9-1.2 1.5-1 .2-.5-.7zM676.1 106.2l1-.2 1 .4 1.1 1.4-.2 1-2.9 2.5-.7-.5-.1-1zM710.1 106.4l1-.1 .5 1.5-.8 1-1.7 .2-.1-1.2zM695.1 108.7l1-.7 1.2 .8-.2 .9-1 .4zM692.1 111.7l1.4 2.1 0 1-.4 .2-1-.2-.5-1zM697.1 111.2l.9 .6 .1 1-1 .6-.5-.6zM748.1 111.8l.2 1-2.6 2-.6 2.7-1-.6-1-1.1-.2-1 .8-2 .4-.4zM767.1 111.5l1-.5 .3 .8-1.3 .2zM778.1 111.5l1.2 1.3-1.2 1-.8-1zM759.1 112.3l0 .8zM650.1 113.9l.4 .9-.4 1.1-.4-1.1zM767.1 114.6l.5 1.2-.3 1-2.2 .8-.8-.8 .5-1zM794.1 114.1l.9 .7 0 1-.9 1 .9 2-.9 1.7-1.3-.7-.4-1 1.7-2-1-2zM798.1 114.7l.5 0 0 1.1-.5 0zM695.1 116.1l1 .1 .4 .6-.2 2 .8 .8 1.3 .2-.3 1.4-1-.1-1-.8-2 .4-.5-.9 .1-1zM775.1 117.5l.9 .3 .3 1-1.3 0-.3-1zM680.1 118.3l3.4 2.5 .2 1-3.6 1.3-2-1.2-1 .9-.4-1 1.4-.1 1.1-2.9zM710.1 117.9l2 2.2 1.4 .7-.4 1.1-1 .4-2.1-1.5-.6-1zM781.1 120.5l.4 .3-.4 1.2-.8-1.2zM672.1 121.7l1.5 .1 1.1 1-1.6 .6-1-.2-.3-.4zM736.1 121.5l2.6 2.3 .1 1-.7 1-4.2 0-.9-1 1.1-.7 1-2.2zM676.1 122.5l1 .3-1.6 0zM689.1 123.6l1-.7 1 0 1 2.9-.1 1-.9 .5-1-.8-1-1.6zM665.1 124.5l.8 .3-.8 .3zM710.1 124.4l1-.2 .7 .6-.8 2-.9 .6-3.4 .4 1.2-2zM788.1 124.8l1-.6 .7 .6-.1 1-.6 .4-.7-.4zM748.1 126.2l.7 .6-.7 .9-.7-.9zM705.1 128.7l.4 .1zM767.1 128.7l0 1.3zM692.1 129.3l1.1 .5 .9 1.8 2 0 0 .5-1 .3-3.8-1.6zM781.1 129.6l0 .4zM677.1 130.8l1 0 1 .7 .7 1.3-.4 1-2.3 1.6-1.1-1.6zM796.1 130.4l1-.4 1.5 .5 0 4.4-1.5 .6-3 2.6-1 .2-1-.4-.3-3.1-2-1-.6-1 .1-1 .8-.3 1.7 .3 .4 2 .5 1 .6 0 1.7-1-.5-2zM779.1 131.5l1-.4 1.7 2.7-.7 1.2-1 .4-1-.6-.4-2zM652.1 132.4l1.1 .4 .4 1-.5 1.1-2-1.1 .1-1zM734.1 133.1l.5 .7-1.1 0zM748.1 135.8l3 1 1.1 1-.1 1-1.3 2 .2 1-.9 1.3-3-.8-.9-1.5 1.5-3zM728.1 136.3l2-.5 1 .6 .7 1.4-.7 .8-3 .2-1.3-1 .3-1zM703.1 137.3l1 0 0 1.6-1-.7zM740.1 137.6l1.1 1.2-.1 1.1-1 .8-2-.3-.5-.6 .3-1zM762.1 138.7l1-.5 1 0 2.6 1.6-.6 1.1-3 0-1.6-1.1zM780.1 138.8l1-.1 .8 1.1-1.8 3.3-1-.1-.1-2.2zM696.1 139.7l1 .8 0 1.3 2.8 2-.8 1.5-3-3.5zM713.1 139.6l2.7 .2 0 1-1.7 1.4-1-.3-.7-1.1zM717.1 139.8l1 0 .5 1-.5 .7-1.4-.7zM705.1 140l.8 .8-.8 .9-.6-.9zM690.1 142.8l.6 1-.6 .8-1.2-.8zM798.1 142.8l.5 0 0 1.4-.7-.4zM654.1 143.7l0 .8-.5-.7zM681.1 144.6l2.3 2.2-1.3 1-1-1zM725.1 145.7l.9 1.1-.9 1.2-2 .3-1.2-.5 .6-1zM662.1 146.4l.8 .4 0 1-.8 1.1-1.4-.1-.2-1 .6-.9zM671.1 146.8l0 1.2zM778.1 146.5l1.4 1.3-.4 1-1 .6-1.2-.6 .2-1.2zM709.1 147.5l.9 1.3-.9 .7-.9-.7zM740.1 147.7l2 .3 2-.9 1.2 .7-3.2 2.1-2 .6-1.7-.7-.4-1zM750.1 147.6l1 .3 .7 .9-.4 1-1.6 1-1.4 0-.8-1 .3-1zM795.1 147.4l1-.2 .5 .6-.2 1-1 1-.3 2.2-1 .8-2.3 0-.6-1 .9-1.3 2-1.1zM656.1 148.7l1 .3 .7 .8-.7 1.4-1-.2-.6-1.2zM668.1 150.6l1-.5 4 1.3 .4 1.4-.4 1.3-1 1-2.1-1.3-1.2-1zM698.1 150.6l1.5 .2-2.5 2.8-1-.3 0-1.9zM701.1 151.3l1 .4 0 .4-1.6-.3zM729.1 151.7l3 .4 1.4 1.7-4.4 .7-1.2-1.7 .2-.9zM657.1 152.6l1-.1 1.9 1.3 .3 1-.6 1-1.6 .4-2.9-1.4-.6-1zM665.1 154.4l1-.1 .2 .5-1.2 1zM707.1 154.4l.3 1.4-.3 .3zM747.1 154.3l2.8 .5 .9 1-.9 1-2.4 0-1.2-1 .2-1zM664.1 155.8l.8 0-.6 3 2.8 3.1-3 .1-2.3-2.2-.1-1 .8-2zM680.1 155.2l1-.2 1 .8-.1 1-1.9 .8-.7-.8zM692.1 155.6l.7 1.2-.7 1.9-.8-1.9zM672.1 156.6l2 0 2.1 1.2 .6 2 2.3 1 .5 1-.3 1-3.2 2.2-1.4-.2 0-1 1.2-3-.8-.9-2-.8-2 .1 0-1.6zM724.1 156.3l1.4 .5 .3 1-1.7 .6-1-.4 .1-1.2zM685.1 157.1l1.4 .7-.2 1-1.2 .6-.6-1.6zM790.1 157l1.4 1.8 .1 1-.5 .3-1-1.7zM757.1 158.9l2 .9 .8 1 .2 1-1 1-2.9-1-.1-1zM770.1 160.8l1-.3 5.7 2.3 0 1-1.2 3 .5 2.6-1 1.4-3 .9-1.2-.9 2.7-3-2.5-3-1.5-3zM737.1 161.7l-.6 .1zM753.1 164.6l.7 .2-.7 .5zM730.1 165.2l0 1.1-.6-.5zM748.1 166.8l1-.6 1 .6-.1 1-.9 .9-1 .3-.7-1.2zM758.1 167.2l0 1-.8-.4zM717.1 168l1 .1 .6 .7-.6 2 1 2-1 .2-.9-1.2 .8-1-1.3-2zM666.1 169.7l1.6 .1-.6 1.4-1 .4-.4-.8zM730.1 169.6l.7 .2-.7 .3-.4-.3zM737.1 170.3l1-.5 .7 1-.3 1-2.4 2.1-.3-1.1zM713.1 171.3l1.2 .5-1.2 .6-.4-.6zM654.1 172.7l.8 .1-.4 1-1.4 0zM744.1 172.7l.3 .1-.3 .3zM665.1 173.4l1 .4-1 .1zM694.1 173.3l1 .3 0 2.3-1.3-.1zM776.1 173.1l1.2 .7-.2 2-1.1 0-1.1-1zM680.1 174.6l0 .4zM746.1 174.7l.7 1.1-1.7 1 0-1.6zM752.1 175.6l1-.3 1.6 .5-.1 1-1.5 .8-1.3-.8zM691.1 175.8l1 .3 .1 .7-1.1 .5-.8-.5zM780.1 176.8l1.1 0-.1 .5zM669.1 177.7l1-.4 .5 1.5-1.3 0zM709.1 177.7l1.6 1.1 0 1-1.6 2.9-1 .2-1.2-1.1-.3-1zM729.1 177.8l.5 1-.5 1-.4-1zM772.1 178.7l1.1 .1-1.1 1.1zM760.1 179.8l1-.4 .4 .4-.2 1zM794.1 179.6l.7 .2 .4 1-1.1 .9-1-.1-.6-.8zM689.1 182.5l1.1 .3-.1 .8-1.8-.8zM674.1 183.1l1-.2 1.4 .9-2.4 2.8-1-.7-.2-1.1zM684.1 183.6l1.6 .2-2 0zM691.1 183.7l0 .4-.9-.3zM751.1 183.8l2-.5 1 .4 1.1 2.1-.4 1-.7 .6-1 0-2-1.6-.4-1zM729.1 184.4l.9 .4-.9 .5-1-.5zM767.1 185.3l1 .1 .5 1.4-.5 .9-1 .3-.9-1.2 .1-1zM780.1 185l3 .7 .4 1.1-1.4 .7-1-.3-1.6-1.4zM773.1 186.6l1 .3 1.5 1.9-1.5 1.5-2-.3-.9-1.2 .9-1.6zM711.1 188.2l3.7 1.6 1.3 1.5 1.4 .5 .1 1-4.5-.3-1 .5-1 2.5-2.2-.7-.2-1 1-2 .2-2zM794.1 188.2l1 .2 1.6 1.4 0 1-1.6 1.2-1 .1-1-1.3 .2-2zM678.1 189.8l.6 1-.6 1.2-2 .2-1-.4 0-1.2zM698.1 189.7l1-.4 1.1 .5-1.1 1.1zM687.1 191.7l0 1.2-.3-1.1zM749.1 191.6l.1 1.2-2.1 .8-.5-.8zM782.1 191.8l1.2 0 .8 1.2 2 1.2 0 1-4-.8-.9-1.6zM724.1 193.6l1 .2 .7 1-1 1-.7 2.8-1-.1-1.8-1.7 1.8-2.8zM770.1 193.7l1 .1-.2 1-1.8 .9-.6-.9zM658.1 194.5l2-.3 1.6 .6 1.9 1 0 1-3 1-2.5 2-1-.1-1-.9 1.5-4zM719.1 196.8l1 1-1 1.5-1 .4-2.1-.9zM743.1 197.5l1.4 .3 .2 1-1.2 1-1.4-.1-.5-.9zM674.1 198.7l.8 .1 .2 1-1 .6-1.1-.6zM761.1 198.7l0 1-.3-.9zM657.1 201.4l1 .4 0 1-1 .8-.8-.8zM733.1 201.6l1.4 .2-.1 1-1.6 0zM777.1 201.8l1 0 .2 1-1.2 1.2-1.1-1.2zM786.1 202.5l2 .2 .8 1.1-2.8 1.7-1-.1-.6-.6 0-1zM670.1 203.4l1-.4 .9 .8 .1 2-2-1zM656.1 203.9l.3 1.9-.3 .7-1 0-.2-.7zM682.1 205.2l1 .1 1 1 .2 1.5-2.2 .6-3 .1-2 .9-.4-.6 .3-1 1.1-1.4 3-.3zM695.1 205.3l.9 .5-.9 2.3-1 .1 0-1.1zM768.1 205.7l.5 1.1-.5 .5-.4-.5zM721.1 206.7l1.5 1.1-1.5 .9-.8-.9zM784.1 207.7l1.1 1.1-1.1 .6-1-.1 0-1.5zM656.1 209.5l.7 1.3-.7 1-.5-1zM704.1 209.6l0 .4zM725.1 209.4l1-.2 .4 .6-.5 1 1.5 3-.4 2.3-1-.3-1.2-2zM746.1 209l3.5 1.8 .9 2-.4 1-1 0-2-2.8-1.9-1.2zM759.1 208.9l.7 .9-.7 1.2-1-1.2zM671.1 210.4l1-.2 1.3 .6 0 4-1.3 .9-2-.9-.5-1zM754.1 210.7l0 .5zM649.1 211.1l.3 .7-.8 .3 0-1zM768.1 213.8l0 .7zM795.1 213.5l1-.2 .4 .5 1.1 3 .1 1-.6 1.1-1-.1-1.1-1-.6-3zM662.1 215.7l1.1 .1-.1 1.5-1 .3-.5-.8zM704.1 215.5l.7 .3-.7 .9zM765.1 214.9l1.5 .9-1.5 .5-.4-.5zM711.1 218.4l1 .1 .6 1.3-.6 2.3-1-.6zM750.1 218.6l4 2 0 .5-1 .4-1-.5-1 .8-.7 1.5-5.5 0 .9-3.5 1.3-.9zM683.1 219.6l1.4 1.2-.9 1-1.5 .5-.7-.5 .1-1 .6-.8zM722.1 219.7l1.3 1.1-.2 1-1.4 0-.5-1zM657.1 220.1l1.6 .7 .1 1-.7 .8-1-.7zM653.1 222.7l.6 .1 0 .5-1.1 0 0-.5z"/>
<path fill="#8cc63f" fill-rule="evenodd" d="M678.1 70.3l2.7 0 0 .5-.7 1.2-1-.1-1.3-1.1zM686.1 70.3l2.1 0 0 .5-1.1 .4-1.8-.4 0-.5zM692.1 74.4l.6 .4-.6 .9-.7-.9zM692.1 79.6l1 .2 1 2.7 1.9 1.3-.9 .9-3-.3-1.4-.6-.3-1zM652.1 80.5l0 .5-.3-.2zM715.1 80l.9 1.8-.9 1.3-1-.3zM785.1 82l2.5 .8 .1 1-1.6 .5-1-.5-.5-1zM671.1 83.4l.7 .4-.7 .2zM688.1 86.2l4 .8 .4 .8-1.4 1.3-3-.9-.7-.4zM755.1 86.4l.3 1.4-1.3 .3 0-.7zM791.1 86.7l.4 .1-.4 .3zM714.1 87.2l2.5 .6 .6 1-1.1 1.5-1 0-1.4-1.5-.3-1zM750.1 87.6l0 .4-.3-.2zM682.1 88.6l1.4 .2 0 1-1.2 0zM751.1 89.8l1-.7 1 .1 .1 .6-1.1 1.9-1 .2-.4-1.1zM650.1 90.6l1-.4 .9 .6 0 1-1.9 0zM664.1 90.4l1-.3 1 1.3 .4 1.4-.4 1.4-1 .2-1-1-.3-1.6zM671.1 92.4l1.8 .4-.8 .8-1-.2zM713.1 93.7l0 .7-.7-.6zM675.1 98.8l0 .4zM676.1 99.4l.2 .4-1 0zM670.1 100.7l1 0 1 .7 0 1.4-5 1.8-.7-.8 .7-1.6zM686.1 101.6l1.3 .2 .4 1-.7 1.3-1 .2-.9-1.5zM750.1 102.7l1-.7 .7 1.8 0 1-.7 .9-1.2-.9zM653.1 104.6l1-.5 2 .4 1 1.3-.4 1-.6 .5-1-.5zM677.1 106.4l1.6 1.4-.2 1-1.4 1.4-1 .2-.2-2.6 .3-1zM745.1 112.8l1.1 0-2.1 2.9-.2-1.9zM766.1 115.6l1 .2-.6 1-1.4 .1zM680.1 118.8l2.7 2 .3 1-2 .4-1-.5-.7-1.9zM794.1 118.6l0 .5-.3-.3zM710.1 119.5l.8 .3-.8 .1zM711.1 119.9l1.2 .9-.2 .2-1.2-.2zM736.1 122.2l1.7 1.6-.6 1-2.1 .2-.4-.2 .4-1.3zM690.1 124l1 1.1 0 1.2-1-.8zM709.1 125.6l1-.6 .8 .8-.8 1-1.5 0zM797.1 130.6l1.5 .9 0 2.5-2.5 1.3-2 2.3-1.1 .2-.8-1 .5-1 2.8-1 .4-1-.4-2zM677.1 131.5l1-.1 1.2 1.4-1.2 1.7-1 .4-.6-1.1zM791.1 132.3l.3 .5-.3 .8-.9-.8zM652.1 133.1l.7 .7-1 0zM780.1 133.1l.8 .7-.8 .5-.4-.5zM729.1 136.4l1.6 .4 .3 1-1.9 .5-1.4-.5 .5-1zM749.1 137.4l2 .2 .1 1.2-1.5 2 0 1-1.6 .3-.9-.3-.4-1zM739.1 138.7l1.2 .1-1.2 1.1zM763.1 138.6l1.1 .2 .5 1-.6 .5-1.5-.5zM781.1 139.7l-1 2.2 0-2.1zM713.1 140.6l1-.5 .7 .7-.7 .7-1-.5zM698.1 143.6l1.2 .2-.2 .4zM724.1 146.8l1.2 0zM778.1 147.2l.7 .6-.7 1.1-.5-1.1zM740.1 148.5l1.5 .3-.5 .7-1 0-.6-.7zM750.1 148.6l.6 .2-.4 1-1.2 .1zM669.1 150.8l3 1 .7 1-.4 1-1.3 .1-1.7-1.1-.6-1zM697.1 151.5l.9 .3-.9 1.2-.4-.2 0-1zM729.1 152.4l3 .4 .2 1-3 0-.6-1zM656.1 153.7l2-.5 1 .3 .7 1.3-.7 .9-1.3 .1-1.9-1zM748.1 154.7l1.6 1.1-1.6 .7-1-.4 0-1.2zM681.1 155.7l.1 1.1-.5 0zM663.1 157.1l.3 .7-.3 1.1zM674.1 158.4l1-.1 .4 .5-1.4 0zM757.1 160.4l1-.2 1 .4 .4 1.2-1.4 .4-1-.4zM677.1 160.9l1.8 .9-.8 1-2 .5 .2-1.5zM771.1 161.3l1 1.1 3 0 1 1-1 3.4-1 .8-2.3-2.8-.1-2-1.3-1zM749.1 167.2l0 .7-.9-.1zM774.1 168l1-.1 .4 .9-.2 1-2.2 1.3-1.4-.3zM776.1 174.2l.6 .6-.9 0zM753.1 175.6l.7 .2 .3 1.1-1 .3-.8-.4zM709.1 178.6l1 .4 .1 .8-1.1 1.9-1 .3-.4-1.2zM675.1 183.7l.1 1.1-1.1 1-.5-1 .5-.9zM752.1 183.9l1-.1 1 .7 .4 1.3-.4 .5-1 .2-1.4-.7-.5-1zM767.1 186.2l1 .6-1 .3zM782.1 186.5l.2 .3-.5 0zM772.1 187.6l1-.6 1 .4 .7 1.4-1.7 1-1-.4-.4-.6zM794.1 188.7l1 .2 1 .9-.1 1-.9 .4-1.2-.4-.4-1zM711.1 188.9l3 .9 1.5 2-3.5 .2-2 2.4-.4-.6 1-2-.3-2zM782.1 192.7l1 .4 .3 .7-.9 0zM659.1 194.6l3.4 1.2-.4 1-2 .6-1.8 1.4-.7 0 .3-3zM724.1 194.4l.7 .4-1 1 0 1-.7 1-1-1zM742.1 198.8l1-.9 1.1 .9-1.1 .6zM777.1 202.6l0 .5zM671.1 203.7l0 .9-.3-.8zM786.1 203.3l1-.3 .5 .8-1.5 1-.5-1zM682.1 206.7l1-.4 .6 .5-.6 1zM678.1 207.5l.6 .3-.6 .2zM672.1 210.7l.8 1.1-.8 3-1.6-1 0-1 .6-1.6zM749.1 211.5l0 1.3-.4-1zM725.1 212.6l1-.4 .5 .6 .6 1-.1 1.4-1 0-.9-1.4zM796.1 215.9l1 1.9-1 .3-.6-1.3zM747.1 219.6l3-.4 1.2 .6-1.8 3.5-3.9 0 .6-2.5zM682.1 220.5l1-.4 1 .7-1 .8-1-.1z"/><rect x="648.6" y="220.5" width="149" height="1.6" fill="#f4eef6"/></g>
</g>
<polyline points="750,70.3 750,151.8 724.5,191" fill="none" stroke="#111" stroke-width="1.35"/>
<rect x="648.6" y="70.3" width="149" height="151.9" fill="none" stroke="#333" stroke-width="1.1"/>
<g fill="#231f20" font-size="11.6" text-anchor="end">
<text x="643.9" y="96.6">200</text>
<text x="643.9" y="128.3">150</text>
<text x="643.9" y="160">100</text>
<text x="643.9" y="191.8">50</text>
<text x="643.9" y="223.7">0</text>
</g>
<g stroke="#1a1a1a" stroke-width="1.1">
<line x1="648.6" y1="92.8" x2="652.6" y2="92.8"/>
<line x1="648.6" y1="124.5" x2="652.6" y2="124.5"/>
<line x1="648.6" y1="156.2" x2="652.6" y2="156.2"/>
<line x1="648.6" y1="188" x2="652.6" y2="188"/>
<line x1="675.9" y1="222.2" x2="675.9" y2="217.6"/>
<line x1="704.2" y1="222.2" x2="704.2" y2="217.6"/>
<line x1="732.4" y1="222.2" x2="732.4" y2="217.6"/>
<line x1="760.6" y1="222.2" x2="760.6" y2="217.6"/>
<line x1="788.8" y1="222.2" x2="788.8" y2="217.6"/>
</g>
<g fill="#231f20" font-size="11.6" text-anchor="middle">
<text x="650" y="237.9">0</text>
<text x="676.2" y="237.9">50</text>
<text x="705.3" y="237.9">100</text>
<text x="733.9" y="237.9">150</text>
<text x="762.8" y="237.9">200</text>
<text x="791.3" y="237.9">250</text>
</g>
<text x="718.5" y="252.8" font-size="12" text-anchor="middle" fill="#231f20"><tspan font-style="italic">X</tspan>/mm</text>
<text transform="translate(624.5,145.6) rotate(-90)" font-size="12" text-anchor="middle" fill="#231f20"><tspan font-style="italic">Y</tspan>/mm</text>
<text x="614.1" y="71.9" font-size="12" fill="#231f20">d.</text>
<clipPath id="cpe"><polygon points="57.4,264.9 206.4,264.9 206.4,349.8 159.6,417.2 57.4,417.2"/></clipPath>
<clipPath id="cre"><rect x="57.4" y="264.9" width="149" height="152.3"/></clipPath>
<mask id="mke" maskUnits="userSpaceOnUse" x="47.4" y="254.9" width="169" height="172.3"><polygon points="51.4,258.9 212.4,258.9 212.4,343.2 211,343.2 155,423.8 51.4,423.2" fill="#fff" filter="url(#mb)"/></mask>
<g clip-path="url(#cre)"><g mask="url(#mke)">
<g filter="url(#bl)"><rect x="57.4" y="264.9" width="149" height="152.3" fill="#d6e0ee"/>
<path fill="#90d8da" fill-rule="evenodd" d="M57.9 264.9l1.2 0-.2 1.3-1.5 .5 0-1.8zM69.9 264.9l13.8 0-.5 1.5 2.3 1-.6 1 0 1.7 2-1.6 2.4-1.1-.6-1 1.2-.8 2.4 1.8-.4 1.1-2-.4-1.7 2.3-.5 2-1.3 1 .3 2-1.3 1-.4 2 1.9 1.5 1-.3 1.2-2.2-.1-1 .9-.2 1.3 3.2 2.7 1 1-.3 1 .3 .8 2 1.2 1 2 .6 1-.4 .7 .8-2.7 1.5-1 .1-1.3 1.4-2.7 .8-.2 1.2-3.1 3-.2 1 .5 .6 1.5 .4-.5 1 1 2 2 1.5 .8-.5-.2-2 .4-.6 1 .8 2.7-.2 .1-5 1.2-.2 3.9-2.8 .1-1.4 1-1.3 .3-2.3-.3-.4-1.1 .4 .9-4 3.2-1.1 1.6 2.1 .4 1.3 3 .4 1.1-1.7 .1-2-.2-.7-1-.7-.9-2.6 .9-.8 2-.6 4 2 5-.3 .8-2.3 1.5-1 1.1-2-.4-2.3-2 .1-.8-.8 .8-.8 1.4-.2 0-.5 3.3 0 .3 1 1 0 .7-1 7.9 0 0 .5-2.6 1.1-1 3.3-4 .6-1.9 2 .5 3 .4 .8 1 .4 3-2.3 3 .7 1 2.2 2-1.3 1 .3 2.2-1.8 1.6-3 2.2-1.5 2 .5 1-1.4 1-.2 2-.3 1 1.5 2.3 .4 2.5 2-.3 1 .9 2-.4 .4-1-.4-.7 1 .1 1 1.1 1-.2 2 .7 1.3 .7-1.3-.3-1 .6-.8 1 0-.2 2.8 2.2 2.3 1.4-.3-.9-2 .8-2-.3-.6-2 0-2-.8-.4-1.6 1.4-.4 1-1 1.1 .4 1.2 3 2.7 2.2 1 .1 1.4-1.3 1.6-.5 1.2 1.5 .3 1-1.4 2 2.9 2 .5 1 .7 3-1.4 2 1.2 2 .7-3 2.3-1.9 1-.2 3 1 3-.6 3 2.7 1 1.4 1-.3 2.7-4.1 1.9-2-2.6-2.9-2.4 .9-.6-2.2-1 1.2-2 1 0-1.4 .8-.6-1.8-1.1-3 .7-1 1.1-3 .6-1-.6-.6-.7 .3-1 1.3-1 1.6-3-.6-.7-1-.2-2 1.4-1-.3-.6-2.2-1.8-1-.1-1 1.7-1-.7-2 .5-2-1-.6-1 .5-.8-.9 .8-.6 1 .2 .6-.6-.6-1.5 15.4 0-1 3.5 .6 .7 2-.8 .7 2.1-1.7 .8-2.1-.8-.5 1 1.6 3.4 1.1-.4 .2-1 1.9-1 .8-1.6 4-1.1 1-.7 2.2-2.6-.3-1.5 5.7 0 0 .5-2.1 2 1.5 2.1 1.5 .4 0 5.6-1.5-.8-1.3-2.3-1.8 0 .9 1-.6 2 .7 1 2.4 0 0 1-1.3 2 .3 2-1.5 2 1.2 .8 2.5-1.2 0 17.3-1.5-.4-3-3-2 .1-.5-.6-.5-1 .7-2 1.3-.4 1.9 .4 .9-1-.8-.9-3-1.2-2-.3-1 .9 .2 1.5-.5 1 .9 4-.6 .3-1-.3-1-1.2-2-.3-1.5 .5-.5 2-1-.5-.9 .5 2.9 4.4 1-.3-.4-1.1 1.4-1.5 4 .3 1-.4 2.2 4.6-.1 1 1.7 2 .2 2.2-2-.5-2 .6-2-.8-2 1.7-1.8-.2-.2-1.4-.5 .4-.2 1 .7 .1 1.1 2.9 2.9 2.9 1-.2 1 1.1 0 1.5-.5 .7 1 3 1.6 1 .3 1-.6 5-.8 .9-1 .2-1-.7-3-.3-1.8 .9-1.2 2.6-.4 3.4 .4 1 1-.6 2-3.4 2.7 2 2.3 4.4 2 .5 1-2.3 1.2-.6 1-3-.7-2 2-1.1 0 22.8-2.5 .2-2-.3-1-2.1-1-.7-2 1.7-.3-.5 .3-1.7 2-.7 .3-.6-.3-.7-1.3-.3-.2-1 .5-.5 1 .1 1.2-1.6-1.2-2.4-2-.6 .2-1-.8-1-1.4 .3-1 2-.9 .7 .5 2-1.6 .5-.6-.5 .1-1 1.4-1-.6-2-1.1-1-1.2-.8-1 1.2-2-1.3-2.4 1.9 2.4 3.4 4 2.1 1 2.5-.5 2-1.3 1-1 2 .1 2-.5 2 .5 1 4.7 2.2 2 .3 .3-.5-.5-1-1.3-1-.2-1 .7-.9 2-1.2 3 .4 3-2.1 2.5 0 0 18.1-1.5 .4-4-2-1 .1-.5 .2-.5 1.5-2 .1-2 1.9-1.5 .5-1.5 2-2.2 1 1.3 2 1.9 1.3 1-.1 1-.7 3-3.8 2-1 1.1 .3 .2 1-.5 1 .8 4-.9 1-1.7 .7-2-.1-.4 1.4 .4 1.5-2 .4-1-2.5-1-.1-2-1.7-.4 .4 .6 1 1.6 1-.3 1-1.5 .4-3-.9-1 .5-.2 2-1.1 2-2.7 1.3-.5 .7 .5 1.7 1 .2 .7 1.1 3.9 1 1.4 3.3 1 .2 .6-2.5 1.6-2-.4-3 1.2-1 .4 2 2.6 2.7 1 2.1 1.3-.8 0-2-.7-2-1-1-.6-2.6 3 .4 .8-.8-.8-.7-2 .3-.4-.6 1.1-1 2.3 .9 4 3.6 1.5 .1 0 3.3-.6 .1 .6 .1 0 23.4-17.3 0-.2-1-2.1-.5 .1-1-.9-1-.1-1 2-3 3.9-2-.6-1 .7-.8 2 .4 1 .9 2.3-.5-.2 1-1.4 1-.5 4 .8 3.3 1 0 1.3-3.3 3.2-3 .1-1-2-2 0-1 1.1-1-.4-1-.3-.4-1 .4-.6-2-2.1-2-.3-1-4 .8-1-.5-1 .4-3 .1-2 1.6-1.5 .6-.1 1 .6 .9 3.1 2.1-.3 1-2.8 2-1 1.4-2.7 .6 2.7 3 .5 3.5-13.5 0-.2-2.5 .9-1 .2-1 0-1-1.1-1 0-1 3.2-.7 .4-4.3 .6-.7 1-.1 1 .9 2.6-2.1-2.6-2.8-3-.6-2-1.1-2-.1-1-.6-1.3 8.2-.7 .6-3 .6-1.5 .8 1.4 2 .5 3-2.2 2-.1 2.5-14 0 0-.5 3.9-2.2 2-2.7 1-.5 1 .2 2.9 2.2 1 2 1.4-1-1.2-1 0-1 1.3-1 0-3-3.5-3-2.9-.9-1.3 .9-.7 2.3-2-.1-3 2.2-3 .4-2 1.7-2 .2-.3 .3 1.1 3-.4 1.5-30.6 0-.8-3-2-.5-2 1.3-2-.2-.9 2.4-9 0-.1-.9-.1 .9-11.2 0-.5-1.5-1.1-1 2.9-4-1-.9-1 .9-.1 1-.9 .6-1-.3-1 .7-.1 3-.9 1-1-.4-.7 .4 0 .5-18.8 0 0-3.5 2.5 .6 .7-.6-.1-1-.6-.5-1 .3-1-2.3-.5 0 0-7.7 .5 0 .6-1.8 .4-.5 1 0 1.1 .5 .9 1.3 2-2.6 1 .7 2-.6 1.5 1.2-1.5 1 .2 1 1.8 .8 1.3-.8-.8-1 1.7-4-.2-1.1-1-.7-3 1.2-1.7-.4 0-1 .6-1-.9-1-2 .4-1-2.2-1-.5-3.5 1.2 0-45.9 .5 0 .5 1 1.8 1 1.7 1.7 2 0 .7-.7-.2-2-.5-.6-2-.4-.5-1 1.4-5-2.2-4 .2-1 2.1-1.3 1-.2 2 .5 2-4-1-.4-2 .6 .3-2.2-2.2-2-.4-1 .7-1-.4-.9-2 1.3-2-.3-1.5 .9 0-4.7 1.5-.1 1 1 .2-.2-.2-1.6-1.3-1.4 1.3-1.2 .6 1.2-.1 1 .5 .2 2-.8 1 .2 2-1.4 1 0 1 .6 2-.4 1-.7 1-1.8 1-.5 1 .2 0-1.1-2-.2-.8-2.3 .8-1.6 1-.4-.4-1 1.4-3-.7-2 3-3-.2-1 1.1-1-.2-2.3 4.1-.7 .7-1-2.8-1.5-2 .4-1-.5-2-3.4-1-.6-1.3 1.6 .4 7-1.1 .9-2 .8-3-1.2-2 1.6-3.2-1.1-.3-1 1.4-1 1.1-2.4 1 .3 1.5-.9-.5-2.4-1-.9-2 2-2.1 .3 .8 1-2.3 3-.9 .3 0-7.9 1.5 .1 1.1-.5-1.1-1.8-1.5-.2 2.5-.2 3.7-1.8-.3-2 .6-.6 2-.7 2-1.6 1-.3 1 .6 .4-1.4-1.2-1-1.2 0-.7-1 .5-2-.8-.4-2 1.4-2-1-2 1.6-.9-.6 1.3-3 0-1-1.4-1.8-1 0-.6 .8 .5 2-.9 1.7-.5 0 0-6 2.8-.7 .7-2.4 2 1.9 1-.9 3-.2 1-1.2 1-.4 .3-1.3zM67.8 268.4l.4 0zM64.8 271.4l-1.1 2 .2 1.1 2 .3 2.2-1.4zM77.9 272.4l-.7 1 .4 1 1.3-.6 4 3.6 1.1-2-.1-1.8-2-1.8-2-.1zM152.1 277.4l-.2 1 2.3 3-1.4 2 1.1-.3 .8 1.3-.2 1 1.4 .1 2-1.8 .7-3.3 1.2-1-1.9-1.4-3-.4-2-1zM147.5 279.4l-.7 1-.3 2 .3 1 3.1 .7 .8-2.7-.1-2zM75.4 280.4l-1.5 .3-.9 .7-.7 2 .4 2 4.2 3.5 4 .1 .9-2.6-.3-2-1.6-.6-3-3.8zM139.6 280.4l1.3 1.1 .6-1.1-.6-.8-1-.2zM195.5 280.4l.4 1.1 1 .3 .4-.4 0-1-.4-.3zM88 281.4l.7 2-.6 1 .8 .6 4-.5 1.3-1.1-.3-1.5-1-1.1-1 1.6-1.3 0-1.7-1.7zM123.6 283.4l-1.7 1.5-2 .2 .1 1.3 1.9 .8 3-.6 .4-2.2-1.4-1.3zM139.6 283.4l-1.8 1-.9 2.2-4 3.5-2-.2-1-1-1.2 .5 .1 2 3.1 1.6 1.9 2.4 0 1 1.1 .5 1-.4 1-2.3 5-.3 1-1 1.5-.5-.2-1-3.3-3.5 .7-3.5-.3-1-.4-.3zM68.2 284.4l-.2 1 .9 .7 .4-1.7-.4-.3zM157.8 286.4l-1.1 1 .2 1.5 1.9 2.5 .7 2 .4 .5 1-.1-.1 1.6 1.8 2 .7 5 4.6 2.3 2-1.8 2 1.5 1-.5 .6-.5-.7-2-3.6-2-3.3-3.9-1.2-.1-.1-2-1.2-2 .5-2-.4-1-1.6-1.1-3 .2zM68.6 287.4l-.5 1 .8 .3 0-2zM113.5 287.4l-.6 .9-1-.8-1.2 .9 .2 .7 2-.5 .7 2.8-1.2 1 0 1 1.5 .9 3.8-2.9 .5-3-.3-.6-2-.2-1-.6zM109.2 290.4l.7 .6 .8-.6-.8-.8zM153.8 292.4l-1.9 .4-.5 1.6 .5 2.2-2-.1-.8 .9 1.8 2-.5 1 .5 .3 3-2.8 2-.6 1 .5 .8-1.4 .2-1.1-2-.3-2-1.6 1.3-1zM109.7 293.4l.2 .3zM175.5 294.4l-.7 1 .8 2-.1 1-1.3 1-.2 1 1.9 2.1 1 .2 1.6-1.3 .4-1.9 2.7 3.9-.1 1-1.6 1.2-2.1 2.8-.1 1 1.2 2.4 1 .3 1.1-.7 .5-1-1.2-2 .4-2 1.2-.8 1 1.2 1 .2 .5-.6-2-1 1.1-1 1.4-.4 2.4-4.6 2-2-1.4-2.2-2.9 3.2-1.1-.1-.9-.9-.1-1.4-2-1.7-3 .3-1-1.2zM101.9 295.4l1 .3 .5-.3-.5-.4zM106.4 297.4l-1.5 .7-1-.4-1 .7 1 1.2 1-.2 .7 1-.3 1 .6 1.6 1.5-3.6 1.8-1-1.5-1zM110.6 297.4l.3 .5 .8-.5zM139.4 300.4l-3 2 1.3 1 0 1-1.4 2 .1 1 .5 .9 2 .6 1 1 2-.4 1 .4 1 1.4 2 .5 .9 1.6-.1 2 1.9 2-.2 1 .4 1 .4 0 .9-1-.7-1 .5-2-2-.3-.7-.7-.1-1 1.8-.7 2.1 .7 .2-1-1.5-2 3-3-1.1-1-.4-1 .4-1-.7-1-3 1.2-.5 1.8-1 1 .8 1 .1 2-.9 0-.3-1-4.1-3-.7-2-1.4-1 .7-3-.7-.4zM148.2 300.4l1.5 0zM121.4 301.4l-1.5 1.9-1 .1 .6 2-.6 .9-1.1 .1 .9 1 2 1 3.2 .6 1-1.5 2-1.3 1-1.8 0-1-2-.4-3-1.9-1-.1zM99.6 302.4l-.1 1 1.4 0-1-1.3zM102.3 304.4l-.2 1 .8 1 4 1.6 1 2.3 1-2 1.1-.9-2.1-1-1-1.4-2-.9-2-.3zM80.7 306.4l-.5 2 .7 .2 3-1.2 0-1.1-3-.2zM92.4 307.4l-.3 2 .8 .5 1-1.3 .2-1.2-1.2-.8zM104.8 309.4l-.5 1 .6 .6 .5-.6zM134.3 309.4l-.1 1 1.7 .5 .6-.5zM158.8 309.4l.3 1 2.8 2.4 1 .4 1.3-.8-.2-1-2.1-2.5-1-.5zM191.3 310.4l0 1 .6 .2 .9-1.2-.9-.4zM72.9 311.4l1 1.4 1.1-1.4-1.1-1zM91 311.4l-.7 1-4.1 2-1.3 3.1-.8 .9 1.8 1.1 2-.5 1.8 .4-.5 1 .9 1 .2 2 .6 .5 .8-1.5 2-2-2.2-1 1.8-2-.6-1 .1-1 1.1-.5 2-.1 .3-.4-2.3-1.4-2-2.5zM110.2 311.4l-1.3 .9-1.3 .1 .4 4 .9 1.3 1 .3 3.8-1.6-.3-2 .4-1-.1-1-.8-.7-1 .1-1-1zM124.3 311.4l.2 3 1.4 1 .4-1-.3-1-1-1 .1-1zM128.6 311.4l-.3 1 1.2 2 2.4 .5 .8 .5 0 1 .7 0 .2-3-.7-.9-3-1.2zM105.7 312.4l.7 0-.5-.5zM171.5 313.4l-1 1 .4 .6 2 0 .5-.6-.5-1.8zM175.8 313.4l1.3 2-.6 2 1.4 1.7 .5 1.3 2.5 .8 2-.1 .3-1.7-1-2-.3-2-1-1-2-.3-2-1.6-1 .1zM169.3 316.4l-1.4 1.4-.1 1.6-2.1 1 .2 2.4-2.9 1.6-.8 1 .7 1-.9 2 1.7 0 .2-1.4 3-1.4 2-2.8 2 .2 .8-.6-1.6-2 .9-2-.8-1-.3-2zM130.7 317.4l-2.5 2 .3 1-.6 .4-.8-.4-.5-1-1.7-.7-4.6 .7 2.6 .7 1.1 2.3-.3 1 2.2 2.7 1-.2 1 1.2 2-.3 2-1.5 3 .4 2 .8 1-.8 3 1.7 2-.2 2 .9 1-2.7-1-.9-1 .2-3.3-1.3-.7-3-4-2.2-1-.3-2 .8-.9-.3-.1-1.5zM93.8 318.4l1.1 .8 .4-.8-.4-.3zM174.3 318.4l.6 1.1 .3-1.1zM195.6 319.4l-.4 2-3.3-.3-.6 .3-.5 1 3.1 1.9 2 .4 1 .6 .6-1.9 1.3-1 .4-1-1.3-1.8-1-.4zM65.3 322.4l-1.7 3 3.3 1.4 3-.2 1-1.5 2-1.7-2-1.7zM96.6 322.4l.3 1.4 1 .6 0-1.4-1-1.5zM120.7 322.4l.2 1.4 .2-1.4zM184.3 322.4l-1.8 2-.1 2 1.5 .9 1 1.4 4-1.1 2-1.2 1.4 0-1.4-2.7-3-.3-2-1.3zM87.9 323.4l-.7 2-1.3 0-1.1 1 2.1 .4 1.6-.4 .6-1 .1-2zM173.8 323.4l.5 0-.4-.3zM92.9 324.4l1.3 0zM115.7 325.4l.2 .5 3 .2 2 1.1 1-.1 .9-.7-1.9-1.9-4 .8-1-.6zM171.6 325.4l0 1 2.3 1-1.7 2-.2 1 .3 1 1.7 1-.8 2 .7 .7 3 .5-.2-2.2 1.2-.3 .2-.7-1-2-.8-5-1.4-1zM96.7 326.4l.2 .4zM100.8 328.4l-.9 .7-2 .1-1.3 1.2 1.3 1.7 2 1.3-.9 4 .1 2-1.3 1 1.1 .6 1-1.1 4 1.5 .8 2 1.3 1 .9 2.1 1 .7 1-.5 .8 .7-1.8 .2-1 .6-3 3-1 2.5-2 2.5-1 2.3-1.9 1.9-.5 2-1.5 2 .9 1.1 4 2.1 2 2 .6-.2-1-2 1.9 0 .6 1-1 1 .3 3-1.6 2 1.2 .4 1 1 1-1.1 1-.3 2 .5 .7 .5-1.9 2 .9 1 3.3 1.7 .7-.7 .3-4.3 2-.4 1 .3 3-1.1 1-.6 .5-1.9 2.2-1-.7-1.9-1.6 .9-.4 1.2-1 .6-2 0-.9-.8 1-1-.2-5 1.4-3-.4-1 .1-3-1.4-2 .1-1 1.3-1.8 1.6-.2-.6-1-2-.4-1 .7-2-.7-2.2-1.6-.4-1 .6-1 .6-3-1.9-4-.1-1 .7-1-.3-.9-1 .7-1 0-.8-.8 .1-1 .7-.3 1-.2 .8 .5 .2 .9 2-1.5 1.1 1.6 2.9 .8 .7-.8 0-1-1.2-1-.5-1.8-3 1-2-1.1-2-.4-.8-.7-.2-2.4-3-2.3-2-.1zM126.3 328.4l-1.4 .7-1-.6-1 0-1 .9-1-.6-1 .1-.4 .5 1.4 1.3 .9 1.7 5.1 4.8 1-.1 1.4-1.7-.2-3-.3-1-1.4-1 0-2-.5-.6zM151.4 331.4l0 1-1.5 2-2 1.2-3-2.5-1-.2-1 .6-1-1.2-3-.1-1.5 1.2 0 1 .7 1 1.8 .4 2 1.2 3 .1 2.4 2.3-.4 1.5-1-.1-.9 2.6 1.6 2 1.7 1 .3 2 1.3 .3 2.3 2.7-2.8 4 .2 1 1.3 1.2 .4-3.2 1.6-1.7 1 1.2 1 .2 .6-.7-.6-1.8-1.3-1.2 1.3-.8 1.6-2.2-1.6-2.2-1 .9-1-.3-1.2-1.4 1-2-1.4-2 .5-1-.9-2 0-1.6 1-.2 2 1.4 1 0 .6-.6-1.5-1 .9-.6 4 .7 1 .3 1.4 1.6 1 4 1.6 .4 1.7-.4 .9-1-.6-2-3.3-1 1.1-2-.8-1-1.1 0-.9 1.2-8-4.9-1-.2zM86.8 334.4l-1 1 .5 2-.5 2 .5 2 2.2 2-.6 1.6-1 .5-2-.1-1-1-.8-2 .2-2-2.3-1 1.4-1 .5-1-2-.2-.5 1.2 .4 1-1.2 2-2.1 1-.5 1 .5 1-.6 .7-1-.1-1 2.6-3.6 2.8 2.6 1.5 1 2.6 2 1 1 0 2-.5 1.5-2.6 .6-3-1.1-.7 0-.6 1-.7 2 1.3 3-.1 1.6 1.8-.1 1-.5 1.2-2-.6-.6 .4 .3 1 1.1 1 .8 3 .4 .4 1-.9 2 1.8 1-.7 .5-1.6 1.5-1.2 1-3 2-.3 .3-.5 .2-3-.5-1.8-2 .3-1-1.1-1-.1-1 1.5-2-.2-.5-1.6 1.2-1 0-1 3.2-2 .7-3-1.5-2-1.1-.7-2-.5-2-1.6zM188.7 337.4l.2 1.8 .5-.8-.2-1zM68.7 340.4l-.8 1.3-2 .4-.4 1.3 2.4 1.4 1 .2 3-1.6 .1-1-.9-1 .2-1-.4-1zM117.3 340.4l.6 .3 .5-.3-.5-.7zM171.7 340.4l1.2 .4 .3-.4-.3-.5-1 .1zM94.3 341.4l.8 0zM173.4 342.4l.5 1.5 1 0 1-.4 .7-1.1-.7-1-2 .2zM134.8 343.4l-3.1 4 2.7 2 .2 1-.6 2-2.1 1.5-1 1.5 0 2.4 2 2.1 1-.1 2-1.6 2 .5 2-1.7 1 .1 2 3.7 2-.2 .5-1.2-2.9-2-.4-1 1.4-2 0-2-.6-1.7-1-1.5-2 .3-2 1.7-1.9-.8-.6-1 .5-.8 2.1-1.2-2.1-3.8zM118.8 344.4l1.1 .9 .8-.9-1.8-.5zM160.5 345.4l.9 4-.5 1 0 2.2 1 0 3 1.3 1.1-1.5-1-2 .5-5-.6-.7-2 1.9-2-2zM172.5 349.4l.4 1.1 .1-1.1zM66.2 350.4l-1 1 .7 .7 2.3 .3-.3-1.5-1-.7zM121.7 350.4l.2 .5 0-1zM179.7 351.4l-2.1 1-.3 2-.9 1-.1 1 .9 0 .7-.9 2.1-.1 .2 1-1.7 2 .9 1 2.5-.1 2 .6 1.9-.5 .1-2-1.3-1-.7-1.8-1-.6-1 .1-.7-.7 .6-2-.9-.7zM121 355.4l.9 .5 .6-.5-.6-.4zM161.7 355.4l.1 3 2.1 0 .9-1-.7-2-2.2-.7zM173.8 355.4l1.1 .6 .7-.6-.7-.7zM78.1 357.4l.8 .8 1-.8-1-.5zM174.2 358.4l-2.3 .5-1.4 1.5 .5 1 1.9 .9 2.4 2.1-.5 1 .6 2 2.5 1.3 .1-1.3 2.4-1-1.2-2 .8-2-1.1-1.3-2 .3-.9-1-1.1-2.9zM164.3 359.4l1.5 1 .1 1-1.2 1 .2 2.5-1.7 1.5 .6 1-4.5 3-.5 2-1.2 1 .3 1 2 .3 2 1.8 5 0 .9 .9 1.1 .3 2-.3 2 2 1 2.7 2-.8 .9-.9 .3-1 .8-.3 3 .6 1 1.3 2 .4 1.1-2-.3-3-1.8-1-2-.1-1.1-.9 .5-2-.4-.2-1-.4-1.1 .6 .5 2-1.4 1.8-5-.3-2-1.1-1 .1-1.9-2.5 1-5-.3-5 .6-2-1.4-.5-1-.9-1-.1zM203.8 359.4l-1.1 3-1 1 0 1 1.2 1.2 2.8 .8 .1-1-.7-1 1.6-2zM62.8 360.4l.1 2.6 1 .8 1.6-.4-.6-1-1-.2-.8-.8 .2-1zM77.8 360.4l-.6 1 1.7 .2 0-.7zM119.7 360.4l.5 0zM151.3 360.4l.6 1.4 1-.3 0-1.6zM141.9 361.4l-.6 1 .6 .8 1.1-.8zM156.3 361.4l-2.4 2.8-1 .2-2-1.6-.8 .6-.2 3-3 1.9-1-1-1 1.1 2 .1-.3 2.9 .3 1 3 3 2 1 .5-2-1.4-2 .2-1 5.2-3 .8-2 1.7-1.6-.7-1.4-.3-2.6zM121.2 362.4l.7 .9 .8-.9-.8-.7zM74.6 363.4l-1.7 3.7-2 1.8-3.2 1.5-1.6 3 .1 1 1 1-.3 1.3-3 .8-.4 .9 .1 1 1.6 2 .7 .4 1-1.3 4 4.2 1-.5 1.3-2.8 1.7-1.7-.6-1.3 .3-1 1.3-.7 2 1.2 1-.2 .5-1.3-.7-1 1.1-1-.2-1-1-1-.1-1 2.3-3-1.4-1 1.2-1-.3-1-3.4-1.7-1-1.2zM145.2 363.4l.7 2.5 1 0 .3-2.5-.3-.5-1-.5zM62.2 364.4l.7 1.1 .1-1.1zM135.7 364.4l-1.8 1.1-3 0-1.8 1.9 0 1 1.8 2 2-.4 .4 .4-3.4 4 3 3.1 1 .3 1-.8 2 .7 3-.7 2.3-2.6 .1-1-1.9-2-.2-1-1.7-2 .4-1 2.2 0-1.2-.4-.2-.6 .5-1-.6-1-.7-.5-1 .3-1 .9zM195.3 364.4l-.3 2 1 1 1.9 .8 1.7-3.8-.7-.4-1 1.2-1-.2-1-1zM119.9 365.4l1 .5 .8-.5-.8-.8zM81.6 366.4l.5 0zM122.7 367.4l.2 .9 .8-.9-.8-.4zM81.2 368.4l-.2 1 .9 .8 4.3 .2 .2-1-1.5-1.4-1-.4-1 .8zM142.5 369.4l.4 .5 .4-.5zM90.1 370.4l-1.8 1-2.1 4 .7 .5 3.7-.5 .2-1 1.5-2 .2-1-.6-1.3-1-.2zM186.7 370.4l.2 1.8 1 1.1 1-1 .1-1.9-1.1-.5zM175.8 371.4l.1 .3zM122.7 376.4l.2 .4 0-.7zM126.2 376.4l-1.6 1-.6 2 1.9 .6 1.7-1.6-.2-2zM89.5 377.4l-.7 1 1.1 .7 .7-.7 0-1-.7-.4zM128.5 377.4l-.2 1 1.6 .8 .5-.8-.5-1zM97.6 378.4l-1.7 2 .1 2-1.7 0 .2-1-.6-1.1-1 1.1 0 1 .7 1-.2 2-2.5 1.9-2 .1 1 .5 1-.3 1.3 .8-2 3 1.6 3 1.1 .4 1-.2 .4-2.2 .6-.7 2 0 2-1.1 .8 .8-1.8 1 2 1.1 2.5-1.1 .5-1-.8-3 0-2-1.3-4 .1-1.2 1.5-.8-.4-1-1.1-1.4-1-.4zM145.7 378.4l.2 1 1 .4 .9-.4-.9-1.6-1 .1zM151.8 378.4l-.4 2-1 1-.5 1.6-.7 .4 1.7 2 .2 2-.9 2 1.3 0 1.4-1.7 1-.1 1 .9 1-.8 1 .3 1-.4 1 .9 3 .7 1 1.3 .8-.1 .1-1-.7-1-.2-2.4-2 .1-1-1.2-2 2-1-3.1-2-.3-2.4-2.1-.4-1 .3-1zM148.2 379.4l.7 1.3 0-1.5zM135.7 380.4l-1.3 2 .5 1 1.3-1 .6-2zM61.7 381.4l-.8 2.1 1.2-.1 0-2zM113.9 383.4l-.5 3 1 1-1.5 1.7 0 1.3-1 .9-1-.2-2-1.7-3.7 3 0 1 .7 1.1 2 1.5 1-.3 .7-1.3 1.3-.5 1-1.4 1-.3 0-1.8 3-2.6 .2-3.4-1.2-1.5zM173.4 383.4l-.5 2.4-1.6 1.6 1.5 1-1.9 .5-2 2-1-.2-1-1.1-1-.1-.8 .9 1.6 2-.8 1.3-1-.2-1 .6 0 .6 5.2-.3 1.8 1.3 1-.8 3 1.5 4-.2 1.7-.8 0-1-1-2 .5-1-.3-1-1.5-3 .2-2-3.6-2.6-1-.4zM133 384.4l-.4 1 .3 .6 1-.3 .5-1.3-.5-.8zM106.6 385.4l.3 2.1 2 1.8 .4-1.9-2.4-2.2zM129.8 386.4l.1 .7 .6-.7-.6-1zM84.4 387.4l.3 1-1.5 3 .7 1.1 2-1.7 2.1-.4 .2-1-.1-1-2.2-.6-1-1.3zM73.4 388.4l-1.5 1.9-3 1.1 .2 1 1.8 1.9 1-.4 3 .5 3-1 0-3-.5-1-1.5-.9-2-.4zM119.7 388.4l-.5 1 .2 1 1.5 1.9 1 .4 0-4.3-1-.3zM144.1 388.4l-.8 1 .3 1 2.3 3.3 3 .2 1.7-.5-1-4-1.7-1.4-2-.5zM181.4 389.4l.5 .3 .3-.3zM61.7 390.4l.2 2.6 .5-2.6-.5-.5zM160.5 393.4l-1.1 1 .1 1 1.4 .6 1-.1 0-1.5-1-1.2zM151.3 394.4l1.2 1 .7 0-1.3-1.6zM155.1 394.4l-.6 1 .8 1 .1 1 .5 .6 1 0 .6-.6 .4-2-1.4-1zM68.4 395.4l1.5 1.3 .5-1.3-.5-.7zM137.5 395.4l.6 1 0-1-.2-.4zM100.8 396.4l-1.2 1 .2 2-5.9 2.6-.5 1.4 1.3 4-2.1 1 1.6 2-1.8 2-.3 2 2.2 1-.2 2 .8 .5 .3-.5 1.7-.5 1-2 2 1 .7-.5 .3-3-2-2.7-1.6-1.3 .2-3-.8-2 1.2-.7 2 .2 1-.4 2.3-3.1-1.3-2.8zM114.5 396.4l-.2 2 .6 3-1 3 1 .7 1-.1 2-1.8 1 .2 2 1.8 3.3-.8 .4 2 1.8-1-1-1-.9-2 2.3-1-.9-3.6-1 .8-1 2.8-1 .7-4-1.8-2-4.4-1-.3zM121.1 396.4l2 0-1.2-.7zM111.8 397.4l.1 .5 .3-.5zM139.9 398.4l-1.2 2-.2 1 .4 .8 3.2-1.8-.2-1.1-1-.9-1-.3zM202.7 401.4l-.5 2 .7 .5 1-.3 1.5-2.2-.5-.8zM78.9 402.4l.6 1-.6 .1-.1 1.9 1.1 .7 1-1.3 1-.5 1 1.1 1-2-1-1.4-1-.2-1 .2-1-.4zM144.8 403.4l1.1 .6 .4-.6-.4-.7zM126.5 404.4l.4 .4 .4-.4zM130.2 408.4l-1.4 1 1.1 1.1 2.3 .9 .2 2-1.2 2 1.7 .7 1.1-1.7 .9-.8 1.3-.2 .2-1-1.2-4-.3-.6-1.4 .6-.9 0-.7-.6zM102.8 410.4l-.3 3 1.4 .7 1-.7 1-3-1-.9zM172.2 413.4l.1 1 1.8 0-1.2-1.8zM119.2 416.4l.7 1.1 .4-1.1-.4-.5zM98.9 264.9l6.5 0-.1 1.5 .6 .7 .7-2.2 7.4 0-1.5 2.5 1.6 2 0 1-1.2 .3-.1-1.3-.9-1.6-2-.6-2 1.2-1.1 2 1.1 1.4 0 2.5-4 1.5-1-.2-2-.8-.8-1.4-.2-2.1-1 .7-1.4 3.4-.6 .3-1-1-1.7-.3-.6-1 .5-2 1.8-2.4 1.9-1.6-.3-1 .5-1.5zM122.9 264.9l.8 0 0 .5-.2 1-.6 .3-.6-.3-.3-1 0-.5zM153.9 264.9l.3 .5-1.4 2-.9 .3-.3-1.3 1.3-.6 .4-.9zM169.9 264.9l5 0 0 .5-2 .9-.3 1.1-1.3 1 0 1-1.4 .5-.4-.5 .5-2-1.4-1 .5-1.5zM136.9 271l.3 1.4-.3 .3-.4-1.3zM57.9 283.7l.9 .7 .2 1-1.6 .7 0-2.4zM94.9 295.3l.6 .1-.6 .4-.4-.4zM179.9 297.6l.4 .8-.4 .8-.8-.8zM73.9 300.3l1.5 .1zM70.9 302l1 .4-1 .7-.5-.7zM57.9 306.4l4.5 2 .3 3-.8 2.4-2 .3 0 1.3-2 2-.5 0 0-11zM206.9 310.1l.5 0 0 2.5-1.5 .9-1-.2-.9-.9 .4-1 .5-.8 1 .1zM206.9 322l.5 0 0 3.7-1.5-.1 0-2.2 .3-1zM127.9 323.4l0 1.4-.5-1.4zM162.9 350.9l.5 .5-.5 .5-.7-.5zM109.9 356.2l.4 .2-.4 .2zM106.9 361.2l1-.5 1 .5 .2 1.2-.4 2-.8 1.1-1 .3-.9-2.4zM203.9 361.5l1.2 .9-1.2 1.4-.8-1.4zM76.9 365.1l1.9 2.3-.9 .4-1.3-.4-.5-1zM110.9 364.7l1 .6 0 1.3-1.3-.2zM137.9 365.3l.6 1.1-.6 .5-.4-.5zM176.9 365.4l.3 1-.3 .7-.4-.7zM113.9 367.3l.4 1.1-1.4 1.2-.5-1.2 .5-.8zM164.9 370.2l0 .5zM197.9 375.2l1-.6 .5 .8-.5 .6-1-.3zM68.9 376.8l1 .8 2-.2 .2 1-1.2 .7-1.6-.7-1.1-1zM206.9 378.7l.5 0 0 10.1-.9-.4-1.1-2 0-1 1-1-.2-2-.7-1zM176.9 391.2l1 0 0 .8-2 2.5 0-1.6zM95.9 411l0 .5z"/><rect x="57.4" y="264.9" width="149" height="152.3" fill="url(#mesh)"/><rect x="57.4" y="264.9" width="149" height="152.3" fill="#fff" filter="url(#spk)"/><rect x="57.4" y="264.9" width="149" height="152.3" fill="none"/>
<path fill="#6cc866" filter="url(#soft)" fill-rule="evenodd" d="M74.9 264.9l1.6 0 .2 2.5 .8 1 3.4 2.2 .7 1.8-.7 1-1-.1-3.9-2.9-.6-3-1.1-2 0-.5zM97.9 264.9l5.1 0-1.3 2.5-.8 3.5-1 .2-3.3-2.7 .8-3.5zM127.9 264.9l1.1 0 0 .5-1.1 .1zM144.9 264.9l1 0 .3 1.5-.3 1.6-1-.1-.4-.5-.2-1zM63.9 267.3l1.4 .1 0 1-1 2-.1 4-1.3 .7-1.1-.7-.5-2 1.4-2zM204.9 267.3l2.5-.3 0 4.4-1.5 0-1.2-1-.3-1zM84.9 269.3l1-.3 .6 .4-.4 1-1.2 0zM184.9 270.3l0 .4-.5-.3zM113.9 271.1l1.2 .3-.2 1.7-1.1-.7zM121.9 270.8l4 .8 .6 .8-1.1 2-.5 5.3-2-.8-1.3-1.5-.8-5 .3-1zM185.9 271.1l2 .1 1 1.2-2 .2-1.3-1.2zM68.9 274.9l2-.1 1 1 1 3.2 3.6 1.4 1.3 1-.6 1-5.3 3.4-1 .2-1-1-.7-4.6-2-3 .1-1zM170.9 276.3l1-.2 1 .5 1.3 1.8-.5 1-1.8 .7-1.7-.7-.4-1zM178.9 276.1l1 .4 .5 1.9-.6 1-1.9 .5-.9-.5-.4-1 1.3-1.9zM160.9 280.4l1.1 0 .3 2-.4 1.4-1-.1-.8-1.3zM195.9 281.2l1.2 .2 .9 1-.2 1-1.9 3.1-1 .7-1 0-.6-1.8 .2-1 1-2zM121.9 282.4l1.4 0 .7 1-.5 2-1.6 .7-1-.4-.2-1.3 .2-1.1zM146.9 284.3l2 .9 2.7 2.2 .6 1-.6 1-1.7 .6-2-.7-1-1.5-.7-2.4zM182.9 286.1l2 .2 .6 1.1-2.6-.3-.4-.7zM78.9 288.8l4 .6 .5 2-.5 1.6-1 .1-1-.6-2.2-3.1zM107.9 289l1.3 .4-.3 .5-1-.2-.4-.3zM114.9 289.3l.4 .1-.4 .4-.4-.4zM58.9 292.3l1.4 .1 .7 1-1.1 1.3-1 .1-.3-.4-.3-1zM125.9 292.9l1 .1 0 .4-1 .9-.5-.9zM124.9 299.4l.8 1-.5 2-1.3 .6-1-.3-.4-1.3zM111.9 300.3l1-.7 2 .2 1 1.6-.4 1-2.6 1.9-4 .5zM134.9 300.3l2.4 .1 .9 1-.4 1-2.2 2-1.7 2.4-1 .2-3-.8-1 .2-3 2.8-1.1 .2-.7-1 .8-2.6 1-.8 1 0 1.4 .4 .6 1 .4-1 3.4-4zM73.9 302.3l3 .6 1.2 1.5-.5 1-1.7 1.2-3 1.3-1 0-1-1.5 .2-1 1.8-2.6zM147.9 304l2-.5 1.2 .9-.9 5-1.3 1.8-1 .5-1-.3-1-1-2.8-3-.3-1 1.1-.9 2 .2zM195.9 304.2l1 .2 3.2 2 .8 1-.1 1-.9 .8-2-.6-2.6-3.2zM107.9 305.2l.7 .2 .6 3-.2 1-2.1 1.4-2 .5-.6-.9 .9-3zM177.9 307.1l2-.1 .8 1.4-.2 1-1.6 1.3-2 .2-1-.9-.1-1.6zM206.9 307.9l.5 0 0 2.2-.7 .3-.8 2-1 .7-1-.5-.1-1.2 2.1-2.9zM161.9 313.3l1-.8 1 .3 2.9 3.6 .4 1-2.3 2.1-1 .1-1.7-2.2zM118.9 315.9l1-.2 3 3.5 2 .6 0 1.6-1 .2-4-1.2-2.7-2-.1-1zM58.9 317.1l1.2 .3 0 2-1.2 .9-1.5 .4 0-2.8zM96.9 317.1l1-.1 1.1 1.4-1.1 1.6-1-.2-.7-1.4zM113.9 317.2l1-.3 1.5 .5 .4 1-.8 3-2.1 1.7-2 .4-1-.3-1-.8-.5-2zM130.9 322l1-.6 1.6 1 .7 1-.3 1.5-3 .6-3 1.4-1.4-.5 .4-1.7 3-1.1zM102.9 324.2l1-.3 1 .6 .3 .9-.3 1.2-1 .4-3.1-.6-.5-1zM178.9 328.2l1.2 1.2-.2 1-1 1-1 .1-.7-1.1 0-1 .7-1zM204.9 328.3l2.5-.1 0 3.1-.5 0-1.8-1.9zM151.9 329.1l.3 .3-.3 1.3zM192.9 329.3l2-.6 .9 1.7-.5 5-.4 1.1-1 .5-3-3.7-2.5-.9 .1-1 2.4-.5zM115.9 330.2l3.4 1.2 .2 1-2.6 1.2-3-.6-.4-.6 .4-1zM102.9 331.1l1-.5 2 .2 1.2 .6 .4 1-.1 1-1.5 1-2-.7-1.3-1.3zM88.9 335.2l1 .3 1 .9 .7 2 0 1-.7 .9-1 .3-1-.3-1.4-1.9 0-2 .4-.7zM148.9 335.1l1-.2 .5 .5-.5 3-1 .7-1.4-1.7-.1-1zM129.9 337.8l2 .2 1.6 1.4-1 1-3.6 1.5-.6-.5 .2-2zM139.9 338.1l2-.5 .6 .8-.1 3-2.5 3.2-2 .6-.6-.8 .1-4 .5-1zM149.9 341.2l1 1.4 0 1.6-1.3-.8zM97.9 343l2-.4 1 .6 2 4.1 3 1.5 1.4-.4 1.2-4 1.4-1 2.7 1 1 2-.7 1.4-3.7 2.6-.6 2-.7 .8-1 .2-2.3-1-1.7-2.4-4-1.1-2-1.4-.5-2.1 .5-1.5zM82.9 345.8l2.3 .6 .9 2-.2 1.5-2-.3-1.5-1.2-.3-2zM173.9 348.9l1-.2 1.9 2.7 3.1 2 .7 2-.7 1.7-2 .4-2.8-1.1-1-1-.1-3-.7-2zM115.9 350.3l2-.4 2 .4 1.1 2.1-1 1-1.1 .4-3 .6-1-.2-.5-.8 .1-1zM74.9 351.2l1 .2 .4 1-.4 1.2-1-.6zM159.9 350.9l3 2.2 2-1.1 2 .1 1 .8 0 1.5-3 1.9-2 .4-3-2.1-.9-1.2-.1-1.9zM95.9 352.3l3 .7 .1 .4-7.1 3.4-2.4-.4 0-1 3.4-.5 2-2.3zM206.9 355l.5 0 0 2.5-.7-.1-.8-1zM61.9 358l1-.2 .5 .6-1.5 .4-.4-.4zM99.9 358.3l1.2 1.1 .3 1-.5 .8-1.5-.8-.3-1zM67.9 360.1l1-.4 .3 .7-.3 1.3-1-.7zM107.9 359.9l2.2 .5 1 1-.3 1-2.6 2-1.3 1.7-1 .5 0-4.2zM73.9 362.2l1.2 .2 .3 1-.5 1.1-1-.1-1.3-1zM113.9 361.8l2 .2 1 .7 1.7 3.7-.7 1.2-1 .3-1-.8-.5-1.7-2-2-.4-1zM134.9 367.3l.6 .1-.6 .2zM176.9 366.9l1 .5 .5 2-.7 2-1.8 .9-.7-.9 .1-2 .6-1.7zM162.9 367.9l1.1 .5-1.1 .9-.4-.9zM59.9 368.9l2-.3 .2 .8-2.2 3.6-1-.1-.2-2.5zM78.9 369.3l1 .1 1 .8 0 1.4-1 .4-1.5-.6-.4-1zM203.9 369.8l3.5-.3 0 6.1-1.5 1-1 3.3-1 .3-2-.7-.2-1.1 1.1-3-.9-3 1-2zM158.9 371.1l1-.4 1.1 .7-3.8 6-2.3 1.1-1.9-1.1-1.1-1.8 0-1.2 1-.3 2 .4 2-.4zM110.9 373.4l3-.4 2.7 1.4-3.4 4-1.3 .6-1-.4-.5-1.2zM64.9 379.2l1-.5 .5 .7-1.5 .3-.3-.3zM80.9 380.1l2-.1 3 1.1 3 .3 .3 1-2.3 2.3-2 .2-3.8-2.5-.5-1zM72.9 382l1.5 .4 2 3-.5 1.7-1 .6-2 .2-1.4-.5 0-2zM115.9 382.8l1-.2 1.4 .8 1 2-.4 1.4-1 .3-2.2-1.7-.4-1 0-1zM148.9 383.2l2-.6 2.6 .8-.2 1-3.4 4.8-1.4-1.8-.9-2 .1-1zM137.9 386.1l1-.3 1 .3 1.8 1.3 .4 1-1.2 1.2-2 .2-1.3-2.4zM205.9 386.3l1.5-.5 0 3.5-3.5 .9-.6-.8 .6-2zM124.9 391.2l1.1 .2 .6 1-.7 1.1-1 .1-.9-1.2zM107.9 391.6l1 .2 .2 .6-1.2 1.5-.9-.5 .2-1zM100.9 396.1l1-.1 .4 .4 0 1-1.7 0-.1-1zM112.9 398.1l1-.1 .3 .4 .7 3.8 4-.3 1.5 .5-.1 1-4.4 3.6-1-.1-.5-3.5-1.5-1.5-.7-1.5-.2-1zM178.9 398.2l1 .2 .2 1-2.2 .7-.6-.7zM57.9 400.7l1.4 1.7 .7 2 .5 3-.6 1.2-2-3.2-.5 0 0-4.7zM162.9 401l2 0 1.7 1.4-1.7 1.2-3-.1 0-2zM183.9 401.2l1-.3 1.4 .5 2.6 4.4 1 .3 3-1.4 1 .3 .6 1.4-.6 2-2 1.3-4 .6-1.8-.9-2.2-3-1-.5-2 .5-1-.3-.1-.7zM170.9 402.1l1 .2 .6 1.1 .7 2-.3 1.2-1-.5-2-2.7 .1-1zM199.9 402.3l1.8 .1 .7 1-.5 2.3-1 1.3-2-.5-.9-1.1 .2-2zM130.9 407.2l2-.8 1 .2 .4 .8-1.4 .6zM71.9 408l3-.3 3 1.3 2-.7 1 .4 .3 .7-.6 1-2.3 1-1.4 2.1-1 .3-3.5-1.4-1-3 0-1zM115.9 409.3l2.7 1.1 .3 1.5-1 1.1-2 .1-.7-.7 0-2zM201.9 409.1l.7 1.3-.7 .5zM95.9 416.3l1.2 .1-.2 1.3-1 .4zM196.9 417.3l1.1 1.6-2.5 0 .4-1.4zM79.9 418.3l2-.5 1.5 .6 0 .5-3.9 0z"/><g filter="url(#soft)"><ellipse cx="189" cy="367.5" rx="5" ry="2.5" fill="#e86a30" transform="rotate(-45 189 367.5)"/><ellipse cx="197" cy="357" rx="5" ry="3" fill="#9cd050" transform="rotate(-45 197 357)"/><ellipse cx="178" cy="380" rx="4" ry="2.5" fill="#6cc66c" transform="rotate(-45 178 380)"/><ellipse cx="170" cy="398" rx="4" ry="2.5" fill="#6cc66c" transform="rotate(-45 170 398)"/></g></g>
</g></g>
<polyline points="155.8,264.9 155.8,347.7 135,381" fill="none" stroke="#111" stroke-width="1.35"/>
<rect x="57.4" y="264.9" width="149" height="152.3" fill="none" stroke="#333" stroke-width="1.1"/>
<g fill="#231f20" font-size="11.6" text-anchor="end">
<text x="52.7" y="292.6">200</text>
<text x="52.7" y="324.4">150</text>
<text x="52.7" y="356.2">100</text>
<text x="52.7" y="388.1">50</text>
<text x="52.7" y="420.5">0</text>
</g>
<g stroke="#1a1a1a" stroke-width="1.1">
<line x1="57.4" y1="288.8" x2="61.4" y2="288.8"/>
<line x1="57.4" y1="320.6" x2="61.4" y2="320.6"/>
<line x1="57.4" y1="352.4" x2="61.4" y2="352.4"/>
<line x1="57.4" y1="384.3" x2="61.4" y2="384.3"/>
<line x1="84.8" y1="417.2" x2="84.8" y2="412.6"/>
<line x1="113.1" y1="417.2" x2="113.1" y2="412.6"/>
<line x1="141.3" y1="417.2" x2="141.3" y2="412.6"/>
<line x1="169.5" y1="417.2" x2="169.5" y2="412.6"/>
<line x1="197.7" y1="417.2" x2="197.7" y2="412.6"/>
</g>
<g fill="#231f20" font-size="11.6" text-anchor="middle">
<text x="58.3" y="431.9">0</text>
<text x="84.3" y="431.9">50</text>
<text x="113.6" y="431.9">100</text>
<text x="143" y="431.9">150</text>
<text x="172" y="431.9">200</text>
<text x="201.4" y="431.9">250</text>
</g>
<text x="126.9" y="447.1" font-size="12" text-anchor="middle" fill="#231f20"><tspan font-style="italic">X</tspan>/mm</text>
<text transform="translate(32,335.8) rotate(-90)" font-size="12" text-anchor="middle" fill="#231f20"><tspan font-style="italic">Y</tspan>/mm</text>
<text x="23.7" y="264.8" font-size="12" fill="#231f20">e.</text>
<clipPath id="cpf"><polygon points="257.4,264.9 406.4,264.9 406.4,348 356,417.2 257.4,417.2"/></clipPath>
<g clip-path="url(#cpf)">
<path fill="none" stroke="#74508a" stroke-opacity="0.82" stroke-width="0.6" stroke-linejoin="round" d="M373.4 297.8l.6-.3-1.1 .4-4.9 4.5-.9 2.1 .2 1.8 1.6 1.8 2.8 .9 4.7-2.5 1.7-.2 1.8 .4 1.3 1.2 .8 2.3 .2 2.4-.8 1.5-1.1 .3-1.5-.9-.7-1.6 .4-1.1 1.1 .2 .3 1.1-.2 .6-.8-.8 .4-.5 .3 .5-.3 .6-.3-.6 .4-.4 .2 .5-.5 .4-.2-.5 .5-.4 .2 .5-.4 .5-.3-.6 .4-.4 .3 .5-.4 .4-.3-.5 .4-.4 .3 .5-.4 .4-.3-.5 .4-.4 .3 .5-.4 .4-.3-.5 .4-.4 .3 .5-.4 .4-.3-.5 .4-.4 .3 .5-.4 .4-.3-.5 .4-.4 .3 .5-.4 .4-.3-.5 .4-.4 .3 .5-.4 .4-.3-.5 .4-.4 .3 .5-.4 .4-.3-.5 .4-.4 .3 .5-.4 .4-.3-.5 .4-.4 .3 .5-.4 .4-.3-.5 .4-.4 .3 .5-.4 .4-.3-.5 .4-.4 .3 .5-.4 .4-.3-.5 .4-.4 .3 .5-.4 .4-.3-.5 .4-.4 .3 .5-.4 .4-.3-.5 .4-.4 .3 .5-.4 .4-.3-.5 .4-.4 .3 .5-.4 .4-.3-.5 .4-.4 .3 .5-.4 .4-.3-.5 .4-.4 .3 .5-.4 .4-.3-.5 .4-.4 .3 .5-.4 .4-.3-.5 .4-.4 .3 .5-.4 .4-.3-.5 .4-.4 .3 .5M315 265.2l2.1 2.9 .6 1.7-.8 2.2-2.1 1.1-4-.9-5.8-3.1-9-.4 .6 0-.6-.2 .6 .2-.5-.4 .5 .3-.1-.5 .2 .5 .1-.6 0 .6 .3-.5-.3 .5 .3-.5-.3 .6 .3-.6-.3 .6 .3-.5-.3 .5 .4-.5-.4 .5 .4-.5-.4 .5 .4-.5-.4 .5 .4-.5-.4 .5 .4-.5-.4 .5 .4-.5-.4 .5 .4-.5-.4 .5 .4-.5-.4 .5 .4-.5-.4 .5 .4-.5-.4 .5 .4-.5-.4 .5 .4-.5-.4 .5 .4-.5-.4 .5 .4-.5-.4 .5 .4-.5-.4 .5 .4-.5-.4 .5 .4-.5-.4 .5 .4-.5-.4 .5 .4-.5-.4 .5 .4-.5-.4 .5 .4-.5-.4 .5 .4-.5-.4 .5 .4-.5-.4 .5 .4-.5-.4 .5 .4-.5-.4 .5 .4-.5-.4 .5 .4-.5-.4 .5 .4-.5-.4 .5 .4-.5-.4 .5 .4-.5-.4 .5M384.2 380l.6-.1-5.9 3-1.9 1.4-1.3 2-1.4 3.9-2.1 2.1-5.7 3.3-.6 0-.3-1.8-.5-.2-.2 .5 .3-.5M355.2 355.8l-.4-1.2-.1 .6-1-1.5-.5-2.2 3.7-2 6.2-4.6 .6 0 .9 .9 1.5 3.2 .6 2.9-.3 .5-.7-.9 .1 .6M259.5 416.9l2.2-2.1 2-1.3 2.8-.9 3.6-.5 1.2 .2 1 .7 1.6 3.8M364.5 275.9l-.2-.6 .2 .6-.2-.6 .2 .6-.2-.6 .2 .6-.2-.6 .2 .6-.2-.6 .2 .6-.2-.6 .2 .6-.2-.6 .2 .6-.2-.6 .2 .6-.2-.6 .2 .6-.2-.6 .2 .6-.2-.6 .2 .6-.2-.6 .2 .6-.2-.6 .2 .6-.2-.6 .2 .6-.2-.6 .2 .6-.2-.6 .2 .6-.2-.6 .2 .6-.2-.6 .2 .6-.2-.6 .2 .6-.2-.6 .2 .6-.2-.6 .2 .6-.2-.6 .2 .6-.2-.6 .2 .6-.2-.6 .2 .6-.2-.6 .2 .6-.2-.6 .2 .6-.2-.6 .2 .6-.2-.6 .2 .6-.2-.6 .2 .6-.2-.6 .2 .6-.2-.6 .2 .6-.2-.6 .2 .6-.2-.6 .2 .6-.2-.6 .2 .6-.2-.6 .2 .6-.2-.6 .2 .6-.2-.6 .2 .6-.2-.6 .2 .6-.2-.6 .2 .6-.2-.6 .2 .6-.2-.6 .2 .6-.2-.6 .2 .6-.2-.6 .2 .6-.2-.6 .1 .6-.1-.6 .1 .6-.1-.6 .1 .6-.1-.6 .1 .6-.1-.6 .1 .6-.1-.6 .1 .6-.1-.6 .1 .6-.1-.6 .1 .6-.1-.6 .1 .6-.1-.6 .1 .6-.1-.6 .1 .6-.1-.6 .1 .6-.1-.6 0 .6 0-.6 0 .6 0-.6-.1 .6 0-.6 0 .6 0-.6-.3 .5 .2-.5 1.1-.5 3-.1 1.5 .8 .6 1.7-.6 .9-4 1.5-1.9 1.4-1.3 2-.2 1.2 .4 .5-.6-.3 .6 .3M331.6 321.5l.1 .6 0-.7 0 .6-1-.6-1.2 0-2.1 1.1-4.7 6.9-.2 1.8 .5 1.7 1.8 2.4 1.5 .9-.5-.3 .6 0-.6 0 .6 0-.6 0 .6-.1-.6 .1 .6-.1-.6 .1 .6-.1-.6 .1 .6-.1-.6 .1 .6-.1-.6 .1 .6-.1-.6 .1 .6-.1-.6 .1 .6-.1-.6 .1 .6-.1-.6 .1 .6-.1-.6 .1 .6-.1-.6 .1 .6-.1-.6 .1 .6-.1-.6 .1 .6-.1-.6 .1 .6-.1-.6 .1 .6-.1-.6 .1 .6-.1-.6 .1 .6-.1-.6 .1 .6-.1-.6 .1 .6-.1-.6 .1 .6-.1-.6 .1 .6-.1-.6 .1 .6-.1-.6 .1 .6-.1-.6 .1 .6-.1-.6 .1 .6-.1-.6 .1 .6-.1-.6 .1 .6-.1-.6 .1 .6-.1-.6 .1 .6-.1-.6 .1 .6-.1-.6 .1 .6-.1-.6 .1 .6-.1-.6 .1 .6-.1-.6 .1 .6-.1-.6 .1 .6-.1-.6 .1 .6-.1-.6 .1 .6-.1-.6 .1 .6-.1-.6 .1 .6-.1-.6 .1 .6-.1-.6 .1 .6-.1-.6 .1 .6-.1-.6 .1 .6-.1-.6 .1 .6-.1-.6 .1 .6-.1-.6 .1 .6-.1-.6 .1 .6-.1-.6 .1 .6-.1-.6 .1 .6-.1-.6 .1M285.2 397.8l.1-.6-.1 .6 .4-.4-1.1 .1-.3 .5 .2 1.2 .7 .9 1.5 1 2.3 .6 3.6 .1 5.8-1.4 4.7 1.1 1.2 0 1.5-.9 .7-1 .1-6.6-.5-1.1-1-.6-1.2-.2-1.1 .5 .3 1.1 .6 .1 .4-.4-.5-.3 .2 .5 .1-.5-.5 .3 .5 .1-.3-.5 0 .6 .4-.4-.6 .1 .6 .1-.5-.3 .3 .5 0-.6-.4 .5 .6-.2-.6-.1 .6 .3-.5-.5 .2 .6 .3-.5-.6 .2 .5 .3-.2-.6-.2 .6 .5-.4-.6 .1 .6 .1-.5-.3 .3 .5 0-.6-.4 .4 .5 .1-.3-.5 0 .6 .4-.5-.6 .2 .5 .3-.2-.6-.2 .5 .5-.2-.6-.1 .6 .2-.5-.3 .3 .5 .1-.6-.5 .4 .5 .1-.3-.5 0 .6 .4-.4-.6 .1 .6 .1-.5-.3 .4 .5-.1-.6-.3 .5 .5-.2-.6-.1 .6 .3-.5-.4 .2 .5 .2-.5-.5 .3 .5 .1-.2-.5-.1 .6 .4-.4-.6 .1 .6 .1-.5-.3 .3 .5 0-.6-.4 .5 .6-.2-.6-.1 .5 .3-.3-.5 .1 .6 .3-.5-.6 .2 .5 .3-.2-.6-.2 .6 .5-.4-.5-.1 .3 .5 .1-.6-.5 .4 .6-.1-.4-.3 0 .6 .4-.5-.6 .2 .6 .1-.5-.3 .4 .5-.2-.6-.2 .5 .5-.2M285 397.8l.5 .4 1.2-.4 .3-1.7-1.6-4.5-2-3.7-5.4-5.6-2.6-3.3-3.5 .5 .6 .1M306.6 336.3l.1-.6-.1 .6 .1-.6-.1 .6 .1-.6-.1 .6 .1-.6-.1 .6 .1-.6-.1 .6 .1-.6-.1 .6 .1-.6-.1 .6 .1-.6-.1 .6 .1-.6-.1 .6 .1-.6-.1 .6 .1-.6-.1 .6 .1-.6-.1 .6 .1-.6-.1 .6 .2-.6-.2 .6 .3-.5-.3 .5 .5-.3-.5 .3-2.4-.1-6.4-1.4-1.7 .3-1.4 1.2-.8 2.8 .5 2.4 .9 .7 5.3 1 .9 .8 .2 1.2-.2 .5-1 .6-1.2-.2-.6-.9 .3-.5 1.1-.4 .9 .7-.3 .6-1.1-.1-.1-.6 .6-.2 .6 .2-.2 .6-.6 0-.3-.5 .5-.2 .5 .2-.3 .5-.6-.1 .1-.6 .6 0 .2 .6-.5 .2-.5-.4 .4-.4 .6 .2-.3 .5-.6-.1 .1-.6 .6 0 .2 .6-.6 .2-.4-.4 .4-.4 .6 .2-.3 .5-.6-.1 .1-.6 .6 0 .2 .6-.6 .2-.4-.4 .5-.4 .5 .2-.3 .5-.6-.1 .2-.6 .6 0 .1 .6-.6 .2-.4-.4 .5-.4 .5 .2-.3 .5-.6-.1 .2-.6 .6 0 .1 .6-.6 .2-.4-.4 .5-.4 .5 .2-.3 .5-.6-.1 .2-.6 .6 0 .1 .6-.6 .2-.4-.4 .5-.4 .5 .2-.3 .5-.6-.1 .2-.6 .6 0 .1 .6-.6 .2-.4-.4 .5-.4 .5 .2-.3 .5-.6-.1 .2-.6 .6 0 .1 .6-.6 .2-.4-.4 .5-.4 .5 .2-.3 .5-.6-.1 .2-.6 .6 0 .1 .6-.6 .2-.4-.4 .5-.4 .5 .2-.3 .5-.6-.1 .2-.6 .6 0 .1 .6-.6 .2-.4-.4 .5-.4 .5 .2-.3 .5-.6-.1M306.5 336.3l-.6 .2 .5-.5 1 .3 1.1-.4 .8-1 .3-1.1-1-5.9 .9-5.3-.7-.9-3.3-1.4-2.9-.3-2.2 1-2.5 2.5-1.7 .3-3.4-1.2-4.6-3.8-1.8-.1-2.9 .8-2 1.2-.3 .5 .1 1.2 3.4 3.3 .4 4.1 .7 1.7 5.1 4.1 .9 4.1M364.9 291.9l-.9 .5-1-.5 .7-.9 1.6-.8 1.7-.4 1.8 .2 2.6 1.5 .6 1 .2 1.1-1.8 2.4-5.7 4.3-1.3 1.3-2.1 7.5-1.6 2.5-1.2 1.3-.6-.1 .3-.4-.2 .6 .4-.5-.4 .5 .4-.5-.4 .5 .4-.5-.4 .5 .4-.5-.4 .5 .4-.5-.4 .5 .4-.5-.4 .5 .4-.5-.4 .5 .4-.5-.4 .5 .4-.5-.4 .5 .4-.5-.4 .5 .4-.5-.4 .5 .4-.5-.4 .5 .4-.5-.4 .5 .4-.5-.4 .5 .4-.5-.4 .5 .4-.5-.4 .5 .4-.5-.4 .5 .4-.5-.4 .5 .4-.5-.4 .5 .4-.5-.4 .5 .4-.5-.4 .5 .4-.5-.4 .5 .4-.5-.4 .5 .4-.5-.4 .5 .4-.5-.4 .5 .4-.5-.4 .5 .4-.5-.4 .5 .4-.5-.4 .5 .4-.5-.4 .5 .4-.5-.4 .5 .4-.5-.4 .5 .4-.5-.4 .5 .4-.5-.4 .5 .4-.5-.4 .5M257.6 272.5l2.8-5.9 1.5-1 2.4-.7M388.7 304.7l.6-.1-1.5 1-.5 1.7 .5 3 1.1 1.4 3.3 1.4 .6 1-.2 1.2-1.7 3.8 .1 1.2 .7 1.7 1.5 1.8 1.6 .8 1.8 0 3-.6 1.7 .4 1.6 1.7 .9 2.9-.4 7.1-.8 1.6-1.9 1.4-1.2 .3-1.1-.4-2.4-2.6-4.8 0-1.7-.3-.5-.4 .2-1.1 1-.4-.2 .5-.3-.5 .6 .2-.5 .4 .2-.6 0 .6-.4-.5 .6 0-.4 .5 .2-.6 0 .6-.4-.5 .6 0-.4 .5 .2-.6 0 .6-.4-.4 .6-.1-.4 .5 .2-.6 .1 .6-.5-.4 .6-.1-.4 .5 .2-.6 .1 .6-.5-.3 .5-.2-.3 .5 .1-.6 .2 .6-.5-.3 .5-.2-.3 .5 .3-.6 0 .6-.5-.3 .5-.2-.3 .5 .3-.6 0 .6M347.8 280.8l.4-1.1-.6 .2-.6 1.1 .6 .1 .4-.4 .3-.5-.4-.4-.8 .9 .5 .4 .6-1-.6 0-.3 .5 0 .6 .5-.3 .4-.5-.4-.4-.5 1.1 .5-.3 .3-1.1-.5 .3-.5 1 .6 .1 .4-.4 .2-.5-.4-.5-.8 .9 .6 .3 .4-1.1-.9 .8-.1 .6 .6-.1 .6-1-.5-.3-.7 .9 .5 .4 .6-1-.6 0-.3 .5 0 .6 .6-.3 .4-1.1-.6 0-.6 1 .5 .4 .4-.4 .3-.6-.6-.2-.5 1 .6-.1 .3-1.1-.9 .7 .4 .5 .5-1.1-.8 .7 .1 .6 .5-.3 .3-.5-.5-.3-.4 1 .9-.8-.3-.5-.7 .9 .3 .5 .5-.4 .2-.5-.5-.2-.3 1.1 .5-.4 .4-1.1-1 .6-.3 1.2 .6-.1 .8-.9 .3-1.2-.6-.2-1.2 1.3-.3 1.7 .5 .3 .6-.2 1.2-1.3 .8-1.6-.1-1.7-1.1 0-1.4 1.1-1.2 2.1-1.1 3.4-1 .6-1.1-.4-2.1-2.1-1.6-.9-1.7-.3-4.2 .7-1.7-.1-9.1-5.7-1.8-.4-.9 .8 .3 1.1 1 .7 1.1-.1-.5-1-.6-.1 .1 .5 .6 .1-.4-.5-.3 .5 .6 .2 0-.6-.5-.2 0 .6 .6 0-.4-.5-.4 .5 .6 .2 .3-.6-.6-.2-.4 .4 .5 .3 .5-.3-.4-.4-.6 .2 .5 .4 .5-.2-.5-.4-.5 .3 .5 .4 .5-.3-.5-.4-.5 .3 .5 .3 .5-.2-.5-.4-.5 .3 .5 .4 .5-.3-.5-.4-.5 .3 .5 .4 .5-.3-.5-.4-.5 .3 .5 .4 .5-.3-.5-.4-.5 .3 .5 .4 .5-.3-.5-.4-.5 .3 .5 .4 .5-.3-.5-.4-.5 .3 .5 .4 .5-.3-.5-.4-.5 .3 .5 .4 .5-.3-.5-.4-.5 .3 .5 .4 .5-.3-.5-.4-.5 .3 .5 .4 .5-.3-.5-.4-.5 .3 .5 .4 .5-.3-.5-.4-.5 .3 .5 .4 .5-.3M349.1 289l1.1-.3-.5-.3-.2 .6 1.2 0 .4 1.1-.3 1.1-1.6 1.7-3.3 1.5-1.3 2-.4-.4 .5 .2-.5 .4 .6 .2-.5-.4-.2 .6 1-.6-.6 .2 .4 .4-.6-.1 .5-.4-.2-.6-.4 .5 .5 .3 0-.6-.5 .4 .6 .1-.5-.3-.1 .5 .9-.8M383.3 323.9l0-.6-.1 .7 .1-.6-1-.6-.3 .5 1.1 7.1 .6 1 .6 0 1.5-1 .7-1.6-1-8.9-1.4-1.9-4.4-1.9-2-2.2M348.9 322.9l.6-.1-.6 .1 .6-.1-.6 .1 .6-.1-.6 .1 .6-.1-.6 .1 .6-.1-.6 .1 .6-.1-.6 .1 .6-.1-.6 .1 .6-.1-.6 .1 .6-.1-.6 .1 .6-.1-.6 .1 .6-.1-.6 .1 .6-.1-.6 .1 .6-.1-.6 .1 .6-.1-.6 .1 .6-.1-.6 .1 .6-.1-.6 .1 .6-.1-.6 .1 .6-.1-.6 .1 .6-.1-.6 .1 .6-.1-.6 .1 .6-.1-.6 .1 .6-.1-.6 .1 .6-.1-.6 .1 .6-.1-.6 .1 .6-.1-.6 .1 .6-.1-.6 .1 .6-.1-.6 .1 .6-.1-.6 .1 .6-.1-.6 .1 .6-.1-.6 .1 .6-.1-.6 .1 .6-.1-.6 .1 .6-.1-.6 .1 .6-.1-.6 .1 .6-.1-.6 .1 .6-.1-.6 .1 .6-.1-.6 .1 .6-.1-.6 .1 .6-.2-.6 .2 .6-.2-.6 .2 .6-.2-.6 .2 .6-.2-.6 .2 .6-.2-.6 .2 .6-.2-.6 .1 .6-.1-.6 .1 .6-.1-.6 .1 .6-.2-.6 .2 .6-.2-.6 .2 .6-.2-.6 .2 .6-.2-.6 .2 .5-.3-.5 .3 .5-.3-.5 .3 .5-.3-.5 .3 .5-.3-.5 .3 .5-.4-.5 .4 .1-.6 .1 .6 5.1-1.9 3.2-2.7 2.3-3.5-1.1-1.3-.6-.2-.5 .3 .4-.4-.4 .4M296.6 401l3 .3 4.7 2.4 4.1-1.1 1.8-.1 2.3 .7 2 1.2 .8 .9 .2 1.2-1.1 5.9 .2 4.2M304.4 291l-1.2 0-.8 .8-.5 1.7 .2 1.8 .7 1 1.6 .7 1.8-.2 .7-.9-.9-2.8-1.9-2.2-1.1 .3-.7 .9-.4 1.8 .4 1.7 .7 .9 1.7 .6 1.2-.2 .9-.7 .1-1.2-.7-1.6-1.3-2-1-.7-1.1 .5-.9 1.6-.1 1.7 .4 1.2 .8 .9 1.7 .5 1.2-.1 .9-.7 .2-1.2-1-2.2-1.3-2-1-.5-1.1 .4-1 1.5 0 3 .7 1 1.5 .8 1.8 .1 1.1-.5 .5-1.6-2.4-5.5-1.2-1.3-1.1 .1-1.6 .8-1.3 1.3-2.5 5.4-2.9 3-.2 1.2 .2 .5 1.1 .3 .4-.5-.4-.5-.2 .6 .5-.4-.6 .1 .6 .2-.3-.5-.2 .6 .5-.4-.5 .3 .5-.3-.5 .1 .5 .3-.2-.6-.3 .5 .5-.3-.5 .2 .6 0-.6-.3 .2 .6 .3-.5-.5 .3 .5-.1-.5-.3 .2 .6 .2-.6-.4 .4 .5-.2-.6 .1 .6 0-.5-.3 .2 .6 .3-.4-.6 .1 .6 0-.4-.3 0 .6 .4-.4-.6 .1 .6 0-.4-.4 0 .6 .3-.5-.4 .4 .5 0-.4-.5 0 .6 .4-.4-.5 0 .4 .4 0-.6-.4 .4 .6-.1-.6 0 .5 .3-.2-.6-.3 .5 .6-.1-.5-.3M394.9 408.8l-.3 .5 0-.6 .2 .5-.3-.5 .4 .5-.5-.2 .5-.2-.3 .5 .1-.6 .2 .5-.5-.3 .5-.1-.4 .4 .2-.5 .2 .5-.5-.3 .6-.1-.5 .4 .2-.5 .2 .5-.5-.3 .6-.1-.5 .4 .2-.5 .1 .5-.4-.3 .6 0-.5 .3 .2-.5 .1 .5-.4-.3 .6 0-.5 .3 .3-.5 0 .5-.3-.5 .3 .5-.4-.4 .6 .2-.6 .1 .4-.4-.1 .5-.3-.4 .6-.2 .4 .4-.2 1.1-1.7 .3-3.9-3.7-1.7-.4-2.8 1.1-5.4 3.8-1.7 .1-7.6-4.9-4.4-4.1-1-2.1 .7-4.1-.7-2.3M329.4 369.9l.5 .3-.5-.3 .5 .3 .4-.4-.5 .1-.1-1.7 .3-1.2 .8-.8 1.8-.1 4.7 .9 1.6-.6 1.1-1.5 .3-1.8-.6-.9-1.1 .5 0 .6 .1-.6M278.8 346.6l.2 .5-.1-.6 .5 .3 1.1-.3 2-5 2.5-2.5 2.3-.7 1.7 .2 .9 .8 .3 1.2-.6 1-1.1-.2-.3-.5 .3-.5 .5 .2-.4 .4-.1-.6 .6 .3-.6 .2 .3-.5 .2 .5-.6-.2 .6-.1-.3 .5-.2-.6 .5 .2-.5 .3 .2-.6 .3 .5-.5-.1 .5-.3-.2 .6-.4-.5 .6 0-.4 .4 0-.6 .5 .4-.6 .1 .4-.5 .1 .6-.6-.3 .6-.1-.3 .4-.2-.5 .6 .2-.6 .2 .2-.5 .3 .5-.6-.2 .6-.2-.2 .6-.3-.6 .5 .1-.4 .4 0-.6 .5 .4-.6 0 .4-.4 0 .6-.5-.4 .6 0-.4 .4-.1-.6 .6 .3-.6 .2 .3-.5 .2 .6-.6-.3 .6-.1-.3 .5-.2-.6 .6 .2-.6 .3 .2-.6 .3 .5-.5-.1 .5-.3-.2 .6-.4-.5 .6 0-.4 .4 0-.6 .5 .4-.6 .1 .4-.5 .1 .6-.6-.3 .6-.1-.3 .4-.2-.5 .6 .2-.6 .2 .2-.5 .3 .5-.6-.2 .6-.2-.2 .6-.3-.6 .5 .1-.4 .4 0-.6 .5 .4-.6 0 .4-.4 0 .6-.5-.4 .6 0-.4 .4-.1-.6 .6 .3-.6 .2 .3-.5 .2 .6-.6-.3 .6-.1-.3 .5-.2-.6 .6 .2-.6 .3 .2-.6 .3 .5-.5-.1 .5-.3-.2 .6-.4-.5 .6 0-.4 .4 0-.6 .5 .4-.6 .1 .4-.5 .1 .6-.6-.3 .6-.1-.3 .4M354.9 354.5l-.1 .6 .5 .3-.6-.1-3.2 2.7-2.2 .9-1.7-.6-4-3.6-1.7-.5-1.7 .5-2.5 2.5-1.8 3.8 .4 2.3 .9 .7 1.2 .2M269.3 356.1l-.5 .2 .5-.2-.8 .7-.8 1.7-.4 4.1-1.9 1.5-1.2 .2-1.1-.3-5.1-4.1M376.3 277.5l.3-.6-.7 2.3 .6 .2 5.3-1 1.4-1 .3-1.1-.2-1.2-1.6-2.5-1.1-.5-1.8 .1-3 2-3.4 4.1-1.7 .6-3 .1M385.5 380.1l-1.2-.2 .5-.2 .3 .5 1.8 .5 3.6 .2 2.3-.6 .7-.9-1.1-8.3 .9-7.7 1.7-5.1 1.9-2.3 1.7-.6 1.7 .5 .6 1 .8 4.1 .9 2.3 1.2 1.3 2.1 1.1M384.9 380l-1.6-.8-1.8-.1-5.7 1.6-1.8 .2-2.3-.6-4.3-2.2-1.2-.2-1.1 .3-1.6 1.8-.7 2.3 .5 1.6 3.1 2.8 1.1 2.2-.3 2.9-1.8 2.3 .2-.6M393.9 316.7l-.6 2.3 1.1 2.1 1.6 .8 4.1 .4 2.4 1.8M405.9 280.4l-2.3-.2-3 .8-2.7 1.2-1.4 1.1-1.1 .3 1.2 .3-.6-.1 .5 .4-1.8-.3 1.1 .4-.6-.1-.3 .5-2.4 .2 .5-.3-.4 .4-.5-.3 .6 .2-.3-.5 1.1 .4-1.2 0 .6 .1M373.1 298.9l-.1 1.8 .5 .4 6 .6 2.2 .9 .9 .8 .9 8.9-.3 1.8-.9 .8M278.6 408.6l.6 .2 .3-.5-.2 .5-.6 .1 .5-.3-2.4-.1-1.8 1.5-.9 2.8 .1 3.6M406 275.8l-3.6 .1-4.7 .9 .6 .2-.6 .2 .5 .3-.5 .4-.1 3.6-.4 1.1-1.2 1.2M331.4 321.8l.1 .6-.1-.6-1.1 .2-.4 1.7 .9 2.9 .7 1 .6 0 4.9-2.2 .4-.4 .5-3.6 .7-.9 .6 .3-.5 .4M331.7 322.7l1.7 0 1.1-1.4 1.4-5.2 2.2-4.2 .3-4.8 2.4-3.4 2-5.6 1.7-1.6-.6 .2M329.9 370.1l.5-.2-.6 0 0 .6 .5-.4 1 1.4 .4 3.6-.5 3.5-1.6 1.8-1.7-.1-1.4-1.1-.3-2.9-1.2-4.1-1.2-2.7-1.2-1.3-1.1-.5-1.8 0-1.6 .8-1.4 1.2-.9 2.1 .3 1.8 1.7 1.6 1.1 .4 1.2-.3 .4-1.7-.7-1.6-1.1-.5-1.6 .5-.4 1.7 .8 .9 1.2 .1 .3-1.1-.8-.8-1 .4 0 .6 1 .6 .3-.5-.2-.6-.6-.1-.3 .4 .3 .5 .6 0-.1-.6-.6-.2-.1 .6 .5 .3 .3-.6-.5-.3-.4 .4 .5 .4 .5-.3-.4-.5-.6 .2 .3 .5 .6 0-.1-.5-.6-.1 0 .6 .6 .1 0-.6-.6-.2-.1 .6 .6 .2 .1-.5-.5-.3-.2 .6 .5 .3 .3-.6-.5-.3-.4 .5 .5 .4 .5-.4-.4-.5-.6 .2 .3 .6 .6-.1-.2-.6-.6 0 .1 .6 .6 .1 0-.6-.6-.2 0 .6 .5 .2 .1-.6-.5-.2-.2 .6 .6 .3 .2-.6-.5-.3-.3 .5 .5 .4 .3-.5-.4-.4-.5 .4 .4 .4 .6-.2-.3-.5M257.9 314l1.8-.2 .9-.8 1.1-4.6-1.1-.5-3 .2M390.1 381l2.4-.1 1.1 .4 1.3 2 .6 2.9 .1 3.6-.6 2.9-.5 .4-.2-1.2 0 .6M349.8 288.7l.6-.1-1.1-.2 .5-1.1 3.9-4.5 2-1.4 1.7 0 3.7 3.1 1.1 .5 .6-.2-.6-.1 .6 0-.6 .3 .6-.2M363.7 331l-.6 0 .6 .1-1-.6 .3 .5-.5-.3 7 1.5 5.5 2.3 1.9 1.4 3.4 3.4 4.8 3.5 1.4 2.7 2.2 7.5-.4 2.3-2.4 3.4 .3 1.8 1.6 1.7 2.6 1.6 1.4-1.1 1.5-2.6M279.9 265.1l-2.4 4.8-7.5 7.7-1.2 2.1 .8 .9 2.2 .7 2.4 .1 2.4-.4 1.6-.8 1.3-1.2 .6-1.7-.4-1.1-1.6-.4-1.6 .8-.8 1.5 1 .5 1-.5 .3-.5-.5-.4-.5 .3 0 .6 .5-.2 0-.6-.5 .3 .2 .6 .5-.4-.3-.6-.4 .4 .1 .6 .5-.4-.1-.5-.5 .3 .1 .6 .5-.4-.1-.5-.5 .3 .1 .6 .5-.4-.1-.5-.5 .3 .1 .6 .5-.4-.1-.5-.5 .3 .1 .6 .5-.4-.1-.5-.5 .3 .1 .6 .5-.4-.1-.5-.5 .3 .1 .6 .5-.4-.1-.5-.5 .3 .1 .6 .5-.4-.1-.5-.5 .3 .1 .6 .5-.4-.1-.5-.5 .3 .1 .6 .5-.4-.1-.5-.5 .3 .1 .6 .5-.4-.1-.5-.5 .3 .1 .6 .5-.4-.1-.5-.5 .3 .1 .6 .5-.4-.1-.5-.5 .3 .1 .6 .5-.4-.1-.5-.5 .3 .1 .6 .5-.4-.1-.5-.5 .3 .1 .6 .5-.4-.1-.5-.5 .3 .1 .6 .5-.4-.1-.5-.5 .3 .1 .6 .5-.4-.1-.5-.5 .3 .1 .6 .5-.4-.1-.5-.5 .3 .1 .6 .5-.4-.1-.5-.5 .3 .1 .6 .5-.4-.1-.5-.5 .3 .1 .6 .5-.4-.1-.5-.5 .3 .1 .6 .5-.4-.1-.5-.5 .3 .1 .6 .5-.4-.1-.5-.5 .3 .1 .6 .5-.4-.1-.5-.5 .3 .1 .6M352.4 282.2l2.2-2 2.3-.5 1.5 .9 1.8 2.4M265.7 304.3l.6-.1-.6 .1 .4-.5-.5-.3-1.8-.1-6.4 1.6M298.6 309l-.5-.2-.2-.6 .4-1.7 2.4-4.9 1.6-1.7 2.3-.7 3.6 .1 2.3 .7 1.7 1.7 .2 1.1-.6 1.7-7.6 7.7-4.5 6.3-1 .5 0-1.1M349.3 289.2l.5-.4-.5 .4 .4-.5-2.1-2-4 1.3-1.7-.1-1-.7-2.6-3.3-2.1-1.2M306.4 292.4l-1.8-6.9-1-1.4-2.4 .3-2.2 1-1.8 1.6-2.6 3.2-1.5 1.1-1.1-.1-.6-1-.3-3 .6 0 .2 .5-.2-.5 .2 .6-.1-.6 .2 .5-.4-.4 .3 .5 .1-.6 0 .6-.3-.5 .2 .6M367.6 287.6l2.3-.5 2.2 1 2.1 2.1 2.2 3.5 7.3 2.6 4.2 .2 2.7-1.2 .8-2.2-.5-2.4-2.4-4.8-.1-1.2 1.4-1 3 0M406.2 393.3l-2.4-.2-2.1 1.1-1.5 2.6-.9 3.4 .3 1.8 2.2 4.3 1.4 4.6 1.6 1.7 1.6 .9M392.7 376.6l-1.1-2.8-1.2-1.2-5.9-1.3-2.6-1.4-1.6-1.8-2.7-4.6-1.4-1.2-6.5-1.1-5.5-2.2-1.8-.3-1.7 .5-1.1 1.4-1.5 3.9-1.5 1-8.3-1.1-1-.6-3.2-3.6-2.1-1.1-1.7 .6-1.3 1.2-.9 1.5 .4 1 .3-.5M346 406.5l.9-.8-.3-.6-1.1-.4-1.7 .2-5 3.3-6.6 0-4 2.5-1.7 .6-5.7-1.8-1.7 .1-1.4 1.2-.6 2.3 .8 2.2 1.8 1.6M305.3 320.7l-1.8-.3-1.7 .3-1.5 1.1-1.8 3-.9 .8-5.9 .8-2.1 1.2-.9 1.6 0 1.7 2.3 3.5 .6 1.7M363.5 330.6l-.5 .4-.9-.8 .1-1.2 2.2-2.9 1.4-1 1.2-.2 6 .4 4.6-1.3 1.1 .3 .7 .9 1.4 4.6M348.4 323.3l.4-.4-.3-.5 .1 .6-3.7 2-5.3 3.9-.7 1.6 .6 2.3 .6 .1-.6 0M297.3 292.9l-1.3 2.1-2.5 2.5-.6 1 .2 1.7 .8 .9 1.2 .2M315 289.1l-.1-.6 .1 .6 2.3-4.8 1.5-1 4-1.3 1.3-1.2 .2-1.1-.5-1.1-2.1-2.2M314.4 379.3l-.3-1.1 .3 1.7-.2 1.2-.8 .8-.6-.2-6.6-4.1-.5-2.3 .4-1.1 1.1-.6 1.2 .1 1.6 .8 1.2 1.2 .1 .6-3 0-1-.6 0-.6 .6-.2 1 .5-.3 .5-.6-.1-.4-.4 .5-.3 .5 .2-.2 .6-.6-.2-.1-.6 1 .4-.5 .2-.4-.5 .6 .1 .1 .5-.5-.1-.3-.5 1 .4-.6 0-.2-.5 .5 .1 .3 .6-.6 0-.4-.5 .6-.1 .4 .4-.6 0-.2-.5 .6 .1 .2 .6-.6 0-.4-.5 .6-.1 .4 .4-.6 0-.2-.5 .6 .1 .2 .6-.6 0-.4-.5 .6-.1 .4 .4-.6 0-.2-.5 .5 .1 .3 .6-.6 0-.4-.5 .6-.1 .4 .4-.6 0-.2-.5 .5 .1 .3 .6-.6 0-.4-.5 .6-.1 .4 .4-.6 0-.3-.5 .6 .1 .3 .6-.6-.1-.4-.4 .6-.1 .4 .4-.6 0-.3-.5 .6 .1 .3 .6-.6-.1-.4-.4 .6-.1 .4 .4-.6 0-.3-.5 .6 .1 .3 .6-.6-.1-.4-.4 .6-.1 .4 .5-.6 0-.3-.6 .6 .1 .3 .6-.6-.1-.4-.4 .6-.1 .4 .5-.6 0-.3-.6 .6 .1 .3 .6-.6-.1-.4-.4 .6-.1 .4 .5-.6 0-.3-.6 .6 .1 .3 .6-.6-.1-.4-.5 .6 0 .4 .5-.6 0M401.8 315.8l-.4 .5 .4-.5-.4 .5 .4-.5-.4 .5 .4-.5-.4 .5 .4-.5-.4 .5 .4-.5-.4 .5 .4-.5-.4 .5 .4-.5-.4 .5 .4-.5-.4 .5 .4-.5-.4 .5 .4-.5-.4 .5 .4-.5-.4 .5 .4-.5-.4 .5 .4-.5-.4 .5 .4-.5-.4 .5 .4-.5-.4 .5 .4-.5-.4 .5 .4-.5-.4 .5 .4-.5-.4 .5 .4-.5-.4 .5 .4-.5-.4 .5 .4-.5-.4 .5 .4-.5-.4 .5 .4-.5-.4 .5 .4-.5-.4 .5 .4-.5-.4 .5 .4-.5-.4 .5 .4-.5-.4 .5 .4-.5-.4 .5 .4-.5-.4 .5 .4-.5-.4 .5 .4-.5-.4 .5 .4-.5-.4 .5 .4-.5-.4 .5 .4-.5-.4 .5 .4-.5-.4 .5 .4-.5-.4 .5 .4-.5-.4 .5 .4-.5-.4 .5 .4-.5-.4 .5 .4-.5-.4 .5 .4-.5-.4 .5 .4-.5-.4 .5 .4-.5-.4 .5 .4-.5-.4 .5 .4-.5-.2 .6 .2-1.1 .3 .5-.5-.4 .5 .4-.5-.4-.1-.5 .3-6 .7-1.7 1.9-2.3-.4-1.1-.6 .1 .1 .6 .3-.5-.5 .4 .6 0-.5-.4 .2 .6 .3-.5-.6 .2 .6 .2-.4-.5 .1 .6 .1-.6-.3 .5 .5-.4-.6 .2 .6 .2-.4-.5 .1 .6 .1-.6-.3 .5 .5-.3-.6 .1 .6 .2-.4-.5 .1 .6 .1-.6-.3 .5 .5-.3-.6 .1 .6 .2-.4-.5 .1 .6 .1-.6-.3 .5 .5-.3-.6 .1 .5 .2-.2-.5 0 .6 .1-.6-.3 .5 .5-.3-.6 .1 .5 .2-.2-.5 0 .6 .1-.6-.3 .5 .5-.3-.6 0 .5 .4-.2-.6-.1 .6 .3-.6-.4 .5 .5-.3-.6 0 .5 .4 0-.5-.4 .4 .5-.2-.6-.2 .4 .5 .1-.5-.5 .3 .6 0-.5-.4 .2 .6 .1-.6-.3 .5 .5-.4-.6 .2 .6 .2-.4-.5 .1 .6 .1-.6-.3 .5 .5-.4-.6 .2 .6 .2-.4-.5 .1 .6 .1-.6-.3 .5 .5-.3-.6 .1 .6 .2-.4-.5 .1 .6 .1-.6-.3 .5 .5-.3-.6 .1 .6 .2-.4-.5 .1 .6 .1-.6-.3 .5 .5-.3-.6 .1 .5 .2-.2-.5 0 .6 .1-.6-.3 .5 .5-.3-.6 .1 .5 .2-.2-.5-.2 .5 .5-.3M261.5 381.7l.3-.5 .4 .5-.5-.4 .6 0-.4 1.1-1.4 1.2-1.1 .4-1-.5-.7-2.9 1-2.1 2.2-.8 4.2-.3 4.7 .8 2.1 1.1-.6-.1M406.2 391.3l-3.4-1.1-2.2 .6-1.6 1.8-3.3 5.7-3.2 2.7 .4 1 5.7 3.3 2.5 2.6M306.6 336.4l.5 .2-3.8-2.8-4.2-4.3-2.7-1.2-3.6 0-2.1 1.1-.6 1.6 1 2.8M376.6 277.1l-.7 .9 .4 .4-.4 .5 .1 1.2 3.5 12.1 .6 1.1 1.4 1.1 3.4 1.2M394.6 412.5l-1.8-.3-3.6-2.1-2.3-.2-2.2 1.1-2.3 1.9-1 1.4-.7 2.3M330.4 370.2l-.4-.4-.3 .6-1-.6-2.2-3.6-2.1-2.1-2.6-1.4-2.4-.4-1.5 1-1.5 2.5-1.1 3.5 0 2.9M376.1 279.5l4.2 .1 4.1 .9 1.8-.3 1.9-1.3 3.8-3.9 5-2 .7-.9 .9-2.9 1.5-1.9 2.2-.7 1.7 .6-.1 .6-.5 .3-1.7 0 1.1-.3-.6 .2M327 272.7l-.6-.2 .6 .3-.5-.3 .2 .6-.6-.2 .6-.2-.6-.2 .4-.4 .4 1.1-1.2-1.3 1.7-.3 2.2 .9 3.9 2.9 1.9 2.2 .1 1.2-.9 1.5-1.6 .8-1.8 .2M392.6 368.2l1.1-3.4 1.1-1.4 1.1-.4 6.7 5 1.6 .6 1.8 0M391.4 324l.4 1.8 2.4 3.4 .4 4.7-.3 1.2-.8 .8-3.5 .3M363.6 275.5l1.8-1.5 2.2-5.6 2.4-3.4M348.2 264.9l2.7 1.5 3.6 3.9 1.7 .7 .1-.6-.2 .6-.3-.6 .3 .6 .3-.6-.3 .6 .3-.6M305 287l-.6-2.3-.7-.9-4.7-1-.5 .3-2.5 4.1M304.7 338.4l-.6 2.4-.2 5.9-1.1 1.5-2.2 .6-3.6-.3-3.5-.9-2.7-2.4-3.1-1.6-1.1-1.4-.1-1.2 1.1-1.4 1.1-.1M365.1 299l-4.7 2.7-3.3 2.6-1.1 .3-2.4-3.4-1.6-.9-2.3 0-4.5 1.7-1.8 0-.6-.9 0-1.2 1.1-2.8 .4-.4 .4 .4-.3-.5-.5 .4 .5-.4M348.8 322.7l-.6 0 .6 0-.3-.6 .3 .5 0-1.2-1.3-5.2 .9-4.7-.4-2.9-1.5-2.6-3.1-1.8-1.1-1.4M280 385l-1.1-.4-1.8 .2-1.6 .8-1.3 1.2-1.1 2.1-1.3 5.3-3.1 3.5-.3 1.2 .3 .5 1.1 .5 1.1-.1 1.1-.7 .5-1-.4-1.1-1.6 .6-.2 .5 .6 .2 .4-.3-.2-.6-.5 .4 .3 .5 .5-.4-.5-.4-.4 .5 .6 .1 .1-.6-.5 .3 .4 .5 .3-.6-.6-.1-.2 .6 .6-.2-.2-.6-.5 .5 .5 .4 .4-.5-.6-.2-.2 .6 .6-.2-.2-.6-.4 .4 .4 .5 .4-.5-.6-.2-.2 .5 .6-.1-.1-.6-.5 .4 .4 .5 .4-.5-.5-.2-.3 .5 .6-.1-.1-.6-.5 .4 .4 .5 .4-.5-.5-.2-.3 .5 .6-.1-.1-.6-.5 .4 .4 .5 .4-.5-.5-.2-.3 .5 .6-.1-.1-.6-.5 .4 .4 .5 .4-.5-.5-.2-.3 .5 .6-.1-.1-.6-.5 .4 .4 .5 .4-.5-.5-.2-.3 .5 .6-.1-.1-.6-.5 .4 .4 .5 .4-.5-.5-.2-.3 .5 .6-.1-.1-.6-.5 .4 .4 .5 .4-.5-.5-.2-.3 .5 .6-.1-.1-.6-.5 .4 .4 .5 .4-.5-.5-.2-.3 .5 .6-.1-.1-.6-.5 .4 .4 .5 .4-.5-.5-.2-.3 .5 .6-.1-.1-.6-.5 .4 .4 .5 .4-.5-.5-.2-.3 .5 .6-.1-.1-.6-.5 .4 .4 .5 .4-.5-.5-.2-.3 .5 .6-.1-.1-.6-.5 .4 .4 .5 .4-.5-.5-.2-.3 .5 .6-.1-.1-.6-.5 .4 .4 .5 .4-.5-.5-.2-.3 .5 .6-.1-.1-.6-.5 .4M268.2 327.9l0 .6 .1-.6-.6 .3 .1 .6 .9 1.5 1.1 .6 1.1 0 .8-.9 1.9-4.4 1.5-1 2.4-.2 6.2 2.2 .5 1.1 .6 2.9M379.5 396.7l-.4-.4 .3 .5-.2-.6 .3-.5 .6 0 2.7 1.2 2.2 2 .9 2.2-.1 1.8-.7 1.6-4.1 4.4M257.5 412.7l5.1-6.6 1.1-2.8-.7-1.6-5.3-4.8 .3 .5M362.6 331.2l.6 0-.6-.1 1 .6 .4 .5-.3 .5-3.5 .1-5.2-1.5-5.5-2.4-1.8-.1-7.4 2.4-.9 .7 .5 1M285.3 397.3l-.2 .6-.3-.5-1.1 .2-1.2 2.1-1.1 .5-1.1-.4-.7-1-1.3-3.9-.7-1 0 .6-.5-.4-.1 .6-5.2 1.6M344.4 377.4l.5 .3-.5-.2 .5-.3-.4 .5-.1-.6 .6-.2 1 .5 .4 1.1-.2 1.8-1.3 1.2-2.4 .1-2.2-1-2.4-1.8-1.5-1.8-.7-1.7 .2-1.7 1-2.2 3.6-4 1.4-2.7M314.2 378.9l.3 1.7-.7 2.3-4.2 4.2-1.5 1.1-2.3 .2-8.2-2-.6-9 2.6-6.1 1.5-2.5 0-.6 .1 .6-.1-.6 .1 .6M268.2 357.3l-.7 2.2 .2 1.2 .9 .8 1.1 .3 2.8-.8 5.4-3.8 1.2-.2 .8 1.6-.7 2.9-1.9 3.7-1.4 1.1-2.8 .9-.8 1-.3 2.9 .7 7.2-.1 .5-1.1 .6-.1 .6 .6-.2-.4-.4-.6 .3M406.2 290.5l-1.4 1-3 3.8-2.6 1.4-3-.2-3.4-1.1-.9-.8-.4-1.8M335 335.9l.6 0-.6 0 .2-.6-.3 .6 0-.6 0 .6-.2-.6 .5 1.7 0 3.6-1.2 4 0 1.2 1 .7 4 1.1 .7 1 0 1.2-1.3 2.6-5.2 5.8-.7 1.6-.3 1.8 .3 1.1 .9 .9 3.2 1.6M336.7 314.4l.6-1.7-.2-.6-6-2.7-1.4-1.9 .1-1.8 1.1-1.4 1.5-1 5.1-1.5 3.6-5.5 1.7-.6 1.7 .1M261 409.1l5.9-2.9 5.9-4 1.5-1.9 .4-2.3M405.9 380.3l-3.9-1.3-1.2 0-1.1 .5-.7 1.6-.6 6-1.2 4M364.6 298.1l-3.6 .5-5.1-1.6-2.4-.3-2.9 .4-5.7 1.9-.6-.2-.4-1M340.4 375.4l-.4-2.3 .4-2.4 3.1-3.6 1.3-2.7-.1-1.8-1.2-2M281.6 331.1l-.1-.6 .2 .6-.3-.6-.9 2.2-1.4 1.1 0 .6 .8 .9 1.6 .7 6 .5M348.1 378.9l.8 4.7-.5 1.8-.9 .6-1.8-.3-3.8-1.7-7.7-4.7-1.2 .1-2 1.2M281.8 289.9l-.4 .5 .5 .4 .5-.3-.2-.5-.6 .1 0 .6 .5 0 .4-.5-.5-.3-.5 .3 .2 .6 .6-.2 0-.6-.6 0-.2 .5 .5 .3 .5-.4-.4-.5-.5 .2 0 .6 .6 0 .3-.5-.6-.3-.5 .4 .4 .5 .6-.2-.1-.6-.6 0-.2 .6 .6 .2 .4-.5-.4-.4-.6 .3 .2 .6 .6-.1 .1-.6-.6-.2-.4 .5 .5 .4 .5-.3-.2-.5-.6 .1-.1 .6 .6 0 .4-.5-.5-.3-.5 .3 .2 .6 .6-.2 0-.6-.6 0-.2 .5 .5 .3 .5-.4-.4-.5-.5 .2 0 .6 .6 0 .3-.5-.6-.3-.4 .4 .3 .5 .6-.2-.1-.6-.6 0-.2 .6 .6 .2 .4-.5-.4-.4-.6 .3 .2 .5 .6 0 .1-.6-.6-.2-.4 .5 .5 .4 .5-.3-.2-.5-.6 .1-.1 .6 .6 0 .4-.4-.5-.4-.5 .3 .2 .6 .6-.1 .1-.6-.6-.2-.4 .5 .5 .4 .5-.3-.1-.5-.6 0-.3 .5 .5 .4 .6-.3 0-.6-1.1 0-.2 .5 .4 .5 1.1-.2 .2-.6-.8-.8-1.1 .4-.3 1.1 .9 .8 1.1-.2 .9-.9 .1-.6-.5-1-1.1-.4-1.2 .2-.8 .8-.3 1.2 0 1.2 .6 1 1.8 .1 1.6-.6 1.3-1.3 .3-1.7-.4-1.1-1.3-1.2-2.3-.7-1.7 .3-1.7 5.7-1.3 2.7-2.7 3.3-2.2 .9-1.6-.7-1.9-1.5-1.8-2.4-1-2.2-.5-3.5 1.6-.8 1.8-.3 1 .6 .1 .6-.7 1-1-.5 0-.6 .6 .1-.3 .5-.1-.6 .5 .3-.6 .1 .4-.5 .1 .6-.5-.3 .6-.1-.4 .4-.1-.6 .5 .4-.6 .1 .4-.5 .1 .6-.5-.4 .6 .1-.5 .3 0-.6 .5 .4-.6 .1 .4-.5 .1 .6-.5-.4 .6 .1-.5 .3 .1-.6 .4 .4-.6 .1 .4-.5 .1 .6-.5-.4 .6 .1-.5 .3 .1-.6 .4 .4-.6 .1 .4-.5 .1 .6-.5-.4 .6 .1-.5 .3 .1-.6 .4 .4-.6 .1 .4-.5 .1 .6-.5-.4 .6 .1M383.1 410.4l-3.9 2.9-.6 1-.4 2.3M372.4 327.3l2.3 .8 1.9 1.4 2.9 4.5 1.5 1 1.8-.2 1.6-.7 3.6-3.2 1.1-1.4 .6-1.7-1.2-4.6-1-5.9-.9-2.2-3.6 .5M379.6 396.3l-.5-.3 .5 .4-.6-.3-3.7 3.8-1.7 .6-6.7-2.4-.8-.9-.4-1.8M377.7 413.4l-1.7 .4-3.7-1.9-2.9-.7-1.8 .3-4.8 2.4-4.7-.6-3.6 .4-.5-.3-.5 .2-.3 .5 .6-1.1M386.1 279.7l1.3-1.1 .8-1.7-.1-1.7-1.4-5.2 .2-2.4 .6-1 1.2-.2 1.7 .6 5.6 3.4 1.7 .2 .5-.4M382.6 395.4l5.8 1.5 1.4-1.1 2.5-4.1 1.1-.3 .7 .9-.1 .6 .1-.6-.1 .6 .2-.6-.3 .5 .3-.5-.5 .3 .3-.5 .1 .6 .4-.5-.4 .5M364.6 304.8l.1 4.8 1.4 7.7 1.5 3.2 1.5 .9 .6-.1 .5-1.1-.5-1.7-.9-.7 .1 1.7 .5-.3-.4-.5-.1 .6 .4-.5-.5-.3 .3 1.1-.1-.5M378.5 395.5l.5 .4 .3-1.1-1-4.6 4.1-3.5 1.6-.9 2.3 .3 2.8 1.3 4.1 3.4 1 1.5-.6-.1 .6 0-.6 0 .6 0M379.1 396.3l.4 .4-.4-.4-.5 .4 1.1 3.5 .1 2.4-.8 2.9-1.3 2.6-.9 .8-1.2-.1-3.8-1.8M330.4 369.7l-.4 .4 .2-.6-.3 .5 .3 .6-.5 1-1 .8-1.2 .2-.9-.7-1.5-2.6M315.3 289.7l-.3-.5-.2 .6 .1-.6 .4 .5-.5-.3-1.5 2.6-.5 .2-1.6-1.7-.5-2.3-.1-2.4 1.7-5.8 0-1.8-1.1-2.1-4.9-5.3M313.3 361.1l-.1 .6 .1-.6-.1 .6 .1-.6-.1 .6 .1-.6-.1 .6 .1-.6-.1 .6 .1-.6-.1 .6 .1-.6-.1 .6 .1-.6-.1 .6 .1-.6-.1 .6 .1-.6-.1 .6 .1-.6-.1 .6 .1-.6-.1 .6 .1-.6-.1 .6 .1-.6-.1 .6 .1-.6-.1 .6 0-.6 0 .6 0-.6-.1 .6 .1-.6-.1 .6 0-.6-.6 .2 .6-.2-.6 .1 .6-.1-7.1 .5-2.3 .7-1.9 1.5-1 1.5-.6 2.3 .3 1.2 .5-.4M331.7 347.3l1.7 4.5-4.8 9-.9 .7-1.8 .1-4.4-1.7-1-1.5 .7-2.3 1.7-1.7 1.7-.1 .6 1-.4 1.8-1.5 .8-1.1-.6-.2-.5 .4-1.1 1-.7 .6 .1 .3 1.1-.8 .9-1-.5 0-.6 .9-.7 .6 .3-.4 1.1-.6 .1-.4-.5 .2-.5 .6-.3 .5 .3-.7 .9-.5-.3 .2-.6 .5-.3 .4 .4-.2 .6-.6 .1-.3-.5 .4-.5 .6 .1 0 .6-.5 .3-.5-.3 .3-.5 .5-.2 .3 .5-.4 .5-.6-.2 .1-.6 .5-.2 .4 .5-.4 .5-.6-.1 .1-.6 .5-.3 .4 .4-.3 .5-.6 0-.1-.6 .5-.3 .5 .3-.3 .6-.6 .1-.1-.6 .4-.4 .6 .3-.2 .5-.6 .2-.2-.5 .4-.5 .6 .2-.1 .5-.6 .3-.4-.4 .4-.5 .5-.1 .1 .6-.4 .4-.6-.3 .3-.5 .5-.2 .2 .5-.4 .5-.5-.2 .1-.6 .6-.2 .2 .5-.3 .5-.6-.2 .1-.6 .5-.2 .4 .5-.4 .5M346.1 406.8l.3-.5 .6 .1-.5 .2-.3 1.2 .7 1.6 4.6 1.2 .9 .8 1 2.1 .4-.5-.1 .6M266.3 304.4l-.6 0 1.5-.8-.2-1.2-6.4-5.4-1.6-2.5-.2-1.8 .9-2.2 1.3-1.1 2.4 .1 .6-1 .6 .2 2.9-.7 1.7 .3M406 288.5l-1-.7-1.1-.2-5 2.1-3.5 .5-3-.4-1.8-1.5M283.9 397.6l-.6 1.7-.6 5.3 .6 1.1 3.9 3.7 1.9 5.7 .9 1.5M346.8 404.1l-1.4-1-1.8-.6-2.4-.1-3.5 .4-2.1-1.1-1.7-5.1-3-5.8-.3-1.8 .8-4.1-.1-1.8-.7-1-2.7-1.1M359.6 393.4l-.7 1.6-.7 5.4 .5 2.3 1.8 3.8 .1 1.8-1.8 2.3-3.9 2.9-.6 .2-.2-.5-.4 1.1M284.2 318.6l-5.3 1.3-1.1-.1-2.1-2.9-1.6-3.2-.4-1.8 .3-1.8 1.2-2 1.4-1.1 1.1-.4 1.2 .2 1.4 1.1 .5 1.7-.1-.6 .2 .6-.2-.6 .4 .4-.4-.4 .5 .4-.5-.4 .5 .4-.5-.4 .5 .4-.5-.4 .5 .4-.5-.4 .5 .4-.5-.4 .5 .4-.5-.4 .5 .4-.5-.4 .5 .4-.5-.4 .5 .4-.5-.4 .5 .4-.5-.4 .5 .4-.5-.4 .5 .4-.5-.4 .5 .4-.5-.4 .5 .4M349.5 288.9l1.1-.2 1.8 .2 1.4 1.2 .4 1.1-1.3 2-3.1 1.8M382.8 280.5l2.9 .8 5.1-1.6 4.8-.5 1.7 .3 .3 1.1M298.5 308.3l.2 .6-.6 0 .6 0-.3 .5 .4-.5-.6-.2 .5 .4-.7 1-.9 .8-1.2 .1-2.6-1.3-1.7-2.4-.2-1.2 .3-1.2 3.7-1.7 1.1-1.4 .3-2.4-.4-.4-1.1 .4M314.2 289.2l.6 0 .3-.5 .1 .6 1.2 .2 1.7-.8 6.2-5.6 .8-1.6 0-1.1M289.9 403.6l6.4 1.2 2 1.3 .8 1.6 .4 2.4-.4 1.1-2.2 2 .3-1.2 .3 .5 .6 0-1-.5 .4 .5M279 364.1l-2.7 9.8 .3 1.8 1.1 .4 6.5-.9 8.2-1.9 1.6-.7 1.8-2.4 3 0 2.4-1.7-.3 .5M295.3 348.3l-3.5-.6-6.6-.2-.4 1.1 .4 2.9 .7 1.7 1.3 1.2 7.1 4.6 5.4 2.5 .8 1.6-.1 1.8M334.7 314.1l-7.8-3.2-12.3-2.7-2.9-.2-2.9 .8M397.5 355.6l3.4-1.1 .4-1.7-.2-1.8-1-1.6-1.4-1-2.3-.8-1.8 .1-.7 .9 .2 2.3 .6 1.1 1.1 .4 .9-.7 0-.6-.8-.8-.2 .6 .6 .2-.3-.5-.1 .5 .4-.4-.6-.1 .3 .5 .1-.6-.4 .5 .6 .1-.2-.5-.3 .5 .5-.3-.4-.3 0 .6 .2-.6-.4 .4 .5 .3-.1-.6-.3 .5 .5-.3-.4-.3 0 .6 .2-.6-.4 .4 .6 .2-.2-.5-.3 .5 .5-.3-.5-.3 .2 .6 .1-.6-.4 .4 .6 .2-.2-.5-.3 .5 .5-.3-.5-.3 .2 .6 .1-.6-.4 .4 .6 .2-.2-.5-.3 .5 .5-.3-.5-.3 .2 .6 .1-.6-.4 .4 .6 .2-.2-.5-.3 .5 .5-.3-.5-.3 .2 .6 .1-.6-.4 .4 .6 .2-.2-.5-.3 .5 .5-.3-.5-.3 .2 .6 .1-.6-.4 .4 .6 .2-.2-.5-.3 .5 .5-.3-.5-.3 .2 .6 .1-.6-.4 .4 .6 .2-.2-.5-.3 .5 .5-.3-.5-.3 .2 .6 .1-.6-.4 .4 .6 .2-.2-.5-.3 .5 .5-.3-.5-.3 .2 .6 .1-.6-.4 .4 .6 .2-.2-.5-.3 .5 .5-.3-.5-.3 .2 .6 .1-.6-.4 .4 .6 .2-.2-.5-.3 .5 .5-.3-.5-.3 .2 .6 .1-.6-.4 .4 .6 .2-.2-.5-.3 .5 .5-.3-.5-.3 .2 .6 .1-.6-.4 .4 .6 .2-.2-.5-.3 .5 .5-.3-.5-.3 .2 .6M379.2 338.5l1.2 1.4 .3 1.1-1.3 1.1-2.4 .2-2.3-.5-2.8-1.2-1.4-1.1-.6-1.7 1-1.4 2.4-.3 2.2 .7 1.2 1.3-.1 .6-.6 .3-1.1-.3-.3-.6 .6 0 .1 .6-.5-.3 .5-.3 .2 .5-.6-.2 .6-.3-.1 .6-.5-.3 .5-.3-.1 .6-.5-.4 .6-.1-.4 .4-.3-.5 .6 .1-.3 .5-.3-.5 .6 0-.2 .5-.4-.4 .5-.2 .1 .6-.5-.3 .5-.3 .2 .5-.6-.2 .6-.3-.1 .6-.5-.3 .5-.3-.1 .6-.5-.4 .6-.1-.4 .4-.3-.5 .6 .1-.3 .4-.3-.5 .6 0-.1 .6-.5-.4 .6-.2 .1 .6-.5-.3 .5-.3-.1 .6-.5-.3 .6-.3-.2 .6-.5-.4 .6-.1-.5 .3 .2-.6 .5 .3-.5 .3-.1-.5 .5 .2-.4 .4-.2-.6 .6 .2-.4 .4-.3-.5 .6 .1-.4 .4-.2-.6 .6 .1-.1 .6-.4-.4 .5-.2 0 .6-.5-.4 .5-.2-.1 .6-.4-.4 .5-.2-.2 .6-.4-.5 .6 0-.4 .4-.2-.5 .6 0 0 .6-.5-.3 .5-.3 .1 .6-.5-.3 .5-.3-.1 .6-.5-.3 .6-.3-.2 .6-.4-.4 .5-.1-.5 .3M331.9 406l-3.8 1.7-1.8 .1-2.2-.9-1.7-1.7-.9-2.8 .9-5.9 0-1.8-5.8-9-1.7 .8-.7 .9-.7 2.9 1 2.8 2.3 2.6 .6-.1 .2-.5-.5-1.8 .4 .5-.3-.5 0 .6-.1-.6 .4 .5-.4-.5 .4 .4-.4-.5 .3 .5M342.4 377.3l-.6-1.6 .3-1.8 1.1-1.4 3.3-2.6 .7-1.6-.5-4.2-1.9-3.1M311.5 384.8l-2.6 1.6-2.3 .3-3.4-1.1-1.8-1.6-.6-1.7-.1-1.8 2.3-7.4 1.2-2.1 1.4-1.1 2.2-.8 1.8-.1 1.7 .4 1.5 1.1 2.7 3.9M257.5 314.6l1.7-.6 4.8-.6 4.4-1.8 8.4-6.7 .6-.1 1.4 1.2M303.9 371l2.8-2.1 3-.6 2.2 .8 2 2.2M279.6 409.3l-.5-.4 .1 .6 .8 .9 2.9 .9 .9 .8 .7 1.6 .2 3M287.4 398.5l.9-.8 .4-1.1 .2-7.8 .6-2.9 .9-1.6 3-2.9 3.3-5.7M379 265.3l-4.9 8.9M267.7 328l.6 .2-.6-1.1-1-.4-.6 1 .1 2.4 .9 2.2 3 3.7 1.1 2.2 .7 3.5-.4 3.5-3.1 5.8-2.7 3.2-2.6 1.5-5.2 1.5M378.5 395.5l.4 .5-.3-.5 .4 .5-.4-.5 .4 .4 .4-.5 .3-3.6 .9-1.5 3.2-2.7 2.3-.7M372.9 342.1l-4.6-1.6-3.9-2.7-5.8-1.5-10-5.3M331 321.4l-4.7-1.2-3.6-3.2-5.3-.1-1.1-1.4-1.4-3.9-2.4-1.8-1.8-.3-1.8 .2-3.7 1.9M375.2 300.4l4.8 .3 2.3 .7 1.5 .9-.4 4.2 .1 3.6M306.5 336.3l.6 .1-.6 .2 .8 .8 2.2 1 2.4 .1 3.6-.5 .5 .2 2.1 2.9 2.1 1.2 1.1-.2 1.4-1.2 2.8-3.9 .3-.5-.7-.9 .5 .3M372.1 325l2.3-.7 .9-.8 .5-1-.2-2.4-1.9-6.3-.1-3 1.1-2.7 2.7-1.3M272.1 385.2l-.9 2.2-1.2 5.2-1.4 2-6.4 3.1-3 0-1.1-.3-.4-.5 .3 .5M287.8 265l.3 2.4 1.3 4 .4 2.3-2.3 10.5-2.4 .2-1.7-.5-1-.7-.2-1.1 1.4-4.6-.9-2.8-1.3-2-1.7-.3-3.2 1.7M304.1 414.4l0 .6-.4-.4 .2-1.2 3.5-2.3 2.6-3.2 1.5-1.1 1.7-.3 1 .7 0 3M294.5 311.6l-2.6-1.4-3.4-3.4-1.7-.6-1.7-.1-1.8 .5-1.4 1.1-1.2 1.3-.1 .6 0-.6M302.1 372.6l2.7-4.6 .2-1.2-1.5-.9-1.7 .4-1.1 1.4 .3 1M406 295.2l-5.6 4.4-1.4 2 .3 2.4 1.9 3 .5 .2 1.5-1 .9-.8 .2-1.2M321 265l3.8 1.7 5.4 .5 4.8 2.4 1.8 0 .9-.8 .1-1.2-.7-.9-1.1-.3-.5 .5 .9 .7 .2-.5-.5-.1 .3 .5 .1-.6-.6 .2 .5 .4-.1-.6-.4 .4 .5 .2-.1-.6-.4 .5 .6 .1-.2-.5-.3 .5 .6 0-.4-.5 0 .6 .5-.3-.5-.3 0 .6 .5-.3-.5-.3 .1 .6 .4-.5-.6-.1 .2 .5 .3-.5-.6 0 .4 .5 0-.6-.5 .3 .5 .3 0-.6-.5 .4 .5 .2-.1-.6-.4 .5 .6 .1-.2-.5-.2 .5 .6-.1-.5-.4 0 .6 .5-.3-.5-.3 0 .6 .5-.4-.5-.2 .1 .6 .4-.5-.6-.1 .2 .5 .2-.5-.6 .1 .5 .4 0-.6-.5 .3 .5 .3-.1-.6-.4 .4 .6 .2-.2-.6-.3 .5 .6 .1-.3-.5-.2 .6 .6-.2-.5-.4 0 .6 .5-.3-.5-.3 0 .6 .5-.4-.6-.2 .2 .6 .3-.5-.6-.1 .3 .5 .2-.6-.6 .2 .5 .4 0-.6-.5 .3 .5 .3-.1-.6-.4 .4 .6 .2-.2-.6-.3 .6 .6 0-.3-.5-.2 .6 .6-.2-.5-.4 0 .6 .5-.3-.5-.3 0 .6 .5-.4-.6-.2 .2 .6 .3-.6-.6 0 .3 .5 .1-.6-.5 .3 .5 .3 0-.6-.5 .4 .5 .2-.1-.6-.4 .5 .6 .1-.2-.6-.3 .6 .6 0-.4-.5 0 .6 .5-.3M309.9 322.7l1.4-2.6-.5-1-1.3-1.2-3.1-1.8-2.3-.8-1.2 .2-1.4 1.1M322.2 325.6l-3.1 7.2-1 4.6 .6 1.1 1.7 .3 3.9-1.5 1.4-1.1-.6 0 .6-.1M294.9 312.6l-3.5-.5-5.1-1.9-4.8-.5-.8-.7-.1 .5M305.3 345.5l0 6.6 2 1.2 2.4-.2 5.3-2.6 4.8 .5 4.7-1 2.3 .3 1.3 1.2 .5 1.7-1 4.7M346.4 267.5l.5 .3-.6-.2 .4 1.1 2.9 4.6 .8 2.9-.5-.4-1.5 1-2.3 2.7M278.7 294l.2 3.6 .3 .5 .6 0 4.9-2.3 2.8-2.2 1.2-2.7 0-3.6-.8-1.6-2.3-.8M347.2 376.4l1.3 1.2 1.2 2.1 1 2.8 .3 2.4-.8 1.6-1 .5-1.2 0-2.7-1.4M257.4 391.7l1.4 4.6-.4 1.1-.4-.4 .1 .6M313.2 376.3l2.9 2.1 1.2 3.4 .4 2.3-.2 1.2-2.2 .7M336.4 402.3l-.7-1-.3-1.1 0-4.8 .4-1.8 1.6-1.7 5.3-2.9 1.6-1.7-.3-1.7-2.5-1.6M335.9 316.3l1.1-2.1 1-.7 5.3-.5 1-.6 .8-1.7 .2-2.3-.2-1.8-.9-1.5M401.6 316l-.4 .4 .4-.5-.6 .2 .6-.1-3.1 2.9-.5 1 3.7 3.1M283.6 387.2l-1.1-2.1-.3-1.8 .3-2.3 .8-.9 1.1 .1 2.6 1.5 1.8 .2 3.4-.8 2.3-2M319.4 332l-.9 2.2-.6 .3-1.1-.1-3-2-1.9-3 .2-1.8 1.9-1.4 3.5-.6 1 .5 .2 .6-.5 .3-.5-.4 .6 .1-.6-.2 .6 .2M406.2 271.7l-6.6 0-1.2-.4 0-1.1M291.9 309.1l-2.6-4.7-2.4-2.6-.8-1.7 .5-1.7 3.6-4 .2-4.2M271.8 275.2l-4.1 4.3 1.8 1.4 3.5 .7M257.4 343.9l2.7-2.4 .5-1.7-.9-1.5-2.1-1.2M297.8 348.2l-2.3-.8-.9-.8-.2-1.1 .8-1.6 2.2-.9 2.4 .1 1.5 .9 .3 1.2M289.3 398.3l.9-1.6 1.8-7 1-1.4 1-.7 1.2 .1 1.8 4.4 2.4 1.8 1.6 .6 1.8 0 1-.7 .6-1 0-.6-.6-.3-.5 .2 .4 .5M275.3 265.1l-1.8 3.7-4.5 4.8M269.3 356.1l-.8 1 .2 .5 1.7-.5 1.4-1.1 1.6-2.5 1.8-4.5 1.5-1.8 .2 .6-.5-.4 .6 0-.2 .6 0-.6M303.8 412.3l5.9-6 1.6-.8 1.8 0M261 314l2.2 .9 .7 1.6-.2 3-1.4 5.8 .7 7.2-.8 .7-4.2 0M269.5 316.9l.5-.3-.5-.3-.2 .6 .6-.1-.3-.5-.4 .4 .6 .2 0-.6-.5 .1 .4 .4 .3-.5-.6 0 .2 .6 .5-.4-.6-.2 0 .6 .5-.4-.5-.2-.1 .6 .6-.1-.4-.5-.4 .5 .6 .1 0-.6-.6 .2 .5 .3 .2-.5-.6 0 .3 .5 .4-.4-.6-.1 .2 .6 .5-.4-.6-.2 0 .6 .5-.3-.5-.3-.2 .6 .6-.1-.2-.5-.5 .3 .6 .3 .1-.6-.6 .1 .4 .4 .3-.5-.6 0 .2 .6 .5-.4-.6-.2 0 .6 .5-.4-.5-.2-.1 .6 .5-.1-.3-.5-.4 .5 .6 .1 0-.6-.6 .1 .5 .4 .3-.5-.6 0 .2 .5 .5-.4-.6-.1 .1 .6 .4-.4-.5-.2-.1 .6 .6-.1-.4-.5-.3 .5 .6 .1-.1-.6-.6 .2 .5 .3 .2-.5-.6 0 .3 .5 .4-.4-.6-.1 .2 .6 .5-.4-.6-.2 0 .6 .5-.3-.5-.3-.2 .6 .6-.1-.2-.5-.5 .4 .6 .2 .1-.6-.6 .1 .4 .4 .3-.5-.6 0 .2 .6 .5-.4-.6-.2 0 .6 .5-.4-.5-.2-.1 .6 .5-.1-.3-.5-.4 .5 .6 .1 .4-.5-.5-.4-1 .6 .1 1.2 1.2-.1 1.3-1.1-.5-1.6-2.2-.9-1.6 .7-4.1 9.9M331.6 311.2l-3.1-1.7-3.9-2.9-1.1-2.7 .1-4.2-1.3-1.2-2.8-1-1.6 .5-2.2 4.2-1.2 1.4-5.4 3.8M306.6 335.6l-.3 1.1 .3 1.2 1 1.5 1.7 1.6 5.4 2.7 5.2 4.1 1.7 .5 4.7 0 1.5 1 1 1.5M278.2 365l-1.2 2.1-3.4 3.3-.7 2.3 0 4.2M373.1 362.2l-4.8-.2-1.8 .4-2.3 1.9-1.2 2.6 .3 .6 1.1 .4 3 .4 5.3-.5 .5-.3-1.7-.7 1 .6-.4-.4 .6-.1-.6 0 .4 .4-.6-.2 .5-.4-.6 .1 .6 .2-.6 .1 .6-.1-.6 .1 .6 0-.6 0 .6 0-.6 0 .6 0-.6 0 .6 0-.6 0 .6 0-.6 0 .6 0-.6 0 .6 0M345.1 288.8l-5.4 2.7-6.1-2.1-1.8 .2-4.3 2.1-1.8 .1-1-.7-.6-1.7 .2-1.7 2-5.1-.2-1.7-.8-1.6M348.2 323.1l.5-.2 .1-.6-.4-1.1-1-.6-1.2 0-7.4 3.9M374.4 354.2l.6-.1-.5-.3 .3 .5-.2-.6-.2 .6 .6-.2-.5-.3 .3 .5-.1-.6-.3 .5 .6-.1-.5-.3 .3 .5-.1-.6-.3 .6 .6-.2-.5-.4 .3 .5-.1-.5-.3 .5 .6-.1-.3-.5-.3 .5 .6 .1-.4-.5-.1 .6 .5-.3-.5-.3 .3 .6-.1-.6-.3 .5 .6-.1-.3-.4-.3 .4 .6 .1-.4-.5-.1 .6 .5-.3-.5-.3 .3 .6-.1-.6-.3 .5 .6-.1-.5-.3 .3 .5-.1-.6-.3 .6 .6-.2-.5-.4 .3 .6-.1-.6-.3 .5 .6 0-.5-.4 .3 .5-.2-.6-.1 .6 .5-.2-.5-.4 .3 .6-.1-.6-.3 .5 .6-.1-.5-.3 .3 .5-.2-.6-.2 .6 .6-.2-.5-.3 .3 .5-.1-.6-.3 .5 .6-.1-.5-.4 .3 .5-.1-.5-.3 .4 .6 0-.2-.5-.5 .4 .6 .2-.1-.6-.5 .4 .6 .2-.1-.6-.5 .4 .6 .2-.1-.6-.5 .4 .6 .2-.3-.5 .1 .5 .2-.5-.6 .3 .6 .2 0-.5-.6 .3 .6 .2-.1-.6-.4 .5 .5 .1-.2-.5-.2 .6 .5-.3-.5-.3 .3 .5-.1-.6-.4 .5 .2 .6 .6 .2 .5-.3 .4-1.1-.4-1.1-1-.7-1.1 .4-1.6 1.8-1.1 .4-3.5-1.1-1.7-1.5 .1 .6-.2-.5M257.6 349.2l2.2 1 .6 1 .4 1.7-.8 2.2-2.3 1.8M298.3 309.4l3.3-2.5 1.1-.3 1.2 .2 .7 .9 .1 1.2-1.6 4.5M372.4 381l-3.9-1.4-1.2 .1-.9 .8-.4 2.3 1.8 4.5M385.6 379.7l0-1.2-1.4-1.9-4.6-3.9-2-1.2-.6 .1-.3 .6-.1 3.6-.6 1.6-.9 .8-1.2 .2-1.1-.5 .2-.6 .5 .4-.5-.3M346.4 267.5l.5 .4-1.1-.5 .4 .4 0 .6-1.2 2.1-1.4 1.1-1.1 .2-.9-.8-1.7-3.2-1.6-1.8-1.6-.8-1.7 .2M261.1 381.5l.7-.9 1.8-.2 2.2 .8 1.5 1 1.1 2.1 .4 4.7M385.7 380.3l3.6 .1 .8-.9 0-.6-1.6-2.4-4.6-2.9M283.6 398.2l-.1 3.5 1.1 2.1 8.5 7.5 3.3 1.6 .6 .1 .2-.6 1 .5-.5-.3M385.4 345.3l1.2 7.1-.1 .6-.6 .3-.9-.8-1.2-2.1-1.4-1.1-4.9-2.2-2.9-.7-1.2 .2-1.3 1.1-2.6 5.4-1.8 .1-1.6-.7-.4-.4 .3-.6-.1 .6M267.3 335.3l1.3 2 .6 2.3-.8 2.3-1.5 .8-.9-.7-.3-1.2-.2-3.5 .4-.5 .9 .7 .6 1.1-.2 1.7-.6 .1-.3-.6 0-1.1 .5 .2 .1 .6-.4 .4 .1-1.3 .1 1.1-.2-.5 .5 .1-.2 .6-.5-.3 0-.6 .4-.4 .1 1.2-.5-.4 .1-.6 .4 .4-.3 .6-.1-.6 .4-.4-.1 1.1-.1-1.1 .2 .6-.4 .4-.1-.6 .2-.6 .1 1.1-.1-.6 .5 .3-.3 .6-.2-1.2 .2 .6-.6-.2 .1-.6 .6 0 .1 1.1-.6 .2 0-1.2 .5 .3 0 .6-.6 .1 .2-1.2 .4 1.1-.6-.3 .1-.6 .5 .4-.1 .6-.3-.5 .6-.2 0 .6-.4 .4 0-1.3 0 1.1-.2-.6 .5-.4 0 .6-.2 .5-.2-1.1 .2 .6-.6 .1 .3-1.2 .5 1.1-.4 .5 0-1.2 .2 .6-.3 .4 .1-1.1 .1 1.1-.1-.5 .5 .3-.4 .5-.1-1.2 .2 .6-.6 0 .3-1.1 .5 1.1-.3 .5 0-1.1 .2 .5-.4 .5 .1-1.2 .1 1.1-.2-.5 .6 .2-.2 .5-.4-1 .3 .5-.6 0 .3-1.1 .5 1.1-.3 .5 0-1.2 .2 .6-.5 .4-.1-.6 .2-.5 .3 .5M389 352.9l0 1.8-1.3 3.3 .1 1.8 1.1 1.4 1.5 .9 1.2-.2 .8-.8M337.8 312.1l-.7-1.6-2.7-2.4-.5-1.7 1.1-2.1 2.6-1.3M311 384l-3.6-.3-2.6-1.4-.7-2.2 .5-4.8M288.8 268.4l4.3 8.5 2.1 2.1 1.7 .7 .6 0 .9-.8 .6-3.5-.7-4.8-1-1.5-.5-.3-.2 .6M402.4 378.6l-4.7-.6 .1-1.8 1.2-2 2.5-1.6 1.1-1.4 2.5-1.5M290.1 306.7l-1-1.4-1.5-1.1-7.1-3.2-.1-.6 .7-.9 5.3-3.9M337.5 394.9l2.4-.5 5.3 0 1.7-.7 .6-1-.1-1.8-.5-3-.9-1.5M309.6 389.6l-.5 1.7 .4 1.7 5.2 6.6 2 1.2 .8-.8 .8-2.9-.1-1.7-.7-1.7M335.4 338l.4 5.4 3.6 1.9 .7 .9 0 2.4-.7 2.3M339 287.9l-3.4-2.5-4.5-1.6-3.1-3.6M364.1 378.5l-3.3 3.6-5.3 .5-3.6 3.9-2.8 1M291.2 275.6l1.2 4.6 2.9 4.5-.3 2.4M265.2 278.4l-2.3-.5-1.7-1.7-.3-2.9 1-3.5 1.2-1.3 1.5-.9 2.9-.9 2.4-.2 .6 .2 .2 1.1-1.2 2.8M401.7 297.5l-7.4 4-1.7 0-1.4-1.1-1-1.5 1.2-5.2M406 394.1l-1.2 .4-.8 .9-.9 2.8-.6 4.8 .6 7.2M341.9 396l3.6 0 2-1.2 .4-1.1-.5-3.6M335 336.1l.3 .5-.7-1.6-.2-2.4 1-2.1 1.5-.9 1.2 0 1.3 3.3-.6-.1M382.4 368.6l-1.6-2.5-.6-3 .3-1.7 2.3-2.8-.7-5.9-.6-1.7-1-1.5-3-2M406.2 394.3l-1.2 1.1 .2 1.2 1.2 1.3M405.8 274.3l-7.7 .2-.5-.4 0-1.2 .9-2.8M298.8 308.7l-1.4 4.6 .3 1.1 1.5 2.6 0 1.1-.5 .4 .1-.6M268.6 332.2l9.3 6.6 2.3 .3 3.5-1.1M334 334.5l-2-3-1-.6-1.8-.2-2.3 .7-1.4 1-.5 1.1 .2 1.8M288.2 374.3l3.4-1.3 .2-1.1-.4-1.2-1.6-2.5-2.1-2.1-2.9-2.2-1.6-.5-1 .6-.6 1.1-.1 2.3 .8 1.7 .9 .7 1.7-.1 .1-1.1-.5-.4-.2 .6 .5-.3-.6-.2 .4 .5-.4-.5M305.1 264.9l-.4 1.8-.8 .8-3.5 .9-3.6 .3 .6-.1M379.7 395.3l2.4-1.8 8.4-3 1.8 0 1.5 1M395.6 406.7l2.1 1 1.4 2 .3 2.3-.5 1.1-.9 .7-1.7 .5-1.8-.1-1.6-.8-2.9-2.2-1.6-.6M364.1 329.5l2.3-.3 3 .4 2.7 1.2 3.6 2.3M353.8 354.1l-2.7-4.7 0-1.7 1.8-1.5 6.9-3.7 1.6-1.7-.5-1.6-3.5-3.3M361 329.3l.6-2.3 2.4-4.2 1.6-.6 3.5 .9M406.2 406.6l-1.7 3.2 .2 2.3M312.9 285.7l-.6-1.7 .1-1.2 1.3-2.7 1.1-1.3 6.3 1.5M382.8 341l7.3 4 1.6 5.8M349.4 322.3l-.5 .3 1.2-2.1 4.8-6.1 1.9-1.5 .6-.1 .4 .4-.4 .4 .4-.5M313.3 360.3l-.1 .6 0-.6-.1 .6-.6 0-1.3-1.9-.2-1.8 .5-1.1 3.2-2.7 4-1.1M335 401.2l-1.9-2.2-2.9-.1-1.6-4.5-1.2-2.1-1.4-1.2-4.1-2.5-3-2.9M352.9 278.5l5-3.2 .2-1.2-.5-1.7-1.2-1.2-.3 .5M405.9 357.4l-1.6-.8-.5-1 0-2.4 1-5.3-.4-1.8-1.1-.4-5.4-.4-2.7-1-3.8-4.7-3-2-.4-1.6M392.5 370l.6-2.9 1.6-.6 2.3 .6 5.8 3.2 1.2 .1M257.7 345.1l3.9-2.8 .9-2.1-.2-1.2-1.2-1.4-3.2-1.5M358.8 394.1l.4-1.1-.5-.3-1 .5-3.7 5.4-.2 2.4 1 6.5-1.1 5.9M305.8 336.2l1.2-.2 .3-.4 .1-1.8-3.6-8.3-.9-.6-1.8 2.2-3.6 .4M347 405.8l1.3-2 .9-.7 1.2-.3 1.1 .3 1.4 1.1 1 1.5 .5 1.7-.1 2.4M361.4 330.8l-2.5-1.6-.3-1.7 3.5-5.6 1.9-1.2M342.9 376.3l.4-1.2 .8-.8 4.6-1.5 1.3-1.2-.2-2.4-1.8-3.1M359.6 302.3l-3.4 3.3-.8 2.3 .1 1.7 .7 1.7 1.7 1.6M383.2 396.2l3.5 2.3 1 1.5 .3 1.1-.2 1.8-.6 1.1-3.5 3.2M285.2 265l-1.6 1.8-1.2 2.7-6.5 4.4M309.4 324.1l.9-1.5 1.1-.4 3-.1 2.3 .5 2.1 1.2 1.1 1.4 .1 1.8-.8 .8M365.7 377.5l-3.6-.1-1.5-1 .1-1.7 1.5-2.6 1.6-1.8 1.6-.9 8.2-1.6-.5-.3M382.9 281.9l1 2.2-1.4 4.6 .3 2.3 1.5 1 1.7-.4 1-1.4 0-1.8-1.2-2-.5-.4-1.1 .4-1.2 2.1 0 1.8 1.3 1.1 1.1-.2 .8-.9 .2-1.1-.3-1.2-1.4-1.1-1.2 1.2-.3 1.8 .5 1 .6 .3 1.5-.8 .1-1.8-1.1-1.2-1 .6-.5 1.7 .6 1.1 .5 .2 1.1-.5 .3-1.2-.8-1.5-1 .2-.6 1.7 .6 1 1.2-.1 .5-1.1-.8-1.6-1 .4-.4 1.1 .4 1.1 1.2 0 .5-1-.4-1.2-.5-.3-.9 .6-.2 1.2 .8 .9 1-.6 0-1.2-.8-.8-.9 .7 0 1.2 .4 .5 1.1-.3 .2-1.1-.7-.9-.9 .7 0 1.1 .4 .5 1-.4 .1-1.2-.9-.7-.4 .4-.3 1.2 .8 .7 .6-.2 .2-1.2-.7-.9-.5 .3-.4 1.1 .7 .9 .6-.2M339.7 402.7l-2.3 .4-3-.2-5 1.9-1.8-.2-.5-1 .1-1.2 1.5-4.5 0-1.8M378.8 396.2l-.4-.4 .3 .5-.4 .4-2 1.2-4.2-2.1-1.8-.1-2.3 .6M289 409.4l2.4 3.4 2.6 1.5 2.3 .6 .7-2.3M385 360.5l4.5 3.9-1.4 1.1-1.7 .6-1.2-.2-.4-1 1.2-.3 .5 .2-.2 .6-.6 0-.2-.6 .6 0 .3 .5-.6 .1-.4-.4 .6-.1 .4 .4-.6 .1-.4-.5 .6-.1 .4 .5-.6 .1-.4-.4 .6-.1 .4 .4-.6 .1-.4-.5 .6 0 .4 .4-.6 .1-.4-.4 .6-.2 .4 .5-.6 .1-.4-.5 .6 0 .4 .4-.6 .1-.4-.4 .6-.2 .4 .5-.6 .1-.4-.5 .6 0 .4 .4-.6 .1-.4-.4 .6-.2 .4 .5-.6 .1-.4-.5 .6 0 .4 .4-.6 .1-.4-.4 .6-.2 .4 .5-.6 .1-.4-.5 .6 0 .4 .4-.6 .1-.4-.4 .6-.2 .4 .5-.6 .1-.4-.5 .6 0 .4 .4-.6 .1-.4-.4 .6-.2 .4 .5-.6 .1-.4-.5 .6 0 .4 .4-.6 .1-.4-.4 .6-.2 .4 .5-.6 .1-.4-.5 .6 0 .4 .4-.6 .1-.4-.4 .6-.2 .4 .5-.6 .1-.4-.5 .6 0 .4 .4-.6 .1-.4-.4 .6-.2 .4 .5-.6 .1-.4-.5 .6 0 .4 .4-.6 .1-.4-.4 .6-.1 .4 .4-.6 .1-.4-.5 .6 0 .4 .4-.6 .1-.4-.4 .6-.1 .4 .4-.6 .1-.4-.5 .6 0 .4 .4-.6 .1-.4-.4 .6-.1 .4 .4-.6 .1-.4-.5 .6 0 .4 .4-.6 .1-.4-.4 .6-.1 .4 .4-.6 .1-.4-.5 .6 0 .4 .4-.6 .1-.4-.4 .6-.1 .4 .4M369 409.8l-3.6-.3-4.6 2.6-4.1 1.1M310 265.1l.8 2.8-.2 1.2-1.5 .9-2.3-.3M383.8 294.7l3.6 0 2.7-1.2 .8-1.6-1.2-3.4M383.2 321.5l-5.1-4.1-1.3-2-.9-2.9M402 316l-1.2-.1-1.6 .8-1.8 1.6-.5 1 .6 1 4 2.6M331.2 321.6l.5 .3-4.3-1.9-4.1-4.4-2.9-.7M393.7 376.4l.2-2.9 1.5-1.8 2.3-.6 4.1 1 .5-.4M285.5 397.8l.1-.6-.6-1.1-3.8-3.8-.6-.1-1.4 1.9-.4-.5 0 .5-.2-.5 .1 .6-.2-.6M349.8 316.9l2-3.7 1.7-1.6 1.8-.1 2.6 1.5M376.4 277.7l.5-.3-.6-.3-.4 .5-.4 1.1 .3 .5-.4 .5-1.7 .6-1.8 0-4.7-.9-2.3 .8M257.7 370.8l3.8-1.9 2.9 .1 4.2 2.4 2.5 3.3M331.5 409.3l-2.5 2.6-1.1 2.1 .4 .3 2.4 .3 2.3-.4 2.1-1.2 1.2-1.3 .3-1.1-.3-.6-2.1-1.1-1.8 .1-2 1.3M270 335.4l1.8 3.1 1.4 5.2-.3 4.8-.4 1.1-.9 .8M356 265.4l-1.2 4 .9 1.4 1.2-.1-.6 .3M359.5 393.7l-.6 .1 .6 .2 .3-.5 1.6-4.5 1.4-1.1 1.7 .1 1.5 1 .6 1.1 0 1.8M335.3 394.4l.5-1.7 2.5-3.3 .5-2.4-.7-1.6-1.1-1.4-3.7-3.1M379.8 371.9l-2.9-2.2-1.2-.3-.5 .2 1.2 4.7-.1 2.3M369.5 360.4l-2.7-2.4-3.7-4.7-.3-1.7 1-1.5 .5-.1 1.1 .5 .5 1.6-.3-.5 0 .6-.1-.6M388.2 412l-1.2 .2-1.3 1.1-.6 1.7 .4 1.1 1.1 .1 1.4-1.1 .7-.9 .1-1.2-.5-.4-1.2 .1-.9 .8-.1 1.2 1.2 0 .8-.8 .1-.6-.6-.3-1 .7 0 .6 .6 0 .6-1-1 .4 .3 .6 .7-.8-.5-.2-.5 .4 .1 .6 .9-.8-.5-.2-.5 .4 .1 .6 .9-.8-.5-.2-.5 .4 .1 .6 .9-.7-.5-.3-.5 .3 0 .6 1-.6-.5-.4-.5 .4 0 .6 1-.6-.5-.4-.5 .4 0 .6 1-.6-.5-.4-.5 .4 0 .6 1-.6-.5-.4-.5 1 1-.6-.5-.4-.5 1 1-.6-.5-.4-.5 1 1-.6-.5-.4-.5 1 1-.6-.5-.4-.5 .4 0 .6 1-.6-.5-.4-.4 .4-.2 .6 .6-.1 .5-.4-.4-.5-.7 .9 .6 0 .4-.4-.3-.5-.7 .9 .6 .1 .4-.5-.1-.5-.9 .7 .5 .3 .6-.9-1 .5 .4 .5 .6-.9-.6-.1-.4 .4 .2 .6 .8-.8-.5-.2-.5 .4 .2 .6 .8-.8-.5-.2-.5 .4 .1 .6 .9-.8-.5-.2-.5 .4 .1 .6 .9-.7-.5-.3-.5 .3 .1 .6 .9-.6-.5-.4-.5 .4 0 .6 .6-.1M259 409.7l.8-2.9-.6-1.7-1.7-2.4M304.4 284.3l-.5-6-1.1-4-1.8-3.1-2.4-1.7M405.1 327.3l.6 8.3-.3 1.8-1 1.5-1.4 1.1-2.1 1.1-1.8 .1M314.8 288.5l.3 1.1 1.2 1.3 1.1 .4 1.2-.1 1.3-1.2 3.6-4.8M334.9 337.6l-.9 1.5-1 .7-3 .2-2.1-1.1-2.1-2.8M264.4 416.7l4.4-2 2.3-.6 1.6 .6 1.1 2.1M355.5 355.2l.6-.1 .3-.5 .3 .5 .1-.6 .3 .6 .3-1.8 1-2.2 2.3-2.7 1.9-1.5M279.4 408.9l-.6 .2-.4 1.1-.9 6.5M337.7 315l1.2 0 1.6 .7 1.2 2.1-.3 1.7-.9 1.6-.9 .7-1.2 .2 .2-1.1M390.2 310.1l3.4 1.2 1.2 1.4 0 1.7-1.4 4 .2 1.7M373.7 297.7l-1.2 3.3 .1 2.4 7.1 .9 1.5 .9 1.1 2.1M293.8 372.7l.7-.9 .3-1.2-.1-5.3 .5-1.1 1.2-.1 1 .6 2 3.7 1 .6M370 379.3l-1.4-1.1-.7-1 .5-1.1 1.4-1.1 1.8-.3 1.6 .6 1.4 1.9-.7 .8-.9-.5 .5 .3M304.9 348l-.5 1.7-.9 .8-1.8 .2-5.4-.2-1.1 .4-.9 .7-.2 2.4 1.3 2.7 1.4 1.2 2.3 .4M292.9 348l-2.3 .4-.8 1-.1 1.2 1 2.1 2.7 3.2M316.3 374.5l6 3.8 1.2 1.3 .3 1.2-1 2.2-1.5 1.8-5.3 1M290.8 271.9l2.1 2.9 1.7 .7 1.1-.2 1.2-1.3 .6-1.7 0-2.4-.5-1-.1 .6 0-.6M297.8 311l-1.5 1.9-1.5 .8-7.2 .7-4.2-.3-2.8-.8-1.3-1.3-.2-1.2 .3-1.1 .8-.9 1-.3M279.2 347.4l.3 .5-.9-2.2 .4-1.7 3.6-4M350.1 346.8l2.3-7.4 2.8-3.1-.1-.6-1.5-1.1M324.7 402.6l2.3-7.4-.8-2.3-2.3-1.9M356.8 329.2l-2.2-.9-4.7-1.1-1.7 .3-5 2.1M346.8 406.1l.7-2.3-.3-4.1 2.7-3.2-1.2-2.1M331.4 297l-.4-.3-.2 .5 .5 .2-.1-.6-.6 .1 .3 .5 .5-.4-.4-.3-.2 .5 .5 .2-.1-.6-.6 .1 .3 .5 .5-.4-.4-.3-.2 .5 .5 .2-.1-.6-.6 .1 .3 .5 .5-.4-.4-.3-.2 .5 .5 .2-.1-.6-.6 .1 .3 .5 .5-.4-.4-.3-.2 .5 .5 .2-.1-.6-.6 .1 .3 .5 .5-.4-.4-.3-.2 .5 .5 .2-.1-.6-.6 .1 .3 .5 .5-.4-.4-.3-.2 .5 .5 .2-.1-.6-.6 .1 .3 .5 .5-.4-.4-.3-.2 .5 .5 .2-.1-.6-.6 .1 .3 .5 .5-.4-.4-.3-.2 .5 .5 .2-.1-.6-.6 .1 .3 .5 .5-.4-.4-.3-.2 .5 .5 .2-.1-.6-.6 .1 .3 .5 .5-.4-.4-.3-.3 .5 .6 .2-.1-.6-.6 0 .3 .6 .5-.3-.4-.4-.4 .5 .6 .3 .1-.6-.6-.2 .2 .6 .5-.2-.4-.4-.4 .4 .5 .4 .3-.6-.6-.2 0 .6 .6-.1-.3-.5-.5 .4 .5 .4 .3-.5-.6-.3 0 .6 .6-.1-.3-.5-.5 .4 .5 .4 .3-.5-.5-.4-.5 .4 .3 .5 1.2 0 .1-.6-.3-.6-1-.4-1.1 .4-.3 .6 .9 1.4 1.8 .5 1.6-.5 .5-1.1-.3-2.3-1.8-1.5-2.3 .2-4.3 2.2-2.3-.5M357.8 391.4l-1.2-.1-1.1 .5-5.2 4.1-.5-.2-1.1-1.4-.9-2.2M263.1 371.1l2.4 .3 2.7 1.2 1.8 1.6 1.4 1.9M257.8 376l5.9-.7 3 .4 2.3 .7M350.4 313.3l2.1-4.3-.1-1.1-.7-1-2.4-1.8-5.3-.7-1.1-.6-.6-1M324.6 416.8l-1.4-2.6-1.7-1.6-1.2-.4-1 .4-.3 .5 .4 1.1M348.7 320.8l-1.1-2.8-.9-.8-.6 0-4.9 4.5-2 1.2M267.5 278l-3.4 1.2-1.4 1.9-1.9 6.9 .5 1 1.1 .2 .5-.4 .5 .4M318 265.2l2.9 3 .6 2.3-.9 1.5-3.5 3.3M265.7 304.3l-.5 .2 .1 .6 2.3 .4 2.4-.3 1.6-.8 .7-1 .3-1.1-.5-1.1-1.3-1.3M298.9 308.5l3.5-4.1 1.5-.9 1.2-.1 1.7 .7 .9 1.5-.2 1.8-1.2 2.1M365.2 292.8l-2.3 .5-1.8-.4-1-.6 .3-1.1 4.4-3.3M263.6 284.2l.8 1.6 1.3 1.2 6 0 1.6 .7 1.1 1.4 0 1.2-.7 1.7-2.3 2.7-1.7 .3-1.1-.5-1.2-1.4M328 292.3l-2.3 .6-1.2-.4-.7-.9-.5-2.3 .9-2.8M329.9 390.9l-1.1-2.8-1.2-1.3-5.3-.6-2.9-.7M372.3 410.4l-5.2-2.9-1.9-2.3-.9-4.1 1.3-4.6M322.5 317.9l-1.7 .3-.7 1 1.8 5-.2 1.8-.9 2.2M364.3 275.3l.2 .6-1.3-3.2-2.3-1.9-2.4-.4-2.8 .9 .5-.2M376 333.6l3.1 2.9 1.7 .6 1.8-.1 2.2-.7 4.7-3.7 1.2 .1 .3 .5 .1 1.1-.3 .5M289.8 321.8l-2.5-1.6-1.2 0-.9 .7 .9 3.4-.5 4.1M305.7 337.9l0 2.4 1 5.3 1.1 2.1 1.1 .3 4.7-.9 1.7 .6 3.7 2 1.7 .3M405.1 289.1l-1.6 .9-3.2 3.5-1.7 .6-3-.1-2.9-.7-.8-.9-.8-1.6M347.2 406.6l-.6-.1-.3 .6 .2-.6-1 2.2-.8 3.5 .5 1 .3-.5 .4 .3-.6 .1 .1-.6 .1 .6-.6 .2 .5-.3 .1-.6-.1 .7M347.1 405.4l.2-1.2-.5-1.1-3-2.8-.6-1.1 .6-1 4-2.6M324.6 408.7l-4.4-1.9-1.8 0-1 .7-1 1.5-.8 2.2-.2 1.8M268.6 328.2l-.6 .2 .3 .5 1 .5 .7-.9 .5-3 .8-1.6 1.7-1.6 3.6-2.2 0-1.1-1.4-2.7M346.2 268.4l-.7 1.7-2.7 3.9-2.4 4.9-1.5 .9-3.9 1.4M361.8 378.6l-2.9 .1-2.3-.7-.3-.5 3.6-8.2 .2-1.2-.4-1M304.8 415.4l-.9-.8 .5-1 1.7-.5 2.4-.1 .4 1.1-.9 2.8M393.7 326.4l2.1 1.1 2.9 .7 .7 1 0 4.8-.6 2.3-1.1 .4-2.3-.5M331.1 272.6l8.2 3.6 .4 .5 0 1.2-1.5 1.8M296.8 357.7l1.7 .4 1.8-.4 1.5-.9 .6-1.1-.4-1.1-1.4-1-2.3-.6-1.8 0M260.4 411.3l2.5-1.6 6.4-1.7 4.2-4.2 1.4-1.9M302.9 356.5l1.5-1.9 .6-.1-.3-.6 2.2 .9 1.8 0 4.2-2.3M257.7 321.7l3 9.1-.2 1.1-.5 .4-2.4 .5M343.8 402.4l-4.2-.5-.5-.4-.1-1.2 .6-1.7 .8-.8 4.1-.9M286 391.3l-2.8-6.7-.2-2.4 .7-1.6M261 346.2l4.2-.2 .1 .6 .1 3-.5 2.4-1.2 2-1.4 1.2M358.7 393.8l.6-.2 0-.6-.5-1.1-2.4-1.6-1.8-.2-5.2 1.3M406.3 376.1l-3.9-3.7 0-.6 .8-.9 2.5-1.6M294 372.5l.5-1.1-.3-1.8-4.9-8.1 0-.6 1-.6 4.8 .5M350.8 288.5l6.2-2.1 4.8-.4M348.5 416.7l-.7-4.1 .2-.6 1.7-.5 1.7 .3M275.9 357.4l2.8-2.3 .6 0 1 .6 .8 1.6 .2 1.2-1.4 3.3M406.1 341.8l-5.2 1.7M352.6 351.8l-4.2-5.8-1.8-1.5-2.9-.8-2.4 .2-.8 .8-.1 1.8M262.6 381.4l-.1 1.2-1.6 2.5-.4 1.8 .7 7.1-.5 2.3M298.2 322.6l-1.8-.1-1.4-1.1-.8-1.6-.8-2.9-.7-.9-3.6-.2M395 265.1l-.9 1.5 .1 1.2 1 1.4 1.6 .9M267.6 286.5l5.3-.9 5.3 .7 .5 .4 .1 1.1-.6 3.6M350 345.9l.2-3-.6-1.6-1.4-1.1-5.1-1.9-2-1.2-1.2-1.4-.4-2.4-.4 .5 1.1-.3-.6-.3M304.1 355.9l1.1-.2 1.6 .8-1.6 1.8-4.3 6.5M287.2 403.5l8.3 3.5 1.4 1.1 .8 1.6M374.4 353.5l-.6 1.1 .1 .6 1.7 2.4 .1 .6-1.1 .5-1.8 .1-1.1-.5-2.6-3.2M406.3 383.5l-3 .6-1.6 .8-2.7 3.9M304.7 413.3l6.3-1.7-.3 2.3-2.1 2.9M345.5 374.7l2.9 .2 7.3 2.7 1.3-2M267.4 361.4l-.3 1.7-3.2 2.6 .9 1.5 4.8 4.5M364.2 308.3l-.2 6 .3 2.3 1.2 2.8 2.1 2.1M387.1 382.2l3.6 3.1 3.1 5.9M366 273.1l2.1-3.6 1-.7 1.2 0 .9 .7 .9 1.6 .2 4.7M283.2 387.9l-1.9-1.4-1.6 .6-1.8 3.1-.3 4.2-.6-.1M346.8 341.5l-6.5-1.2-.3 .5 .3 6.6M265 278.8l-1.8 .4-1.4 1.1-4.2 5.8M376.3 414l-2.3 .7-4.2-.3-4.6 1.2-1.2-.1M276.4 365.4l-1.7 .4-3-.7-.5 .3-.4 2.9 .9 4.7M351.5 339.3l-1.2-2-5.7-4.4-3.5-.8-1.1 .2-.6 .3 .5 .3-.6 .1M395.1 398.8l-1.4 1.1-.6 0-.9-.8-.5-1.1 0-2.4 .8-2.8 .7-1 .6 0 .2 1.1M266.2 382.5l1.3 4.6 0 3.5-.9 1.6-5.3 4.9M257.4 314.6l1.2-.2 2.1 2.1 .8 2.3 0 3M309.6 323.4l.9-1.6 2.9-2.2 .4-1.1-1.1-4.6-2.1-2.1M377.1 399.3l-.9 3.4-1.7 1.7-2.4-.3-4-2.6M373.5 297.9l-1.4 2.7-2.3 2.8-.5 1.7 .4 1.1 .9 .8 1.2 .4 1.1-.2M304.7 284.9l.8-5.9-1-4.6M320.2 330l-.9 1.5-1.1 .4-2.8-1.1-1.8-1.6-.4-1.1 .5-1.1 1.6-.9 1.7-.4M360.1 265.1l-3.6 4.7-.4 1.2 .1-.6M268.5 328.4l-.9-4.6-1-1.5-1.1 .4-1.3 1.3-.6 1.6-.2 1.8M343.8 406.3l-3.5 3.2-1.1 .5-4.6-1.5M328.5 309.1l-2.5-2.5-.1-1.8 1.8-1.5 4.6-1.3M368.7 378.7l-2.6-1.5-.3-.5 .3-1.2 1.1-1.4 1.9-1.5 1.6-.7 1.8 0M350.9 344.5l1.5-2.6 1.3-1.2 5.7-1.8 .3-.5-1.2-1.5M332 299.9l2.9-.4 .8-.9 .8-2.3-.3-2.9-1.2-1.3-1.6-.8M349.4 323.5l4.5 1.4 1.8 .1 2.1-1.1 2.4-2.6M290 305.4l-3.4-4.9 .3-1.8 1.5-1.8M360.2 401l1.9-1.5 3-3.7 .2-1.2-.4-1.1 .6 .2-.4-.5M381.8 346.9l-2.3-.1-4.1-1-1.8 .1-1.9 1.4-1.1 2.8M261.7 309.5l.6-1.7 .6-.2 7.2 0 2.7-1.2M364.5 275.1l-3.6 .5-.9 .7 .2 2.4 1.4 5.2M385.9 283l3.5-.8 3 0 4.2 .5 .1 .6-.4 .3 .5 .2-.6 0M278.9 347.2l-.5 .4 .2 .5-.5-.3 5.3 8 1.5 1M346.5 356.2l-2.2-2-2.3-.6-1.8 .4-1.8 1.5M365.7 309.3l2.4 3.4 1.4 1.1 .6 .1 1.7-1.7 2.5-4.1M288.2 400.2l2.3-.5 1.4-1.1 2.3-4.9 1.1-1.4 1.7 .3M389.8 304.4l-.4 .4 2.3-.4 1.7 .5 3.6 3.2 1.9 3-1.1 2.1M264.8 298.4l-2.3-3.4-.4-3 .9-2.8 1.2 .1 .3-.5 1.2-.4M382.9 265.2l-.6 1-3.4 2.5-2.3 2.7M355.1 394.2l-1.8 2.4-.7 1.7 1.9 7.5M307.9 265.3l1.6 3.8-.3 .6-1.2 .3-1.7-.5M324.4 306.1l-.5-1.1 0-1.8 .3-1.1 .8-.9 1.2-.3 6 .3M355.1 355l.1-.6 .4 1.1 .5-.2 .3 1.1 .9 5.3-.3 2.4-1.3 1.1-3.5-.2M353.3 353.5l-1-1.5-1-.7-6.9-2-3 .2-2.1 2.1M279.8 384.3l-3.6-2.2-3.5-.5-1.8 .3-1 2.8M291.1 400.5l2.5-1.6 3.6-4.8 1.1-.2 2.9 .8M267.4 359.6l-.6 1.7-1.2 .2-1.7-.5-4.2-2.3-1.7-.3M401.1 316.1l.5-.3-.6 .2 .6-.2-.6-.1 1.1 .4 4.2 4.2M264.7 382.6l-.1 8.4-1.5 3.9M360.9 301.6l-.7 1-2.5 8.6-.2 1.2 .4 .4 .4-.4M290 265.1l2.7 3.2 1.6 .7 2.4-.2-.6 0M379.7 365.3l-1.5-5.2 2.2-3.5 .2-2.9M270.6 272.8l-2.9 2.1-2.3 .1-1.1-1.4 .2-2.3 1.6-1.7 2.3-.5 .3 .5-.3 1.2-1.4 1-.4-.5 .4-.5 .5-.2-.1 .6-.6-.3 .5-.3 .4 .4-.4 .4-.5-.4 .5-.4 .5 .3-.5 .4-.5-.2 .4-.4 .6 .2-.5 .4-.5-.2 .4-.4 .6 .2-.5 .4-.5-.2 .4-.4 .6 .2-.5 .4-.5-.2 .4-.4 .6 .2-.5 .4-.5-.2 .4-.4 .6 .2-.5 .4-.5-.2 .4-.4 .6 .2-.5 .4-.5-.2 .4-.4 .6 .2-.5 .4-.5-.2 .4-.4 .6 .2-.5 .4-.5-.2 .4-.4 .6 .2-.5 .4-.5-.2 .4-.4 .6 .2-.5 .4-.5-.2 .4-.4 .6 .2-.5 .4-.5-.2 .4-.4 .6 .2-.5 .4-.5-.2 .4-.4 .6 .2-.5 .4-.5-.2 .4-.4 .6 .2-.5 .4-.5-.2 .4-.4 .6 .2-.5 .4-.5-.2 .4-.4 .6 .2-.5 .4-.5-.2 .4-.4 .6 .2-.5 .4-.5-.2 .4-.4 .6 .2-.5 .4-.5-.2 .4-.4 .6 .2-.5 .4-.5-.2 .4-.4 .6 .2-.5 .4-.5-.2 .4-.4 .6 .2-.5 .4-.5-.2 .4-.4 .6 .2-.5 .4-.5-.2 .4-.4 .6 .2-.5 .4-.5-.2 .4-.4 .6 .2-.5 .4-.5-.2 .4-.4 .6 .2-.5 .4-.5-.2 .4-.4 .6 .2-.5 .4-.5-.2 .4-.4 .6 .2-.5 .4-.5-.2 .4-.4 .6 .2-.5 .4-.5-.2 .4-.4"/><ellipse cx="331" cy="353" rx="2.4" ry="1.92" fill="#7a3c88" fill-opacity="0.85"/><ellipse cx="267.8" cy="375" rx="2.0" ry="1.6" fill="#7a3c88" fill-opacity="0.85"/><ellipse cx="367" cy="375" rx="1.6" ry="1.2800000000000002" fill="#7a3c88" fill-opacity="0.85"/><ellipse cx="390.6" cy="340" rx="1.5" ry="1.2000000000000002" fill="#7a3c88" fill-opacity="0.85"/><ellipse cx="294" cy="313" rx="1.5" ry="1.2000000000000002" fill="#7a3c88" fill-opacity="0.85"/>
</g>
<polyline points="359.2,264.9 359.2,344.6 334.2,383" fill="none" stroke="#111" stroke-width="1.35"/>
<rect x="257.4" y="264.9" width="149" height="152.3" fill="none" stroke="#333" stroke-width="1.1"/>
<g fill="#231f20" font-size="11.6" text-anchor="end">
<text x="252.7" y="292.6">200</text>
<text x="252.7" y="324.4">150</text>
<text x="252.7" y="356.2">100</text>
<text x="252.7" y="388.1">50</text>
<text x="252.7" y="420.5">0</text>
</g>
<g stroke="#1a1a1a" stroke-width="1.1">
<line x1="257.4" y1="288.8" x2="261.4" y2="288.8"/>
<line x1="257.4" y1="320.6" x2="261.4" y2="320.6"/>
<line x1="257.4" y1="352.4" x2="261.4" y2="352.4"/>
<line x1="257.4" y1="384.3" x2="261.4" y2="384.3"/>
<line x1="286.7" y1="417.2" x2="286.7" y2="412.6"/>
<line x1="314.9" y1="417.2" x2="314.9" y2="412.6"/>
<line x1="343.2" y1="417.2" x2="343.2" y2="412.6"/>
<line x1="371.4" y1="417.2" x2="371.4" y2="412.6"/>
<line x1="399.6" y1="417.2" x2="399.6" y2="412.6"/>
</g>
<g fill="#231f20" font-size="11.6" text-anchor="middle">
<text x="259" y="431.9">0</text>
<text x="286" y="431.9">50</text>
<text x="315" y="431.9">100</text>
<text x="344.2" y="431.9">150</text>
<text x="373.2" y="431.9">200</text>
<text x="401.3" y="431.9">250</text>
</g>
<text x="330.6" y="447.1" font-size="12" text-anchor="middle" fill="#231f20"><tspan font-style="italic">X</tspan>/mm</text>
<text transform="translate(232,335.8) rotate(-90)" font-size="12" text-anchor="middle" fill="#231f20"><tspan font-style="italic">Y</tspan>/mm</text>
<text x="223.3" y="264.8" font-size="12" fill="#231f20">f.</text>
<clipPath id="cpg"><polygon points="454.5,264.9 603.5,264.9 603.5,350.6 558.3,417.2 454.5,417.2"/></clipPath>
<g clip-path="url(#cpg)">
<g filter="url(#bl)"><rect x="454.5" y="264.9" width="149" height="152.3" fill="#7cc242"/>
<path fill="#58c0de" fill-rule="evenodd" d="M466 264.9l9.3 0 .5 2.5-1.8 1.8-3-.8-2 1.4-3 .4-2-.1-2.2-.7 .2-1.4 2-.8 .9-.8 .6-1.5zM491 264.9l2.8 0 0 .5-.8 1-1 0-1.7-1 0-.5zM505 264.9l4.5 0 0 1.5 1.5 1.1 4-.5 1.5 .4-2.5 2.6-3.7 2.4-.3 1 2 3-1 .7-2 .4-3-.2-1-.1-1-.8-.8-1 .4-1 3.7-2-.1-1-3.2-2-6-.8-2.6 .8-1.4-1 .1-1 .9-.3 6-.5 3-.9 .3-.8zM529 264.9l2.7 0 0 .5-1.7 .7-1.6-.7 0-.5zM542 264.9l4.3 0 .7 1.1 3-.2 2 .5 .4 3.1 1.1 3-.5 .6-1-.2-3.5-1.4-1.5-3.3-3 1.2-1-.1-1.8-1.8 .1-2.5zM571 264.9l1.8 0 0 .5-1.9 1-.4-1.5zM592 264.9l5.1 0-.6 4.5-.7 1-1.8 .8-3.8-1.8-.1-1 1.3-3.5zM567 267.3l1.1 .1 1.9 3.5 3.3 3.5 .1 2-.5 2-.9 1.7-1 .6-3-.9-2.2-2.4 2.5-3-.2-1-3.2-4 .4-1zM476 269.9l2 .4 1.7 1.1 .6 5-1.4 3-1.2 1-1.7 .4-.6 1.6 .5 1 4.2 2 .3 1-1.4 1-3-.3-1.7-1.7-1.3-2.8-2 .1-1.9 1.7-.1 1 .7 1 1.8 1 .4 1-.3 1-1.6 .9-3 0 .8 3.1-1.8 .7-3-1.1-2.8-2.6-3-4 .8-1 1-.3 4 1.6 1.1-.3 1-2-.3-1-3-3-.2-1 .4-.7 5-.9 2 .3 1-1.8 4 .2 2.5-1.1 1-1-1.8-3-.2-1zM580 270.1l1 .3-.3 1-1 0-.4-1zM599 271.4l1 0 1.2 1-.2 .4-1 0zM457 273.3l2-.1 3 1 .5 .2 .1 1-.6 .4-2-1.3-2 .6-2 1.4-1.5 0 0-2.2zM604 273.1l.5 0 0 .9-1-.6zM501 275.1l.4 .3-.4 .2zM532 275.3l5-.2 .4 1.3-.4 1.4-1 1.1-2 .2-2.9-2.7zM579 275.1l2-.5 2.6 .8 1.4 2.4 3 2.1 .4 .5-.1 3 .5 1-.4 1-1.3 0-1.9-1-2.1-3-3.1-1.6-1.7-1.4-.5-1 .1-1zM494 277.4l1-.6 5-.3 .3 .9-2.3 2-2 1-1-.4-1.3-1.6zM516 279.2l2-.5 1.6 2.7 2.4 1 .8 1 0 1-.8 1.4-1.8 1.6-.8 2-5.4 1.1-.7 .9-.1 1 1.1 2-1.3 .8-3-1.6-4-.9-1.1 .7-1.9 3-1-.2-.7-.8-.3-2-1-1.7-1-.6-3.4-.7-1.6-1.7-3-.9-1.7-1.4 1-1 2.7-.3 2-1.3 1 .2 1.1 3.4 .9 .8 2 .7 2 1.6 4 .5 6-3.6 1.6-3 2.4-1.4 .4-.6-.8-2zM547 279.2l2 .2 1.8 1 .1 1-.5 1-1.4 .4-3-.7-.9-1.7zM555 279.3l2 .1 3.9 2 1.2 1 0 1-3.1 2-1 .1-3.5-1.1-1-1 0-3zM604 281.1l.5 0 0 2.8-.9-.5-.3-1zM506 283.6l1.5 .8 0 1-1.5 .6-.7-.6-.1-1zM569 283.9l1-.2 .8 2.7-1.8-.1zM484 285.2l1.7 .2 1.1 1-1.8 1.3-2 .3-.8-.6 .2-1zM578 285.1l2 .1 .1 1.2-1.1 .5-2.7-.5 .8-1zM537 286l2-.3 3.4 1.7-4 4 .2 3-1.8 2 .2 1-1 1.9-1 .5-4-.3-3.6-4.1 .6-1.2 2 .7 1.8-.5-.8-1.7-1-.7-1 .1-2 1.1-1.7-.8-.5-1 2.2-1.3 1 0 3 1.2 2-.3 1.7-1.6 .6-2zM480 289.4l1 .1 .5 .9-.5 1.1-2.1-.1-.2-1zM575 288.9l2.3 1.5 2.9 1 1.8 2.2 3-.3 2-1.3 9-1.5 2-1.5 2-.5 4.5 2.4 0 4-2.5 .1-4-1.1-2 .9-1 .1-1-.8-3 .9-3-.9-1 .3 0 2-1 1-2-.9-1-1.6-1-.5-6 1.4-2.6-2.4 .6-4zM563 292.3l3 .1 1.5 1 .6 1-2.1 .7-5 .6-.8 .7 .2 3-1.4 1.6-4-1.1-1 .2-2.1 1.3-.8 2 .5 3 .4 .7 1 .3 2-.2 2-1.9 2-1.1 3.2 1.2 .7 1 .2 2-.3 1-1.5 1-.2 1 .5 2-.6 1-3 1.2-4-.1-2-.8-5-.3-4 1.4-3-1.2-4 .5-2.4-.7 .4-3.1 1-.3 4 1.2 2 .1 1.5-.9 .6-1-.3-1-1-1-4.5-3 .4-1 2.8-1 4.5-2.9 3.9-1.1 3-4 1.5-1 2.6-.6 3 .8 2-1.7zM545.4 306.4l-1.3 1 0 1 .9 .6 5.3-.6-.1-1-1.3-1zM551.1 309.4l1.3 3 1.6 .8 2-.1 2.5-2.7-4.5-1.6-2 0zM470 293.3l1.2 .1-1.7 0zM484 296.4l3 .3 1 .7 1.3 2-.5 1-3 2-1.8 2.6-3 .6-6-1.4-.7-1.8 .7-1.5 5-1.2zM595 295.8l2.6 1.6 1.6 2 4.7 1 0 1-1.1 2-4.2 2-1.8 2 .2 1.3 .7 .7 5.3 1.5 1 1.2 .5 0-2.5 4.4-1.9-.1-1.6-1-1-3-1.5-2.6-3-.3-2 1.6-1 .1-2.6-.8-.5-1 0-2-1.1-1 1.2-.6 .9 .6-.6 1 .7 .1 .5-1.1 1.5-.1 1 1 1-1 1.3-2.9 2.2-3 0-1-1.7-2zM455 299.8l2 .1 3.2 3.5-.5 1-2.7 .4-2.5-1.1 0-3.9zM523 302.1l1.5 1.3-2.5 .4 0-1.3zM464 303.2l4 .7 1.6 1.5 .2 1-.5 1-1.3 .4-2-.3-1.8-1.1-.7-2zM500 304.1l2-.1 .8 .4-.1 1-.7 .3-2-1zM513 304.9l2 .5 .4 1-.4 .4-1.8-.4-.6-1zM503 305.8l.1 .6 3.2 1-1.3 1.3-2 .2-.6-1.5zM484 306.5l1 0 5 2.4 3.1 2.5-2.1 2.4-1 0-5-2.8-3.1-.6-.2-1zM512 308.9l2 0 4.2 2.5 .2 1-2.4 1.6-2 0-1-.6-1.4-3zM455 310.1l.8 1.3-.6 1-.7 .1 0-2.4zM574 313.1l1-.2 .9 .5-3.5 4-2.4 1.2-1 0-1-.6-.3-1.6 .8-1 3.5-.7zM463 313.9l2-.3 .7 .8-1.7 .3-1.8-.3zM473 314.1l1-.1 1 .6 .6 1.8-.6 1.4-1.2-.4-1.5-3zM502 315.2l2 .2 1.6 1-2.9 1-.7 1.2-.8-2.2zM508 316.3l3-.1 1.7 1.2 .4 1-1.1 .6-2-.2-2.4-1.4-.1-1zM523 317.1l.8 .3 .5 1-1.3 2-1 .4-.6-.4 0-2zM494 318.4l1.2 0 1.2 1-.3 2 1.1 2 .1 1-3.6 4-.1 2 1.1 2-.2 1 .5 1 3 1.1 .9 .9 .6 2-.5 1.3-5 .8-2 1-1.3-1.1 1.4-4-2.4-2-.5-1 .7-2-2.9-1.8-.7-1.2 1.7-2.5 6.4-3.5 .5-1-1.3-2zM477 321.2l1-.1 1.1 1.3-2.1 .4-.5-.4zM506 321.2l2 .1 1.2 1.1-.6 3 2.4 4-.5 2 2.9 3 .4 1-1.8 1.3-2-.3-1.4-1-.4-1 .3-3-1.1-1-1.4-.7-2.4-.3 1.4-1.4 .6-2.6-3.2-2 .1-1 .5-1zM564 321.4l2.2 2 .2 2-2.4 1.8-2 .3-.8 1.9-1.2 1.3-3 1.1-1.6-.4-.6-4-1.7-3 1.9-.4 2 .8zM588 322.2l2.4 1.2 .2 1-.5 1-1.1 1.2-4 1.7-1-.5-.9-1.4 .7-1zM517 323l2 .2 1 .6 .9 1.6-.4 1-2.5 1.5-3 1.1-.4-.6 .3-3zM455 323.9l2-.1 1.5 .6 .7 1-1.5 2 .2 3-.9 1-2.5 1.5 0-9zM536 325.1l5.7 .3 .4 1-3.2 1 .6 5 1.5 1.2 4 .3 .7 .5-2.7 4.6-10 2.4-9-1.3-3 1.3-5 .3-2 2.6-2 0-.4-.9 1.4-4.2 1-.4 3 .3 4.1-2.7 .9-4 2-.6 2 2.4 1 .3 3-1.2 .9-1.9 1.1-.8 3.4-.2 1.1-2-1.4-2zM533 334.4l-.7 1 .4 1 1.3 1.1 2 .2 1-.3 .6-1-.6-2-1-.6zM468 327.3l1.9 .1zM592 332.4l2 .7 0 1.3-5 1.3-1.1 1.7 0 1 1.1 1.1 1 2.9 2.5 2 1.2 2-.5 5 .8 1 1-.1 .8-1.9 2.2-1.5 2-.6 2 .3 2.5 1.4 0 1.6-.5 0-3 3-3 .7-.1 1.1 .3 2 1 1 2.8 1.1 2.5 .2 0 5.5-2.5 1.2 .2 1 2.3 .3 0 4.1-10.8-3.4-.3-1 2.6-.3 1.9-1.7-.8-4 .2-3-.6-1-4.7-2.5-2 .2-3 1.9-2 .3-1.3-.9 1-2-.7-.9-4-1.1-3-1.9-3.8-1.1-.4-1 1.2-1.2 1-.1 1.2 .3 1.8 2.4 2 .1 4 1.4 3-.1 .8-.8 .6-2-1.2-2-2.2-1.4-4.6-1.6-.5-1 .7-2-.6-1.3-1-.2-1 .3-1.5 3.2-4.5 2.4-3 2.5-1 .3-2-.6-1.2-.6-.4-1 1.8-3 .8-.6 3-.7 1.4-1.7-.3-1-2.1-1.8-2-.9 0-.5 4-.2 6 1.3 1-.2 2-1.7 4-.4 6-2.4zM463 333.3l1 .2 2 2.7 3 2.2 2-1.3 2 .1 3 .9 2 1.2 4 0 1.8 1.1-.4 1-1.4 .9-2 .2-3-1.5-3-.6-3 0-2-1-4 2.9-5-2.3-1-.3-3 .4-.6-.7-.2-1 .8-1 3-.9 1.6-1.1 1.4-1.8zM476 333.7l1.6 .7-1.6 .2zM553 336.9l5.2 2.5 .5 1-.7 1-2 .5-1.9-.5-.8-1-.5-2zM600 337.3l3-.6 1.5 .3 0 2.1-2.5 .8-1-.8zM507 343.3l0 .6-.6-.5zM482 343.9l3 1.3 .8 1.2-.2 1-4.6 3.5-2.4-.5-.9-1 3.3-4.8zM508 344.3l-.4 .1zM522 344.2l3 0 5.8 2.2-.5 1-1.3 .2-5-.1-5.4-1.1 .6-1zM506 347.4l1 .1 1 1.2 .2 1.7-.5 1-2.6 2-1.4 3-4.7 .9-1.1-3.9 .2-1 2-3 .8-1 1.1-.5zM554 348l2-.1 .9 .5 .5 1-1.4 .7-1-.1-1.3-.6-.3-1zM468 349.4l3.4 0 .9 1-.3 1.3-1 .9-2.5-.2-1.1-1-.3-1zM542 348.9l2-.3 1 .4 2.8 2.4 .3 1-.3 1-1.8 1.3-1.5-.3-2.8-4-.2-1zM535 351.4l2 0 0 1-1 2.3-1 .6-1 0-2-1.4-1.9-.5 1.1-1zM460 351.9l2.1 .5 2.4 2-1 2 .2 1 1.3 1.7 5.3 1.3 3.6 3 2.1 1.2 .9 1.8-.8 2 .4 1 2.4 1-1.1 2-2.8 .7-1.6-.7-2.4-7-6-1.3-1-1.4-1-.5-5 1.2-1.3-4 0-4zM489 352l1-.2 1.4 .6-1.4 .9-1.4-.9zM482 353.2l.7 .2-.1 1-1.6 .1 .2-1.1zM520 353.2l2 0 2.9 2.2-.9 .4-2-.4-2-1.6zM557 353.1l1-.1 1.1 1.4-.1 1-1 .7-1 .1-2-.8-.6-1zM511 356.1l2-.4 1 .3 3.3 3.4-1.9 2-.4 2.2-1 .6-1.6-.8-.4-.8 .7-2.2-.1-1-1.6-2-.3-1zM551 359.4l2.4 1 .6 1-1 2-2.9 2-2.1 2.4-1 .3-4-2-12 .1-1 .6-.5 2.6-.5 .4-1 .2-1-.7-.4-2.9 2.9-1 1.5-2.7 2-1.6 1-.3 7 1.9 3-1.2 4 .1 2-2zM578 358.8l2.2 .6 .6 1-.5 2-4.5 2-1.8 3-1 .2-2-1.1-2-3.2 1-.7 2-.2 2-1.6zM484 362.1l1-.3 1.6 .6 .6 1-.3 2 2 2-.3 1-1.9 0-1.2-2-1.7-1-.6-1zM524 364.7l1.6 .7-.6 .5-1.6-.5zM591 365.1l1 .1 1.3 1.2-.3 1.7-2.2-1.7-.2-1zM500 366l4-.1 .7 .5-.1 1-.6 .3-5 1-.6-.3 0-1zM561 366.3l1.8 1.1-1.1 1-1.7 .4-.6-.4-.3-1 .9-1zM514 367.1l3 0 2 .7 1.6 1.6 0 1-3.4 4-1.2 .8-4 1-3 1.7-3-.1-.9-1.4 .6-1 4.4-2 1.2-2 0-2 .5-1zM465 373l.7 .4-.9 7 .1 2-1.9 1-1-.1-4.3-3.9 .4-1zM484 373.4l1-.5 2 .6 3.6 3.9 .1 1-.6 1-6.1 1.3-4.2-1.3-.9-3 .1-1.9 4-.3zM542 373.3l2-.4 1 .4 .2 1.1-6.2 3.5-1 0-.4-.5 .4-1.6zM455 373.7l1-.1 .3 .8-1.8 .8 0-1.5zM578 374.4l4-.8 4.2 .8-.2 1.1-3 .8-4.9-.9zM496 378.3l1-.3 2.3 .4 3.5 2 .7 1-1.5 1.3-3-.7-5-.1-.5-1.5 .6-1zM568 378.3l3-.2 2 .7 1.7 2.6 .3 1-.3 1-.7 .8-2 .3-3-.2-2-.9-.5-1 0-2 .2-1zM579 380.2l1.2 .2-1.2 1-.3-1zM591 379.9l1-.4 1 .5 .5 1.4-1.4 1-1.1-.2-.7-.8zM471 383l.6 .4-.6 1.2-.4-1.2zM535 383l1.9 .4 .2 1-.7 2-1.4 .5-3-.3zM559 383.4l2 .6 1.5 1.4-.8 1-2.4 1-1.3 2-1 .6-1-.4-.4-1.2 .8-3 .6-1.1zM604 384.3l.5 0 0 7.4-1.5-.3-.7-2 1.2-2zM503 385l2 0 2 1.8 .3 1.6-1.3 1.2-4 .9-1.6-1.1-.5-2zM543 385l1.7 .4 .1 1-1.8-.3-.7-.7zM598 387.2l0 .5zM461 388.2l1 0 3.9 2.2-.9 1-4 1-1-.6-.4-1.4 .4-1.6zM488 389.1l2-.7 2 .5 4.4 5.5 1.9 1-.3 .9-1 .2-2-1.2-5 2.4-2.5-.3-.8-1 .7-2-.8-3 .1-1zM597 388.8l1-.1 1.4 3.7-.4 .9-1 .1-2-2-.2-1zM589 390.1l2 .2 .7 1.1-.7 .9-2-.3-.6-.6zM479 391.7l.7 .7-1.8 3 .3 1 1.7 2-.8 2-1.1 .4-2.6-1.4-.6-2 1.2-2.8zM548 392.4l4 .1 .9 .9 0 1-.9 1-4.5 0-1-1 .1-1zM534 393.4l4 1.3 6-.5 .5 .2 .2 1-2.7 1.5-2.5 2.5-.4 1 .4 2-1.5 1-2.7-2-3.3-1.2-5-.9-1.2-.9-.3-2 .5-1.1zM570 395.2l1 .2 .9 2-.3 1-2.6 .3 0-2.3zM456 396.3l1 .2 3.9 2.9 .7 1-.6 1-1 .6-1 0-4.5-1 0-4.6zM561 398l1-.3 1 .3 .4 1.4-2.4 1.3-2 2.7-1 .8-1 0-.8-1.8 .4-2 .8-1zM604 398.8l.5 0 0 6.5-.5 0-1.7-2.9 0-1zM493 399.9l5.8 2.5 1.1 3-.9 1.5-1 .3-5-1.1-.9-1.7-.5-2 .4-1.9zM575 399.9l1.1 .5-1.1 1.1-1-1.1zM589 400.2l2-.6 1.3 .8-.7 1-1.6 1-4.6 0 0-1zM517 401l3.6 .4 .6 1-.3 2 .4 2 .7 .9 3 .9 1.8 2.2-1.2 6-.6 1-2 .4-1-.4-1-5 0-4.4-3 .2-1.4-.8-.6-3-.8-1-.2-1zM549 405.3l3-.4 3 1 3 .2 1 2.2 1 .9 2-.1 2 1.4 .5 .9-.2 1-1.3 .5-2-.5-2-2.4-2 0-3 .8-4 .5-.4-2.9-1.6-1-.3-1zM534 405.9l2-.3 1.3 .8 .3 2-.6 1.3-2 .4-2-1.2-.4-1.5 .5-1zM583 405.9l3 0 1.2 1.5-1.2 1.3-4 .5-3 1-2-.4-.2-.4 2.2-.5zM593 408.3l1.2 .1zM460 409.8l2 .7 .1 2.9 1.6 3 .1 1-.5 1.5-8.8 0 0-3.8 3.5-.6 1.5-1.1zM476 409.8l1.9 .6-.9 1.4-2 .4 .1-1.8zM510 410.2l2-.5 2 1.3 .6 1.4 .1 2 1 2 .7 1 2 1 0 .5-5.9 0-2.5-3.5-2.9-3 .1-1zM494 411.2l1.3 .2 .8 1-1.1 .7-1-.2-.5-.5zM602 413.2l1 .5 1 2.6 .5 0 0 2.6-4.3 0-.3-1.5 .8-3zM534 413.9l1-.2 .7 .7-.1 1-1.6 .7-.6-.7 0-1zM485 416.3l1-.5 1 .5 1.1 2.6-7.7 0 0-.5 2.6-.4zM532 416.9l1-.5 1 .5 .6 2-4.3 0 0-.5zM545 416.7l8 1.1 1.3 .6 0 .5-9.7 0-.2-1.5zM564 417.5l1.9 .9 0 .5-2.8 0z"/>
<path fill="#e2e44a" fill-rule="evenodd" d="M464 264.9l6.3 0 0 .5-2.3 1.2-2 .2-2.6-1.4 0-.5zM476 264.9l3 1.5 2-.7 .1-.8 4.6 0-.7 2-2.2 1.5-.6 1 .1 3 .7 1.3 2 1.5 2-.9 1.5 .1 .7 1-1.2 2-1 .8-2-2.5-4-.3-3.9-3-.9-1 .2-2-3.8-3zM501 264.9l3.1 0 .5 1.5-.9 5-.7 .7-2-2.2-.6-1.5 0-2zM550 264.9l2.9 0 0 .5-.9 1.1-1 .3-1.1-.4-.5-1.5zM555 264.9l9.9 0 0 .5-4.9 1.7-5.5-1.7 0-.5zM594 264.9l4.4 0 0 .5 2.3 2-.2 1-4.5 .8-1-.6-1.7-3.2 0-.5zM551 273.2l1 .1 1.4 1.1 .5 1-.4 1-1.5 0-1.9-1-.2-1zM598 272.8l3 0 3.5 1.6 0 4-4.5-1.6-2.3-3.4zM499 277l.5 .4-.5 .4zM521 277.1l1.2 .3 .3 1-.2 2-1.3 1-1-.4-.5-1.6 .5-1.8zM572 278.4l1-.3 .5 .3 .3 1-.8 .9-1.2-.9zM584 278l2.2 .4 1.1 1-.2 1-2.1 .7-2-.3-.6-1.4zM506 278.8l1.2 .6-1.2 .5-.6-.5zM488 280l4.9 2.4 .5 2-1.4 .8-2 .2-3-1.4-.6-.6 .5-2zM466 281.4l1 0 1 1.3-1 .7-1 0-.8-1zM455 281.7l2 1.3 5 1.4 .6 1-2.2 2-.2 3-4.4 3-.6 3 1.3 2-.1 1-1.9 .5 0-12.7 .5 0 .3-.8-.2-2-.6-.1 0-2.6zM482 286.4l2.2 0 .8 .8 .1 1.2-1.5 2-1.6 .7-2-.6-.8-2.1 .6-1zM511 287.3l2 0 1-.8 1 .4 1.9 3.5-.9 .9-1.3 .1-1.7-3.9-5 2.3-3.3-.4 .4-1 1.9-.7 3 .2zM553 287.2l2 .6 1.7 1.6 .1 1-.8 .9-3 .7-3-1.3-1 .2-1 1.6-1 .1-2.3-1.2-.7-1 1-1 4 .9 3-2.8zM468 289.3l1.1 .1 .3 1-.4 .6-1 .1-1.2-.7 .2-.6zM563 290.1l1-.2 .9 .5-.9 .6-1-.1-.5-.5zM531 292.2l2-.2 1 .3 3 2.4 1 .3 7 .8 4 1.1 4 2.5-.2 1-1.7 3-2.1 .8-1-.6-2-3.6-4 .1-5-1.3-2 .4-2-.4-4.4-3.4-.5-1 .9-1.3zM560 294.4l2.9 3-.7 1-1.2 .5-2-.2-.7-1.3 .7-2.4zM580 294.3l1.6 1.1-.6 1.1-1.4-1.1zM508 294.9l1.2 .5-1.2 .7-.5-.7zM480 298.1l2-.4 3.5 .7-.6 1-4.9 1.4-.8-.4-.1-1zM465 299.3l2 .1-1 1.1-1.3-.1-.1-1zM491 299.3l3 .5 3-.4 2 .5 1.7 1.5 .8 2-.5 .7-1 .1-5-1.2-2 1.7-.7-1.3-2.6-2-.3-1zM603 299.3l1.5-.5 0 5.4-1.5-.8-.5-1-.2-2zM584 299.5l3.6 .9 1.3 1 0 1-1.9 .5-2-.7-1.4-1.8zM537 301.8l1-.3 1 .3 .3 .6-2.3 4.8-1 .1-1.1-.9 .1-1zM559 306.1l5-.7 1 .2 .6 .8 .2 1-.8 1.9-3.6 2.1 1.3 2 .2 1-.7 2 .4 1 3 2-.6 1.5-2 .9-2.4-.4-1.7-4-.9-.6-4-1.7-1 .1-.9-.8 2.5-4 3.2-2 .7-2zM469 309l2.1 .4 2.6 3 1.3 .7 2 0 4-1.6 2.8 .9 .8 1-1.5 2-2.1 1-3-.2-2-1-7 1.6-2.6-1.4-.5-1 2.1-4.9zM604 310.3l.5 0 0 3.9-.5 0-1.9-1.8 .3-1zM531 311.2l3 .3 1.6 .9 .3 1-.4 1-2.5 2-1 0-2-3-.1-1zM495 312l2-.1 .6 .5-1 1-1.6 0zM568 317.3l.6 .1-.6 .3zM573 317.4l4.8 0 2.3 1 .4 1-.5 .7-1 .1zM455 317.8l1.1 .6-1.6 .7 0-1.3zM549 318.4l1 0 3.9 3-1.6 2-2.3 1-1-.2-1-.9-1.2-1.9 1.2-2.2zM455 324.2l1.3 1.2 .3 1-.6 .9-1.5-.2 0-2.9zM480 324.1l6-.4 1.9 .7-.2 1-1.3 1-2.4 .7-5.3-.7-.2-1zM576 324.2l3 .4 1.1 .8 .6 2-.7 .7-1-.1-4-1.5-.7-1.1zM500 325.3l3.2 .1-1.2 .2-1 1-1.1-.2zM523 325.4l.8 0 .2 1-1.1 1-.7 3-1.2 0-.7-1 .2-1 1.5-2.9zM539 325.7l1 .5 .5 1.2-.2 5-.8 1-1.5 .3-2.7-1.3-.3-1 1-2zM494 329.3l1-.4 .8 .5-.8 1.2-.8-.2zM563 330.3l1.3 .1 1.4 1 .1 1-1.3 2-.5 1.9-1.7-.9-1.4-3 .3-1zM597 331.2l1-.2 .5 .4-.2 1-2-1zM512 335.2l2-.8 3 .4 1.4 .6 2.2 3 3.4-.3 2.1 1.3 .5 1-.7 1-5.9 2.2-2 2.9-1 .3-1.5-1.4 1.2-5-1.7-.9-5-.2-2.8-.9-1.3-1 1.1-.9 4-.6zM469 337.2l1-.3 2 .3 1.5 1.2 .2 1-1 1-1.7-.2-1.9-1.8zM481 337.1l2-.3 2 .6 .5 1-.5 1.8-2 .1-1.8-.9-.8-1zM497 337.2l5.2 2.2-.2 1.5-1 .4-1-.2-4.3-2.7zM576 337.2l1.4 .2 .1 1-4.5 2.7-1-.5 .3-1.2 1.7-.6zM490 337.8l1-.1 1.2 .7-.4 1-1.8 .4-1-.4 .2-1zM536 338.1l3 .2 1 1 1.2 2.1 .1 1-.5 1-2.8 1.5-1 .2-1.2-.7-2-4 .4-1zM599 338.1l1.3 .3 1 2-.5 1-1.3 1-3.5 1.2-3-1.1-3 .8-1-.3 0-1.6 1-1.4 1-.3 2 .5 1-.1zM555 339.3l1.3 .1 .7 1.4 .6 2.6-1 1-3.6 .2-3.4-2.2-.7-1 .1-1 1-.9 3 .4zM486 340.2l2 .9 1 1.1 0 1.2-1.9 1-2.1 .1-1-1.1 1-2.8zM477 344.1l1-.4 3 3.2 .6 1.5-.6 .9-2-.9-.2-1-2.5-1-.3-1zM499 345.3l.9 1.1 .1 1-1 1.1-1 0-1.5-1.1 .1-1zM576 346.8l2 .2 .3 .4-.3 .8-1 .4-.9-.2-.7-1zM539 348.3l2 .1 .9 1-.9 3.5-1.8 3.5-.2 2.3-2.9-1.3-.5-1 .6-3-.4-2 .3-1 .8-1zM558 348.4l.3 1-1.6 0 .3-.6zM526 350.2l1-.6 1 0 1.7 1.8-.2 1-1.5 1-4 .5-.8-1.5zM574 351.9l1-.2 1.7 .7 .8 1-.5 .9-2 1-1-.3-1-1.6zM455 353l2 .8 1.7 1.6-2.7 3.5-1.5 .8 0-6.7zM463 353.4l1 .4 1.4 1.6-.2 1-2.2 .3-3.2-1.3 .8-1zM590 353.9l1.1 .5 .4 1-.5 1.3-1.9-2.3zM496 354.9l1 .2 1.6 2.3-1.6 1.1-1.9-.1-.3-1 .2-1.3zM604 355.4l.5 0zM572 356.4l2-.5 .6 .5 .2 1-1.8 .4-1.1-.4zM512 357.9l2 .1 1.5 1.4 .2 1-1.7 .8-2.9-.8-.5-1zM478 359.3l4 .2 2.4 .9 1.2 1-1.6 1.4-4 .4-1.7-.8-1.9-2zM584 360.3l3-.5 3 1.1 1 1.5-.3 2-1.7 1.6-2 .5-3-.8-1-1.2-.5-2.1 .1-1zM528 362.3l1-.1 1 .9 2.6 5.3-.4 1-3.2 1.6-2 1.7-1 .4-1-.2-2.8-3.5 4.8-5zM496 364.2l1.2 .2 3.8 3.8 3-.4 .5 1.6-.5 .8-3-.4-3 1.5-3-.5-1.4-2.4-.2-2 .6-1zM512 365.3l1.1 .1 .6 1-.7 .9-1 .4-1.3-.3-.3-1zM572 367.3l3 .1 .7 1-.7 1.1-4-.6-.4-.5 .4-.7zM588 370.3l1.7 .1 1.3 1-1 .4-2-.2zM456 371.3l2.2 1.1-.2 .4-1 .6-2.5-.2 0-1.7zM467 371.3l1.1 .1 .4 1-.2 1-1.3 1.1-1 .1-1.4-1.2 .6-1zM476 370.7l3 .1 2.4 .6 1 1 .3 2-1.7 1.5-1 .2-1.8-.7-2.7-2-.3-2zM602 372.1l2.5 .1 0 2.4-3.5-.6-.1-.6zM554 373.2l1-.5 1 .4 .1 1.3-1.1 .9-1.2-.9zM576 373.3l1 0 1.8 1.1-.6 1-1.2 .4-2 .3-1-.5 .3-1.2zM502 374.2l1-.5 1 .7-.2 1-.8 .6-1-.2zM490 377.1l1-.3 7 .3 4.7 4.3 0 1-1.7 .8-3-.4-1 .3-1 1.7-2 .8-7 .8-1.4 1-.8 2-.8 .7-5 .7-2-.3-2 .6-.9-1.7 .2-2 1.5-1 4.6-1 .5-1 .1-2.2 1-.4 2 1.1 1-.1 3.9-1.4 .7-1-.2-2zM585 377.3l2-.5 5 1 1 2.6-1 1-4 .3-3.2-3.3zM559 378.3l1-.8 1 .1 .2 .8-1.2 1.4-1.1-.4zM568 380.3l3-.1 3 1.6 4-.3 .8 .9 .5 2 2.7 2 .9 2-.5 1-1.4 .1-2.1-1.1-.8-1-.8-3-2.3-1.4-1-.2-3 1.1-3 0-1-.5 0-2zM455 381l1.3 .4 .1 1-1.9 .4 0-1.8zM564 385l1-.2 .6 .6-1.6 .5-.7-.5zM541 386.4l2-.5 1 .5 .3 1-.3 1.5-4 1-1.8-.5-1.3-1 .7-1zM500 387.4l4-.1 1.7 1.1 .5 1-1.2 1.2-4-.1-1 .9-.9 4-2.1 .1-1.4-1.1 .4-4.5 2-2.1zM590 387.2l1.1 .2 .3 1-.4 .9-2.3 2.1-1.1 3-1.6 1.4-1.8-2.4-.2-1.1 3-2.3 2-2.6zM550 388.2l2-.6 .9 .8-1.5 1-1.3 2-1.4 1-2.7 0-1.8-1-.5-1 .5-1 .8-.3 3 0zM564 390.3l2-.3 1 .4-2.9 4-2.1 .4-4 1.9-4.3 .7-.1-1 1.3-3 3.1-1.1 4-.4zM471 390.9l3 .2 .6 .3 .3 1-1.9 .6-2-.1-.9-.5 .1-1zM598 391.1l1.4 .3 .5 1-.4 1-2.5 1.1-2.2-1.1 .4-1zM457 393.2l5.4 1.2-.1 1-5.3-.5-.9-.5zM490 394.3l2 1.1 .8 2-2.8 3.4-1 .5-1-2.5-1.3-1.4 .4-1 .9-.3zM517 394.5l3 .5 1.1 1.4-2.7 3 2.1 2 0 1-1.5 .8-2-1.6-2.7-.2-1.3-.6-.5-1.4 .5-1.3 2.1-.7 .9-2zM485 396.2l1 .2-1 .5-.3-.5zM532 398.2l1-.4 1.5 .6-1.5 1.4-1-.4zM464 400.4l2 1 .2 1-3.2 5-8.5 1.9 0-7.2 5.5-.4zM535 400.1l2 1 1 1.1-.6 1.2-3.7 0-.2-2zM575 401.4l2 0 3 2 2 2.5-.4 1.5-.6 .3-3-.1-3.5-1.2-.5-1 .2-3zM542 402.3l1-.6 .7 .7zM553 402.4l1 .2 .5 1.8-1.2 4-1.3 1-1-.3-2.6-2.7 1.1-2zM592 402.1l1.1 .3 .5 1-.6 2.3-1 .4-2-1.7 1-2zM557 403.2l.3 .2-.5 0zM540 405.4l1 0 3.4 2 .8 1 0 1-.7 1-2.5 .6-4 .2-1-.4-.4 .6-2.6 1.4-2.3-.4-.4-1 .7-1.2 2-.5 3 .5 1.3-2.8zM592 409l2-.4 1.5 .8 1.7 2-1.2 1.3-3 .8-2 1.3-1 0 .3-3.4zM464 410.9l1-.1 2 .6 .3 1-3.5 0-.5-1zM509 412.4l1-.4 1 1 .1 2.4-1.1 1-2 0-1-1 .1-1 .4-1zM523 412.4l1 0 1.1 1 .4 1-.4 1-2.1 1.3-3-.3 .1-1zM491 414l2-.3 2 1 3-.1 .9 .8-.9 1.6-4 .3-1.7 1.1 0 .5-7 0 0-.5 3.7-2.2zM584 414.1l2.1 .3 1.5 2-1.6 1.4-.5 1.1-4.2 0 0-2.5zM545 415.1l3-.1 .8 .4 .4 1-.8 1-1.4 .5-2.8-2.5zM589 416l1-.6 1 .3 2.6 1.7 .8 1.5-5.7 0-.5-1.5zM534 417l2-.1 1 .6 .8 1.4-4.9 0zM480 417.6l2 .4 .7 .4 0 .5-3.7 0z"/><ellipse cx="500.3" cy="280.8" rx="3.6" ry="2.9000000000000004" fill="#58c0de"/><ellipse cx="514.1" cy="292.3" rx="4.2" ry="3.0" fill="#58c0de"/><ellipse cx="494.6" cy="312.6" rx="3.8000000000000003" ry="3.8" fill="#58c0de"/><ellipse cx="598.9" cy="287" rx="4.0" ry="3.0" fill="#58c0de"/><ellipse cx="539.7" cy="338.2" rx="3.7" ry="3.0" fill="#58c0de"/><ellipse cx="470.8" cy="350.6" rx="3.7" ry="3.2" fill="#58c0de"/><ellipse cx="530.3" cy="352.7" rx="3.7" ry="3.2" fill="#58c0de"/><ellipse cx="568" cy="357.7" rx="4.800000000000001" ry="3.8" fill="#58c0de"/><ellipse cx="469.9" cy="364.7" rx="3.6" ry="3.2" fill="#58c0de"/><ellipse cx="478.7" cy="386.3" rx="3.6" ry="3.1" fill="#58c0de"/><ellipse cx="553.8" cy="383.3" rx="3.7" ry="3.3" fill="#58c0de"/><ellipse cx="533" cy="402.7" rx="4.2" ry="3.6" fill="#58c0de"/><ellipse cx="486.7" cy="412.4" rx="4.0" ry="3.2" fill="#58c0de"/><ellipse cx="500.3" cy="280.8" rx="1.4" ry="1.1" fill="#1f5fae"/><ellipse cx="514.1" cy="292.3" rx="2.0" ry="1.2" fill="#1f5fae"/><ellipse cx="494.6" cy="312.6" rx="1.6" ry="2.0" fill="#1f5fae"/><ellipse cx="598.9" cy="287" rx="1.8" ry="1.2" fill="#1f5fae"/><ellipse cx="539.7" cy="338.2" rx="1.5" ry="1.2" fill="#1f5fae"/><ellipse cx="470.8" cy="350.6" rx="1.5" ry="1.4" fill="#1f5fae"/><ellipse cx="530.3" cy="352.7" rx="1.5" ry="1.4" fill="#1f5fae"/><ellipse cx="568" cy="357.7" rx="2.6" ry="2.0" fill="#1f5fae"/><ellipse cx="469.9" cy="364.7" rx="1.4" ry="1.4" fill="#1f5fae"/><ellipse cx="478.7" cy="386.3" rx="1.4" ry="1.3" fill="#1f5fae"/><ellipse cx="553.8" cy="383.3" rx="1.5" ry="1.5" fill="#1f5fae"/><ellipse cx="533" cy="402.7" rx="2.0" ry="1.8" fill="#1f5fae"/><ellipse cx="486.7" cy="412.4" rx="1.8" ry="1.4" fill="#1f5fae"/><rect x="454.5" y="265.3" width="149" height="1.3" fill="#5ec4e2"/><rect x="454.5" y="415.2" width="149" height="1.8" fill="#e8eef8"/></g>
</g>
<polyline points="554.2,264.9 554.2,345.7 529.9,386.3" fill="none" stroke="#111" stroke-width="1.35"/>
<rect x="454.5" y="264.9" width="149" height="152.3" fill="none" stroke="#333" stroke-width="1.1"/>
<g fill="#231f20" font-size="11.6" text-anchor="end">
<text x="449.8" y="292.6">200</text>
<text x="449.8" y="324.4">150</text>
<text x="449.8" y="356.2">100</text>
<text x="449.8" y="388.1">50</text>
<text x="449.8" y="420.5">0</text>
</g>
<g stroke="#1a1a1a" stroke-width="1.1">
<line x1="454.5" y1="288.8" x2="458.5" y2="288.8"/>
<line x1="454.5" y1="320.6" x2="458.5" y2="320.6"/>
<line x1="454.5" y1="352.4" x2="458.5" y2="352.4"/>
<line x1="454.5" y1="384.3" x2="458.5" y2="384.3"/>
<line x1="483.8" y1="417.2" x2="483.8" y2="412.6"/>
<line x1="512.1" y1="417.2" x2="512.1" y2="412.6"/>
<line x1="540.3" y1="417.2" x2="540.3" y2="412.6"/>
<line x1="568.5" y1="417.2" x2="568.5" y2="412.6"/>
<line x1="596.7" y1="417.2" x2="596.7" y2="412.6"/>
</g>
<g fill="#231f20" font-size="11.6" text-anchor="middle">
<text x="457.6" y="431.9">0</text>
<text x="484.1" y="431.9">50</text>
<text x="513.1" y="431.9">100</text>
<text x="542.2" y="431.9">150</text>
<text x="571.3" y="431.9">200</text>
<text x="598.3" y="431.9">250</text>
</g>
<text x="530.4" y="447.1" font-size="12" text-anchor="middle" fill="#231f20"><tspan font-style="italic">X</tspan>/mm</text>
<text transform="translate(429.1,335.8) rotate(-90)" font-size="12" text-anchor="middle" fill="#231f20"><tspan font-style="italic">Y</tspan>/mm</text>
<text x="420.1" y="264.8" font-size="12" fill="#231f20">g.</text>
<clipPath id="cph"><polygon points="648.6,264.9 797.6,264.9 797.6,342.7 749.2,417.2 648.6,417.2"/></clipPath>
<g clip-path="url(#cph)">
<g filter="url(#bl)"><rect x="648.6" y="264.9" width="149" height="152.3" fill="#f05a28"/>
<path fill="#f4e050" fill-rule="evenodd" d="M662.1 264.9l1.2 0 1 2.5-.2 .5-1 .3-.6-.8zM668.1 264.9l2.3 0 0 .5-1.3 .8-1-.2-.3-.6zM695.1 264.9l.6 0-.6 1-.5-.5 0-.5zM746.1 264.9l1.2 0 0 1.5-1.2 1.4-.8-2.4 0-.5zM728.1 266.2l.5 .2-.5 .2zM672.1 267l.4 .4-.4 .6-.7-.6zM729.1 267l0 .5zM776.1 269.8l3 .3 1.1 1.3-3.1 2.6-1 0-1.5-1.6 .5-2zM649.1 272.7l1.7 .7 .1 1-.8 1-1.5 .3 0-3zM795.1 278l1-.4 .5 .8-.5 1.1-1.1-.1zM663.1 281.1l0 .4zM715.1 281.3l1-.8 1-.1 .7 1-.4 1-1.3 .5-1-.5zM723.1 281.3l2.9 1.1 .3 1-2.2 1.1-2-.6-.5-.5 0-1zM792.1 281.3l2 .3 .5 .8-.2 2-1.3 .8-2-.4-1.1-1.4 .1-1.3zM727.1 282.1l1-.2 .3 .5-1.3 .4-.9-.4zM656.1 283.3l2.4 .1-.3 1-1.1 .1-1-.2-.3-.9zM655.1 284.3l.5 .1-1 0zM777.1 283.5l1.2 1.9 0 1-1.2 .5-1-.3-.3-1.2zM741.1 285.3l1.9 1.1 .1 1-2 1.2-1-.4-.2-.8 .2-1.1zM674.1 288.4l.7 1 0 1-.7 1.2-.7-2.2zM658.1 289.6l1.3 .8-2.2 0zM765.1 289.9l1-.2 .7 .7 .1 1-.5 1-1.3 .8-.9-.8 0-1zM731.1 291.1l0 .4zM776.1 291.4l3.4 2 .2 1-.6 .7-1 .3-1-.6-1.3-2.4zM705.1 291.9l1-.1 .7 .6 .1 1-.8 1.1-1-.1-.6-1 0-1zM746.1 293.3l1-.6 1 0 .9 .7 .3 1-1.1 1-1.1 0-1.4-1zM662.1 294.2l.7 1.2-.7 .8-.7-.8zM776.1 298.1l1.2 .3-.2 2.5-1 0-.4-.5-.4-1zM666.1 298.9l.4 2.5-1.4 1.4-.5-.4 0-1zM687.1 298.6l1-.1 1.5 .9 .1 1-1.6 1.5-1-.7-.3-1.8zM733.1 300.4l1 .3 0 2.2-2 4.1-1 .6-1-.1-.8-1.1 0-2 1-2zM700.1 303.4l1.3 0 1.9 2 .2 2-.4 .7-1-.1-2.1-2.6-.5-1zM707.1 310.2l2 .3 1 1 .1 1.9-1.1 3.2-1.6-1.2-1.6-3 .2-1.7zM739.1 310.4l.6 1-.6 .3-.8-.3zM727.1 315.3l0 .5zM766.1 315.4l2-.7 .9 .7-1.4 4-1.5 1.6-1-.4-1-2.2zM752.1 317.4l4 2.8 1.1-.8 1.9-.4 1.2 .4-.2 1-2 1-2-.7-1 .6-1-.2-3.2-1.7 .2-1.4zM668.1 320.4l1-.4 .7 .4 .3 1-1 1.4-1.1-.4-.3-1zM695.1 321.2l1-.3 1 .4 .4 1.1-.4 .9-1 .1-1-.6-.3-.4zM745.1 320.9l1-.2 .5 1.7-.5 .4-1-.4-.6-1zM709.1 322.2l1.6 .2-1.6 .8-.9-.8zM672.1 323.6l1.7 .8 .9 4-2.6 1-.9-5zM677.1 327.4l1-.6 .5 .6-.5 .3zM682.1 327.2l-.4 .2zM699.1 326.9l2-.2 .9 .7-.1 1-4.8 1.8-.3-.8 .6-1zM784.1 327.3l.5 1.1-.4 1-1.1 .3-.8-.3-.3-1zM665.1 328.3l3 2.9 2-.9 1.1 .1-1.1 1.5-2 .5-3 1.7-1-.3-.2-1.4 .2-2.8zM776.1 328.3l3-.3 .8 .4-.3 1-3.5 2-1-.4-.7-1.6 .7-.9zM768.1 328.7l.5 .7-.3 2 .8 2-1 .8-1.3-.8-.1-1 1-2-.2-1zM694.1 330.3l2.8 .1-2.8 1zM654.1 333.4l1-.5 1 .4 .2 1.1-2.2 2.9-.3-2.9zM749.1 332.9l.7 .5-.7 .9-.7-.9zM697.1 335.9l1 .3 .5 2.2-1.5 2.1-1 .3-.9-.4 0-1 .8-1 .5-2zM739.1 337.3l1-.5 2 .5 .6 1.1-.3 1-1.3 .7-2-.5-.3-1.2zM755.1 336.8l1-.4 1 .8 1.2 2.2-1.2 3-1 1-3-.4-1.4 .4-.5-1 1.9-.6 1.4-1.4 .2-1-.7-1 .2-1zM654.1 337.4l0 1.3zM671.1 343.6l1 .2 .4 .6-.4 .4-1 0zM771.1 349.4l1.2 0 1.2 1-1.4 1.7-1-.1-.4-.6-.2-1zM649.1 351.8l1 0 .3 .6-.7 1-1.1 .4 0-2zM716.1 352.9l1-.2 1 .6 1 3.1-1 .5-3-1.5-.4-1 .5-1zM658.1 354.1l2-.5 1 .3 .4 1.5-1.4 1.4-3 .6-.9-1-.1-1zM740.1 356.1l1-.7 1 1-1 .5-1-.2zM770.1 357.4l1.2 0 2.3 2 .6 2-.5 1-.6 .4-1-.3-.6-2.1-1.5-2zM697.1 357.9l.5 .5-.4 1-1.1 0 0-1zM692.1 360l1-.4 .9 .8-.9 .7-1-.3zM787.1 360.4l2-.3 .6 .3 .4 1-2 2.2-1-.4zM652.1 363.3l1-.2 1.8 1.3-.1 1-1.7 1.3-1 0-1.2-1.3zM679.1 366.2l.4 1.2-.4 1.3zM738.1 366.2l.3 .2-.3 .9zM675.1 370.2l2 .2-.4 1-1 0-.9-1zM690.1 370l1-.3 1 1-1 .1-1-.4zM693.1 371.6l2.7 1.8-.7 .9-1-.2-.7-.7zM762.1 372l1 0 1.6 1.4 0 1-1.6 1.4-1-.6-.3-.8zM706.1 373.4l1-.5 1.1 .5-1.1 1.4-1-.4zM701.1 377l1-.1 .8 1.5-.8 1.6-1 .2-.9-.8-.2-1zM762.1 377.4l0 1.2-1 .8 0-1.2zM798.1 376.9l.5 0 0 1.1-.5 0zM667.1 380.3l1 .1 .4 1-.4 .7-1 .4-.6-1.1zM755.1 386.2l2 .6 2-.8 1 .5 .4 .9-.4 .5-2-.1-2 2.5-1 .4-1-.3-.4-2 .4-1.2zM790.1 386.9l1.3 .5 .7 1 .1 1-2.1 .9-1.1-.9 .1-1.3zM692.1 390.1l1-.2 1.1 .5 .3 1-.4 1.2-1 .4-1.8-.6-.3-1zM718.1 393.2l1-.3 1 2 2.6 1.5-3.6 .7zM684.1 393.9l1-.1 1.1 .6-1.1 .5-1.9-.5zM793.1 395l1-.5 1.2 1.9 0 1-1.2 1.1-1.2-.1-.8-1zM649.1 397.3l-.5 .3zM773.1 397.3l1-.3 .3 .4-.3 1.1-1 .3-.3-.4zM699.1 398.3l1.6 .1 .6 1-1.2 .5-1.3-1.5zM778.1 398.1l1.4 .3 .5 1-.9 1.1-1-.1-.8-1zM754.1 401l.7 .4 .3 1-1.1 0-.6-1zM708.1 401.9l1 .7-1 .3-.5-.5zM693.1 403.3l1 .2 1 .9-2 .6-.9-.6zM703.1 407.4l1.5 1 .5 1.3-1 .3-1.6-.6-.3-1zM682.1 408l1.1 3.4-1.1 .4-1.2-1.4-.1-1 .3-1zM767.1 408.3l3 1 .6 1.1-2.6-.1-1.4-.9 0-1zM758.1 409.1l1-.3 .6 .6 .2 2-.6 1-2.2 .5-1.7-.5 .8-2zM740.1 414.2l.3 1.2-.3 .4-1-1.4zM748.1 417.2l.7 .2zM706.1 418l1-.1 .4 1-1.5 0zM760.1 417.8l1 .3 .3 .8-2 0z"/>
<path fill="#8cc63f" fill-rule="evenodd" d="M776.1 270.9l1.7 .5-.7 1.7-1 .3-.8-1 .2-1zM649.1 273.8l1 .6-1.5 .4 0-1zM723.1 282.2l.8 .2 .5 1-1.7 0zM791.1 282l2 0 .8 1.4-.8 1-1.3 0-1.2-1 0-1zM765.1 290.6l1 .1 .2 .7-1.2 1.1-.4-1.1zM748.1 293.4l.4 1-1.6 0 .2-.9zM778.1 293.1l.4 .3-.4 1.1-.9-1.1zM733.1 301.2l.3 1.2-1.8 4-.5 .5-1-.2-.5-1.3 .5-1.7zM707.1 311.1l1-.2 1.2 .5 .4 1-.6 2.7-1 0-.4-.7-.9-2zM766.1 316.3l1-.9 1 .5-1 2.6-1 1.1-1.1-1.2zM758.1 320.1l1-.3 .1 .6-1.1 .1zM696.1 321.4l.6 1-.6 .3-.5-.3zM665.1 329.2l1 .7 1 1.5-.3 1-1.7 1-.8-1 0-1zM776.1 329.3l1.3 .1-1.3 1.1-.4-1.1zM655.1 334.3l0 .3zM697.1 337.4l.3 1-.3 .2zM740.1 337.4l1 0 1 .7-.3 1.3-1.7 .4-.6-.4-.3-1zM756.1 337.5l.3 .9-.3 .3-.4-.3zM755.1 341.1l1-.2 0 1.6-1.4-.1zM772.1 350.3l0 .4-.4-.3zM716.1 353.4l1.1 0 .9 2.1-1 .3-1.2-.4-.6-1zM660.1 354.4l.4 1-.4 .4-1.2 .6-1.5 0 0-1zM788.1 361l1 .4-1 .5zM652.1 364.1l1-.2 .6 .5-.1 1-1.5 .4-.4-.4zM763.1 373.2l.5 1.2-.5 .2zM701.1 378.2l1.1 .2-1.1 .4zM755.1 387.2l1.2 .2 .5 1-.7 1.3-1 .4-.7-.7-.1-1zM790.1 388.2l.5 .2 0 1-.6 0zM693.1 390.4l.8 1-.7 1-1.1 0-.4-1zM793.1 396.2l1-.5 .5 .7-.5 1.4-1.2-.4zM758.1 409.8l1 0 .2 1.6-1.2 .8-1-.2-.4-.6 .4-.9z"/><rect x="648.6" y="414.7" width="149" height="2.2" fill="#f6e6ee"/></g>
</g>
<polyline points="748,264.9 748,342 724.2,384.9" fill="none" stroke="#111" stroke-width="1.35"/>
<rect x="648.6" y="264.9" width="149" height="152.3" fill="none" stroke="#333" stroke-width="1.1"/>
<g fill="#231f20" font-size="11.6" text-anchor="end">
<text x="643.9" y="292.6">200</text>
<text x="643.9" y="324.4">150</text>
<text x="643.9" y="356.2">100</text>
<text x="643.9" y="388.1">50</text>
<text x="643.9" y="420.5">0</text>
</g>
<g stroke="#1a1a1a" stroke-width="1.1">
<line x1="648.6" y1="288.8" x2="652.6" y2="288.8"/>
<line x1="648.6" y1="320.6" x2="652.6" y2="320.6"/>
<line x1="648.6" y1="352.4" x2="652.6" y2="352.4"/>
<line x1="648.6" y1="384.3" x2="652.6" y2="384.3"/>
<line x1="675.9" y1="417.2" x2="675.9" y2="412.6"/>
<line x1="704.2" y1="417.2" x2="704.2" y2="412.6"/>
<line x1="732.4" y1="417.2" x2="732.4" y2="412.6"/>
<line x1="760.6" y1="417.2" x2="760.6" y2="412.6"/>
<line x1="788.8" y1="417.2" x2="788.8" y2="412.6"/>
</g>
<g fill="#231f20" font-size="11.6" text-anchor="middle">
<text x="650" y="431.9">0</text>
<text x="676.2" y="431.9">50</text>
<text x="705.3" y="431.9">100</text>
<text x="733.9" y="431.9">150</text>
<text x="762.8" y="431.9">200</text>
<text x="791.3" y="431.9">250</text>
</g>
<text x="718.5" y="447.1" font-size="12" text-anchor="middle" fill="#231f20"><tspan font-style="italic">X</tspan>/mm</text>
<text transform="translate(623.2,335.8) rotate(-90)" font-size="12" text-anchor="middle" fill="#231f20"><tspan font-style="italic">Y</tspan>/mm</text>
<text x="614.6" y="264.8" font-size="12" fill="#231f20">h.</text>
</svg></body></html>
